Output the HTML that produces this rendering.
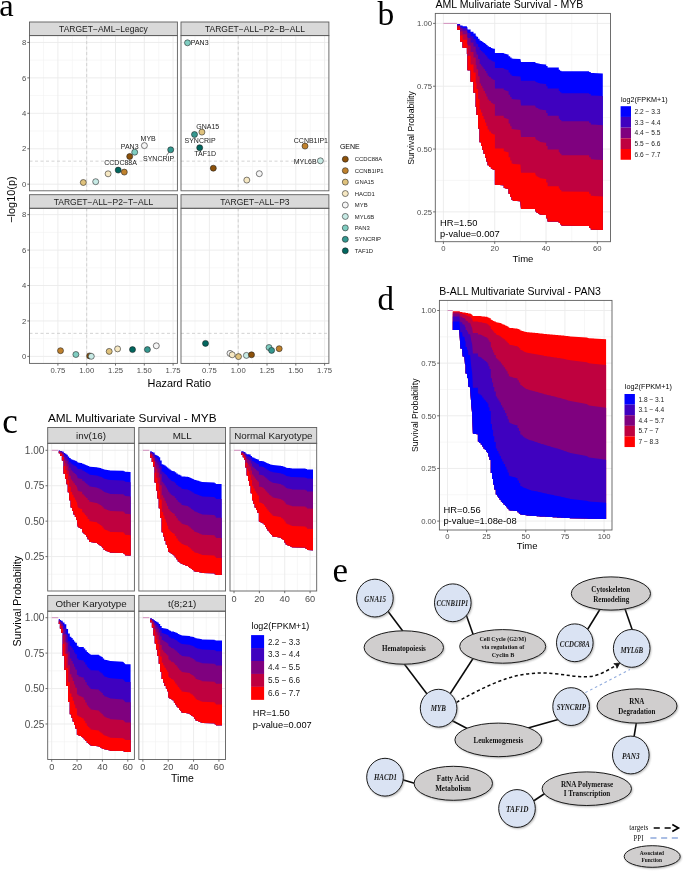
<!DOCTYPE html>
<html><head><meta charset="utf-8"><title>Figure</title>
<style>
html,body{margin:0;padding:0;background:#fff;}
body{width:685px;height:874px;overflow:hidden;}
svg{display:block;}
</style></head>
<body>
<svg width="685" height="874" viewBox="0 0 685 874">
<defs><filter id="blur" x="-20%" y="-20%" width="140%" height="140%"><feGaussianBlur stdDeviation="0.8"/></filter></defs>
<rect x="0" y="0" width="685" height="874" fill="#fff"/>
<g opacity="0.999">
<text x="-0.80" y="15.90" font-family="'Liberation Serif', serif" font-size="32.5" text-anchor="start" fill="#000" font-weight="normal" font-style="normal" >a</text>
<line x1="43.50" y1="35.60" x2="43.50" y2="190.80" stroke="#f2f2f2" stroke-width="0.6" />
<line x1="72.30" y1="35.60" x2="72.30" y2="190.80" stroke="#f2f2f2" stroke-width="0.6" />
<line x1="101.10" y1="35.60" x2="101.10" y2="190.80" stroke="#f2f2f2" stroke-width="0.6" />
<line x1="129.90" y1="35.60" x2="129.90" y2="190.80" stroke="#f2f2f2" stroke-width="0.6" />
<line x1="158.70" y1="35.60" x2="158.70" y2="190.80" stroke="#f2f2f2" stroke-width="0.6" />
<line x1="29.50" y1="166.48" x2="177.40" y2="166.48" stroke="#f2f2f2" stroke-width="0.6" />
<line x1="29.50" y1="131.04" x2="177.40" y2="131.04" stroke="#f2f2f2" stroke-width="0.6" />
<line x1="29.50" y1="95.60" x2="177.40" y2="95.60" stroke="#f2f2f2" stroke-width="0.6" />
<line x1="29.50" y1="60.16" x2="177.40" y2="60.16" stroke="#f2f2f2" stroke-width="0.6" />
<line x1="57.90" y1="35.60" x2="57.90" y2="190.80" stroke="#ebebeb" stroke-width="0.9" />
<line x1="86.70" y1="35.60" x2="86.70" y2="190.80" stroke="#ebebeb" stroke-width="0.9" />
<line x1="115.50" y1="35.60" x2="115.50" y2="190.80" stroke="#ebebeb" stroke-width="0.9" />
<line x1="144.30" y1="35.60" x2="144.30" y2="190.80" stroke="#ebebeb" stroke-width="0.9" />
<line x1="173.10" y1="35.60" x2="173.10" y2="190.80" stroke="#ebebeb" stroke-width="0.9" />
<line x1="29.50" y1="184.20" x2="177.40" y2="184.20" stroke="#ebebeb" stroke-width="0.9" />
<line x1="29.50" y1="148.76" x2="177.40" y2="148.76" stroke="#ebebeb" stroke-width="0.9" />
<line x1="29.50" y1="113.32" x2="177.40" y2="113.32" stroke="#ebebeb" stroke-width="0.9" />
<line x1="29.50" y1="77.88" x2="177.40" y2="77.88" stroke="#ebebeb" stroke-width="0.9" />
<line x1="29.50" y1="42.44" x2="177.40" y2="42.44" stroke="#ebebeb" stroke-width="0.9" />
<line x1="86.70" y1="35.60" x2="86.70" y2="190.80" stroke="#c8c8c8" stroke-width="0.8" stroke-dasharray="3,2.5"/>
<line x1="29.50" y1="161.15" x2="177.40" y2="161.15" stroke="#c8c8c8" stroke-width="0.8" stroke-dasharray="3,2.5"/>
<rect x="29.50" y="22.00" width="147.90" height="13.60" fill="#d9d9d9" stroke="#5e5e5e" stroke-width="0.9" />
<text x="103.45" y="32.00" font-family="'Liberation Sans', sans-serif" font-size="8.5" text-anchor="middle" fill="#1a1a1a" font-weight="normal" font-style="normal" >TARGET−AML−Legacy</text>
<rect x="29.50" y="35.60" width="147.90" height="155.20" fill="none" stroke="#5e5e5e" stroke-width="0.9" />
<line x1="27.30" y1="184.20" x2="29.50" y2="184.20" stroke="#5e5e5e" stroke-width="0.9" />
<text x="26.20" y="186.90" font-family="'Liberation Sans', sans-serif" font-size="7.7" text-anchor="end" fill="#4d4d4d" font-weight="normal" font-style="normal" >0</text>
<line x1="27.30" y1="148.76" x2="29.50" y2="148.76" stroke="#5e5e5e" stroke-width="0.9" />
<text x="26.20" y="151.46" font-family="'Liberation Sans', sans-serif" font-size="7.7" text-anchor="end" fill="#4d4d4d" font-weight="normal" font-style="normal" >2</text>
<line x1="27.30" y1="113.32" x2="29.50" y2="113.32" stroke="#5e5e5e" stroke-width="0.9" />
<text x="26.20" y="116.02" font-family="'Liberation Sans', sans-serif" font-size="7.7" text-anchor="end" fill="#4d4d4d" font-weight="normal" font-style="normal" >4</text>
<line x1="27.30" y1="77.88" x2="29.50" y2="77.88" stroke="#5e5e5e" stroke-width="0.9" />
<text x="26.20" y="80.58" font-family="'Liberation Sans', sans-serif" font-size="7.7" text-anchor="end" fill="#4d4d4d" font-weight="normal" font-style="normal" >6</text>
<line x1="27.30" y1="42.44" x2="29.50" y2="42.44" stroke="#5e5e5e" stroke-width="0.9" />
<text x="26.20" y="45.14" font-family="'Liberation Sans', sans-serif" font-size="7.7" text-anchor="end" fill="#4d4d4d" font-weight="normal" font-style="normal" >8</text>
<line x1="195.00" y1="35.60" x2="195.00" y2="190.80" stroke="#f2f2f2" stroke-width="0.6" />
<line x1="223.80" y1="35.60" x2="223.80" y2="190.80" stroke="#f2f2f2" stroke-width="0.6" />
<line x1="252.60" y1="35.60" x2="252.60" y2="190.80" stroke="#f2f2f2" stroke-width="0.6" />
<line x1="281.40" y1="35.60" x2="281.40" y2="190.80" stroke="#f2f2f2" stroke-width="0.6" />
<line x1="310.20" y1="35.60" x2="310.20" y2="190.80" stroke="#f2f2f2" stroke-width="0.6" />
<line x1="181.00" y1="166.48" x2="328.90" y2="166.48" stroke="#f2f2f2" stroke-width="0.6" />
<line x1="181.00" y1="131.04" x2="328.90" y2="131.04" stroke="#f2f2f2" stroke-width="0.6" />
<line x1="181.00" y1="95.60" x2="328.90" y2="95.60" stroke="#f2f2f2" stroke-width="0.6" />
<line x1="181.00" y1="60.16" x2="328.90" y2="60.16" stroke="#f2f2f2" stroke-width="0.6" />
<line x1="209.40" y1="35.60" x2="209.40" y2="190.80" stroke="#ebebeb" stroke-width="0.9" />
<line x1="238.20" y1="35.60" x2="238.20" y2="190.80" stroke="#ebebeb" stroke-width="0.9" />
<line x1="267.00" y1="35.60" x2="267.00" y2="190.80" stroke="#ebebeb" stroke-width="0.9" />
<line x1="295.80" y1="35.60" x2="295.80" y2="190.80" stroke="#ebebeb" stroke-width="0.9" />
<line x1="324.60" y1="35.60" x2="324.60" y2="190.80" stroke="#ebebeb" stroke-width="0.9" />
<line x1="181.00" y1="184.20" x2="328.90" y2="184.20" stroke="#ebebeb" stroke-width="0.9" />
<line x1="181.00" y1="148.76" x2="328.90" y2="148.76" stroke="#ebebeb" stroke-width="0.9" />
<line x1="181.00" y1="113.32" x2="328.90" y2="113.32" stroke="#ebebeb" stroke-width="0.9" />
<line x1="181.00" y1="77.88" x2="328.90" y2="77.88" stroke="#ebebeb" stroke-width="0.9" />
<line x1="181.00" y1="42.44" x2="328.90" y2="42.44" stroke="#ebebeb" stroke-width="0.9" />
<line x1="238.20" y1="35.60" x2="238.20" y2="190.80" stroke="#c8c8c8" stroke-width="0.8" stroke-dasharray="3,2.5"/>
<line x1="181.00" y1="161.15" x2="328.90" y2="161.15" stroke="#c8c8c8" stroke-width="0.8" stroke-dasharray="3,2.5"/>
<rect x="181.00" y="22.00" width="147.90" height="13.60" fill="#d9d9d9" stroke="#5e5e5e" stroke-width="0.9" />
<text x="254.95" y="32.00" font-family="'Liberation Sans', sans-serif" font-size="8.5" text-anchor="middle" fill="#1a1a1a" font-weight="normal" font-style="normal" >TARGET−ALL−P2−B−ALL</text>
<rect x="181.00" y="35.60" width="147.90" height="155.20" fill="none" stroke="#5e5e5e" stroke-width="0.9" />
<line x1="43.50" y1="208.30" x2="43.50" y2="363.40" stroke="#f2f2f2" stroke-width="0.6" />
<line x1="72.30" y1="208.30" x2="72.30" y2="363.40" stroke="#f2f2f2" stroke-width="0.6" />
<line x1="101.10" y1="208.30" x2="101.10" y2="363.40" stroke="#f2f2f2" stroke-width="0.6" />
<line x1="129.90" y1="208.30" x2="129.90" y2="363.40" stroke="#f2f2f2" stroke-width="0.6" />
<line x1="158.70" y1="208.30" x2="158.70" y2="363.40" stroke="#f2f2f2" stroke-width="0.6" />
<line x1="29.50" y1="338.68" x2="177.40" y2="338.68" stroke="#f2f2f2" stroke-width="0.6" />
<line x1="29.50" y1="303.24" x2="177.40" y2="303.24" stroke="#f2f2f2" stroke-width="0.6" />
<line x1="29.50" y1="267.80" x2="177.40" y2="267.80" stroke="#f2f2f2" stroke-width="0.6" />
<line x1="29.50" y1="232.36" x2="177.40" y2="232.36" stroke="#f2f2f2" stroke-width="0.6" />
<line x1="57.90" y1="208.30" x2="57.90" y2="363.40" stroke="#ebebeb" stroke-width="0.9" />
<line x1="86.70" y1="208.30" x2="86.70" y2="363.40" stroke="#ebebeb" stroke-width="0.9" />
<line x1="115.50" y1="208.30" x2="115.50" y2="363.40" stroke="#ebebeb" stroke-width="0.9" />
<line x1="144.30" y1="208.30" x2="144.30" y2="363.40" stroke="#ebebeb" stroke-width="0.9" />
<line x1="173.10" y1="208.30" x2="173.10" y2="363.40" stroke="#ebebeb" stroke-width="0.9" />
<line x1="29.50" y1="356.40" x2="177.40" y2="356.40" stroke="#ebebeb" stroke-width="0.9" />
<line x1="29.50" y1="320.96" x2="177.40" y2="320.96" stroke="#ebebeb" stroke-width="0.9" />
<line x1="29.50" y1="285.52" x2="177.40" y2="285.52" stroke="#ebebeb" stroke-width="0.9" />
<line x1="29.50" y1="250.08" x2="177.40" y2="250.08" stroke="#ebebeb" stroke-width="0.9" />
<line x1="29.50" y1="214.64" x2="177.40" y2="214.64" stroke="#ebebeb" stroke-width="0.9" />
<line x1="86.70" y1="208.30" x2="86.70" y2="363.40" stroke="#c8c8c8" stroke-width="0.8" stroke-dasharray="3,2.5"/>
<line x1="29.50" y1="333.35" x2="177.40" y2="333.35" stroke="#c8c8c8" stroke-width="0.8" stroke-dasharray="3,2.5"/>
<rect x="29.50" y="194.70" width="147.90" height="13.60" fill="#d9d9d9" stroke="#5e5e5e" stroke-width="0.9" />
<text x="103.45" y="204.70" font-family="'Liberation Sans', sans-serif" font-size="8.5" text-anchor="middle" fill="#1a1a1a" font-weight="normal" font-style="normal" >TARGET−ALL−P2−T−ALL</text>
<rect x="29.50" y="208.30" width="147.90" height="155.10" fill="none" stroke="#5e5e5e" stroke-width="0.9" />
<line x1="27.30" y1="356.40" x2="29.50" y2="356.40" stroke="#5e5e5e" stroke-width="0.9" />
<text x="26.20" y="359.10" font-family="'Liberation Sans', sans-serif" font-size="7.7" text-anchor="end" fill="#4d4d4d" font-weight="normal" font-style="normal" >0</text>
<line x1="27.30" y1="320.96" x2="29.50" y2="320.96" stroke="#5e5e5e" stroke-width="0.9" />
<text x="26.20" y="323.66" font-family="'Liberation Sans', sans-serif" font-size="7.7" text-anchor="end" fill="#4d4d4d" font-weight="normal" font-style="normal" >2</text>
<line x1="27.30" y1="285.52" x2="29.50" y2="285.52" stroke="#5e5e5e" stroke-width="0.9" />
<text x="26.20" y="288.22" font-family="'Liberation Sans', sans-serif" font-size="7.7" text-anchor="end" fill="#4d4d4d" font-weight="normal" font-style="normal" >4</text>
<line x1="27.30" y1="250.08" x2="29.50" y2="250.08" stroke="#5e5e5e" stroke-width="0.9" />
<text x="26.20" y="252.78" font-family="'Liberation Sans', sans-serif" font-size="7.7" text-anchor="end" fill="#4d4d4d" font-weight="normal" font-style="normal" >6</text>
<line x1="27.30" y1="214.64" x2="29.50" y2="214.64" stroke="#5e5e5e" stroke-width="0.9" />
<text x="26.20" y="217.34" font-family="'Liberation Sans', sans-serif" font-size="7.7" text-anchor="end" fill="#4d4d4d" font-weight="normal" font-style="normal" >8</text>
<line x1="57.90" y1="363.40" x2="57.90" y2="365.60" stroke="#5e5e5e" stroke-width="0.9" />
<text x="57.90" y="372.90" font-family="'Liberation Sans', sans-serif" font-size="7.7" text-anchor="middle" fill="#4d4d4d" font-weight="normal" font-style="normal" >0.75</text>
<line x1="86.70" y1="363.40" x2="86.70" y2="365.60" stroke="#5e5e5e" stroke-width="0.9" />
<text x="86.70" y="372.90" font-family="'Liberation Sans', sans-serif" font-size="7.7" text-anchor="middle" fill="#4d4d4d" font-weight="normal" font-style="normal" >1.00</text>
<line x1="115.50" y1="363.40" x2="115.50" y2="365.60" stroke="#5e5e5e" stroke-width="0.9" />
<text x="115.50" y="372.90" font-family="'Liberation Sans', sans-serif" font-size="7.7" text-anchor="middle" fill="#4d4d4d" font-weight="normal" font-style="normal" >1.25</text>
<line x1="144.30" y1="363.40" x2="144.30" y2="365.60" stroke="#5e5e5e" stroke-width="0.9" />
<text x="144.30" y="372.90" font-family="'Liberation Sans', sans-serif" font-size="7.7" text-anchor="middle" fill="#4d4d4d" font-weight="normal" font-style="normal" >1.50</text>
<line x1="173.10" y1="363.40" x2="173.10" y2="365.60" stroke="#5e5e5e" stroke-width="0.9" />
<text x="173.10" y="372.90" font-family="'Liberation Sans', sans-serif" font-size="7.7" text-anchor="middle" fill="#4d4d4d" font-weight="normal" font-style="normal" >1.75</text>
<line x1="195.00" y1="208.30" x2="195.00" y2="363.40" stroke="#f2f2f2" stroke-width="0.6" />
<line x1="223.80" y1="208.30" x2="223.80" y2="363.40" stroke="#f2f2f2" stroke-width="0.6" />
<line x1="252.60" y1="208.30" x2="252.60" y2="363.40" stroke="#f2f2f2" stroke-width="0.6" />
<line x1="281.40" y1="208.30" x2="281.40" y2="363.40" stroke="#f2f2f2" stroke-width="0.6" />
<line x1="310.20" y1="208.30" x2="310.20" y2="363.40" stroke="#f2f2f2" stroke-width="0.6" />
<line x1="181.00" y1="338.68" x2="328.90" y2="338.68" stroke="#f2f2f2" stroke-width="0.6" />
<line x1="181.00" y1="303.24" x2="328.90" y2="303.24" stroke="#f2f2f2" stroke-width="0.6" />
<line x1="181.00" y1="267.80" x2="328.90" y2="267.80" stroke="#f2f2f2" stroke-width="0.6" />
<line x1="181.00" y1="232.36" x2="328.90" y2="232.36" stroke="#f2f2f2" stroke-width="0.6" />
<line x1="209.40" y1="208.30" x2="209.40" y2="363.40" stroke="#ebebeb" stroke-width="0.9" />
<line x1="238.20" y1="208.30" x2="238.20" y2="363.40" stroke="#ebebeb" stroke-width="0.9" />
<line x1="267.00" y1="208.30" x2="267.00" y2="363.40" stroke="#ebebeb" stroke-width="0.9" />
<line x1="295.80" y1="208.30" x2="295.80" y2="363.40" stroke="#ebebeb" stroke-width="0.9" />
<line x1="324.60" y1="208.30" x2="324.60" y2="363.40" stroke="#ebebeb" stroke-width="0.9" />
<line x1="181.00" y1="356.40" x2="328.90" y2="356.40" stroke="#ebebeb" stroke-width="0.9" />
<line x1="181.00" y1="320.96" x2="328.90" y2="320.96" stroke="#ebebeb" stroke-width="0.9" />
<line x1="181.00" y1="285.52" x2="328.90" y2="285.52" stroke="#ebebeb" stroke-width="0.9" />
<line x1="181.00" y1="250.08" x2="328.90" y2="250.08" stroke="#ebebeb" stroke-width="0.9" />
<line x1="181.00" y1="214.64" x2="328.90" y2="214.64" stroke="#ebebeb" stroke-width="0.9" />
<line x1="238.20" y1="208.30" x2="238.20" y2="363.40" stroke="#c8c8c8" stroke-width="0.8" stroke-dasharray="3,2.5"/>
<line x1="181.00" y1="333.35" x2="328.90" y2="333.35" stroke="#c8c8c8" stroke-width="0.8" stroke-dasharray="3,2.5"/>
<rect x="181.00" y="194.70" width="147.90" height="13.60" fill="#d9d9d9" stroke="#5e5e5e" stroke-width="0.9" />
<text x="254.95" y="204.70" font-family="'Liberation Sans', sans-serif" font-size="8.5" text-anchor="middle" fill="#1a1a1a" font-weight="normal" font-style="normal" >TARGET−ALL−P3</text>
<rect x="181.00" y="208.30" width="147.90" height="155.10" fill="none" stroke="#5e5e5e" stroke-width="0.9" />
<line x1="209.40" y1="363.40" x2="209.40" y2="365.60" stroke="#5e5e5e" stroke-width="0.9" />
<text x="209.40" y="372.90" font-family="'Liberation Sans', sans-serif" font-size="7.7" text-anchor="middle" fill="#4d4d4d" font-weight="normal" font-style="normal" >0.75</text>
<line x1="238.20" y1="363.40" x2="238.20" y2="365.60" stroke="#5e5e5e" stroke-width="0.9" />
<text x="238.20" y="372.90" font-family="'Liberation Sans', sans-serif" font-size="7.7" text-anchor="middle" fill="#4d4d4d" font-weight="normal" font-style="normal" >1.00</text>
<line x1="267.00" y1="363.40" x2="267.00" y2="365.60" stroke="#5e5e5e" stroke-width="0.9" />
<text x="267.00" y="372.90" font-family="'Liberation Sans', sans-serif" font-size="7.7" text-anchor="middle" fill="#4d4d4d" font-weight="normal" font-style="normal" >1.25</text>
<line x1="295.80" y1="363.40" x2="295.80" y2="365.60" stroke="#5e5e5e" stroke-width="0.9" />
<text x="295.80" y="372.90" font-family="'Liberation Sans', sans-serif" font-size="7.7" text-anchor="middle" fill="#4d4d4d" font-weight="normal" font-style="normal" >1.50</text>
<line x1="324.60" y1="363.40" x2="324.60" y2="365.60" stroke="#5e5e5e" stroke-width="0.9" />
<text x="324.60" y="372.90" font-family="'Liberation Sans', sans-serif" font-size="7.7" text-anchor="middle" fill="#4d4d4d" font-weight="normal" font-style="normal" >1.75</text>
<line x1="170.70" y1="149.80" x2="166.50" y2="155.50" stroke="#222" stroke-width="0.6" />
<circle cx="83.30" cy="182.50" r="3.00" fill="#dfc27d" stroke="#1a1a1a" stroke-width="0.55" />
<circle cx="95.70" cy="181.70" r="3.00" fill="#c7eae5" stroke="#1a1a1a" stroke-width="0.55" />
<circle cx="108.10" cy="173.80" r="3.00" fill="#f6e8c3" stroke="#1a1a1a" stroke-width="0.55" />
<circle cx="118.20" cy="170.10" r="3.00" fill="#01665e" stroke="#1a1a1a" stroke-width="0.55" />
<circle cx="124.30" cy="172.10" r="3.00" fill="#bf812d" stroke="#1a1a1a" stroke-width="0.55" />
<circle cx="129.70" cy="156.50" r="3.00" fill="#8c510a" stroke="#1a1a1a" stroke-width="0.55" />
<circle cx="134.70" cy="152.20" r="3.00" fill="#80cdc1" stroke="#1a1a1a" stroke-width="0.55" />
<circle cx="144.40" cy="145.60" r="3.00" fill="#f5f5f5" stroke="#1a1a1a" stroke-width="0.55" />
<circle cx="170.70" cy="149.80" r="3.00" fill="#35978f" stroke="#1a1a1a" stroke-width="0.55" />
<circle cx="187.50" cy="42.80" r="3.00" fill="#80cdc1" stroke="#1a1a1a" stroke-width="0.55" />
<circle cx="194.50" cy="134.50" r="3.00" fill="#35978f" stroke="#1a1a1a" stroke-width="0.55" />
<circle cx="201.90" cy="132.10" r="3.00" fill="#dfc27d" stroke="#1a1a1a" stroke-width="0.55" />
<circle cx="199.70" cy="147.70" r="3.00" fill="#01665e" stroke="#1a1a1a" stroke-width="0.55" />
<circle cx="213.30" cy="168.20" r="3.00" fill="#8c510a" stroke="#1a1a1a" stroke-width="0.55" />
<circle cx="246.80" cy="180.10" r="3.00" fill="#f6e8c3" stroke="#1a1a1a" stroke-width="0.55" />
<circle cx="259.30" cy="173.70" r="3.00" fill="#f5f5f5" stroke="#1a1a1a" stroke-width="0.55" />
<circle cx="305.00" cy="146.10" r="3.00" fill="#bf812d" stroke="#1a1a1a" stroke-width="0.55" />
<circle cx="320.40" cy="160.80" r="3.00" fill="#c7eae5" stroke="#1a1a1a" stroke-width="0.55" />
<circle cx="60.50" cy="350.70" r="3.00" fill="#bf812d" stroke="#1a1a1a" stroke-width="0.55" />
<circle cx="75.90" cy="354.50" r="3.00" fill="#80cdc1" stroke="#1a1a1a" stroke-width="0.55" />
<circle cx="89.60" cy="355.90" r="3.00" fill="#8c510a" stroke="#1a1a1a" stroke-width="0.55" />
<circle cx="91.30" cy="356.30" r="3.00" fill="#c7eae5" stroke="#1a1a1a" stroke-width="0.55" />
<circle cx="109.20" cy="351.40" r="3.00" fill="#dfc27d" stroke="#1a1a1a" stroke-width="0.55" />
<circle cx="117.60" cy="348.90" r="3.00" fill="#f6e8c3" stroke="#1a1a1a" stroke-width="0.55" />
<circle cx="132.50" cy="349.60" r="3.00" fill="#01665e" stroke="#1a1a1a" stroke-width="0.55" />
<circle cx="147.40" cy="349.60" r="3.00" fill="#35978f" stroke="#1a1a1a" stroke-width="0.55" />
<circle cx="156.30" cy="345.80" r="3.00" fill="#f5f5f5" stroke="#1a1a1a" stroke-width="0.55" />
<circle cx="205.50" cy="343.40" r="3.00" fill="#01665e" stroke="#1a1a1a" stroke-width="0.55" />
<circle cx="230.00" cy="353.40" r="3.00" fill="#f5f5f5" stroke="#1a1a1a" stroke-width="0.55" />
<circle cx="232.20" cy="354.80" r="3.00" fill="#f6e8c3" stroke="#1a1a1a" stroke-width="0.55" />
<circle cx="238.50" cy="356.60" r="3.00" fill="#dfc27d" stroke="#1a1a1a" stroke-width="0.55" />
<circle cx="246.40" cy="355.40" r="3.00" fill="#c7eae5" stroke="#1a1a1a" stroke-width="0.55" />
<circle cx="251.50" cy="354.80" r="3.00" fill="#8c510a" stroke="#1a1a1a" stroke-width="0.55" />
<circle cx="269.00" cy="347.50" r="3.00" fill="#80cdc1" stroke="#1a1a1a" stroke-width="0.55" />
<circle cx="271.60" cy="350.40" r="3.00" fill="#35978f" stroke="#1a1a1a" stroke-width="0.55" />
<circle cx="279.20" cy="348.70" r="3.00" fill="#bf812d" stroke="#1a1a1a" stroke-width="0.55" />
<text x="148.20" y="140.90" font-family="'Liberation Sans', sans-serif" font-size="7.0" text-anchor="middle" fill="#1a1a1a" font-weight="normal" font-style="normal" >MYB</text>
<text x="129.70" y="148.90" font-family="'Liberation Sans', sans-serif" font-size="7.0" text-anchor="middle" fill="#1a1a1a" font-weight="normal" font-style="normal" >PAN3</text>
<text x="158.60" y="161.10" font-family="'Liberation Sans', sans-serif" font-size="7.0" text-anchor="middle" fill="#1a1a1a" font-weight="normal" font-style="normal" >SYNCRIP</text>
<text x="120.60" y="165.40" font-family="'Liberation Sans', sans-serif" font-size="7.0" text-anchor="middle" fill="#1a1a1a" font-weight="normal" font-style="normal" >CCDC88A</text>
<text x="207.80" y="128.90" font-family="'Liberation Sans', sans-serif" font-size="7.0" text-anchor="middle" fill="#1a1a1a" font-weight="normal" font-style="normal" >GNA15</text>
<text x="200.10" y="143.20" font-family="'Liberation Sans', sans-serif" font-size="7.0" text-anchor="middle" fill="#1a1a1a" font-weight="normal" font-style="normal" >SYNCRIP</text>
<text x="205.20" y="156.30" font-family="'Liberation Sans', sans-serif" font-size="7.0" text-anchor="middle" fill="#1a1a1a" font-weight="normal" font-style="normal" >TAF1D</text>
<text x="310.90" y="142.70" font-family="'Liberation Sans', sans-serif" font-size="7.0" text-anchor="middle" fill="#1a1a1a" font-weight="normal" font-style="normal" >CCNB1IP1</text>
<text x="305.20" y="163.70" font-family="'Liberation Sans', sans-serif" font-size="7.0" text-anchor="middle" fill="#1a1a1a" font-weight="normal" font-style="normal" >MYL6B</text>
<text x="190.80" y="45.30" font-family="'Liberation Sans', sans-serif" font-size="7.0" text-anchor="start" fill="#1a1a1a" font-weight="normal" font-style="normal" >PAN3</text>
<text x="179.30" y="387.00" font-family="'Liberation Sans', sans-serif" font-size="10.9" text-anchor="middle" fill="#000" font-weight="normal" font-style="normal" >Hazard Ratio</text>
<text transform="translate(14.5,199.6) rotate(-90)" font-family="'Liberation Sans', sans-serif" font-size="10.9" text-anchor="middle">−log10(p)</text>
<text x="339.90" y="148.80" font-family="'Liberation Sans', sans-serif" font-size="7.0" text-anchor="start" fill="#000" font-weight="normal" font-style="normal" >GENE</text>
<circle cx="345.30" cy="159.20" r="3.00" fill="#8c510a" stroke="#1a1a1a" stroke-width="0.55" />
<text x="354.80" y="161.30" font-family="'Liberation Sans', sans-serif" font-size="5.9" text-anchor="start" fill="#1a1a1a" font-weight="normal" font-style="normal" >CCDC88A</text>
<circle cx="345.30" cy="170.65" r="3.00" fill="#bf812d" stroke="#1a1a1a" stroke-width="0.55" />
<text x="354.80" y="172.75" font-family="'Liberation Sans', sans-serif" font-size="5.9" text-anchor="start" fill="#1a1a1a" font-weight="normal" font-style="normal" >CCNB1IP1</text>
<circle cx="345.30" cy="182.10" r="3.00" fill="#dfc27d" stroke="#1a1a1a" stroke-width="0.55" />
<text x="354.80" y="184.20" font-family="'Liberation Sans', sans-serif" font-size="5.9" text-anchor="start" fill="#1a1a1a" font-weight="normal" font-style="normal" >GNA15</text>
<circle cx="345.30" cy="193.55" r="3.00" fill="#f6e8c3" stroke="#1a1a1a" stroke-width="0.55" />
<text x="354.80" y="195.65" font-family="'Liberation Sans', sans-serif" font-size="5.9" text-anchor="start" fill="#1a1a1a" font-weight="normal" font-style="normal" >HACD1</text>
<circle cx="345.30" cy="205.00" r="3.00" fill="#f5f5f5" stroke="#1a1a1a" stroke-width="0.55" />
<text x="354.80" y="207.10" font-family="'Liberation Sans', sans-serif" font-size="5.9" text-anchor="start" fill="#1a1a1a" font-weight="normal" font-style="normal" >MYB</text>
<circle cx="345.30" cy="216.45" r="3.00" fill="#c7eae5" stroke="#1a1a1a" stroke-width="0.55" />
<text x="354.80" y="218.55" font-family="'Liberation Sans', sans-serif" font-size="5.9" text-anchor="start" fill="#1a1a1a" font-weight="normal" font-style="normal" >MYL6B</text>
<circle cx="345.30" cy="227.90" r="3.00" fill="#80cdc1" stroke="#1a1a1a" stroke-width="0.55" />
<text x="354.80" y="230.00" font-family="'Liberation Sans', sans-serif" font-size="5.9" text-anchor="start" fill="#1a1a1a" font-weight="normal" font-style="normal" >PAN3</text>
<circle cx="345.30" cy="239.35" r="3.00" fill="#35978f" stroke="#1a1a1a" stroke-width="0.55" />
<text x="354.80" y="241.45" font-family="'Liberation Sans', sans-serif" font-size="5.9" text-anchor="start" fill="#1a1a1a" font-weight="normal" font-style="normal" >SYNCRIP</text>
<circle cx="345.30" cy="250.80" r="3.00" fill="#01665e" stroke="#1a1a1a" stroke-width="0.55" />
<text x="354.80" y="252.90" font-family="'Liberation Sans', sans-serif" font-size="5.9" text-anchor="start" fill="#1a1a1a" font-weight="normal" font-style="normal" >TAF1D</text>
<text x="377.60" y="25.30" font-family="'Liberation Serif', serif" font-size="33.5" text-anchor="start" fill="#000" font-weight="normal" font-style="normal" >b</text>
<text x="435.50" y="7.60" font-family="'Liberation Sans', sans-serif" font-size="10.55" text-anchor="start" fill="#000" font-weight="normal" font-style="normal" >AML Mulivariate Survival - MYB</text>
<line x1="469.06" y1="13.40" x2="469.06" y2="241.70" stroke="#f2f2f2" stroke-width="0.6" />
<line x1="520.38" y1="13.40" x2="520.38" y2="241.70" stroke="#f2f2f2" stroke-width="0.6" />
<line x1="571.70" y1="13.40" x2="571.70" y2="241.70" stroke="#f2f2f2" stroke-width="0.6" />
<line x1="435.30" y1="180.46" x2="610.50" y2="180.46" stroke="#f2f2f2" stroke-width="0.6" />
<line x1="435.30" y1="117.64" x2="610.50" y2="117.64" stroke="#f2f2f2" stroke-width="0.6" />
<line x1="435.30" y1="54.81" x2="610.50" y2="54.81" stroke="#f2f2f2" stroke-width="0.6" />
<line x1="443.40" y1="13.40" x2="443.40" y2="241.70" stroke="#ebebeb" stroke-width="0.9" />
<line x1="494.72" y1="13.40" x2="494.72" y2="241.70" stroke="#ebebeb" stroke-width="0.9" />
<line x1="546.04" y1="13.40" x2="546.04" y2="241.70" stroke="#ebebeb" stroke-width="0.9" />
<line x1="597.36" y1="13.40" x2="597.36" y2="241.70" stroke="#ebebeb" stroke-width="0.9" />
<line x1="435.30" y1="211.88" x2="610.50" y2="211.88" stroke="#ebebeb" stroke-width="0.9" />
<line x1="435.30" y1="149.05" x2="610.50" y2="149.05" stroke="#ebebeb" stroke-width="0.9" />
<line x1="435.30" y1="86.22" x2="610.50" y2="86.22" stroke="#ebebeb" stroke-width="0.9" />
<line x1="435.30" y1="23.40" x2="610.50" y2="23.40" stroke="#ebebeb" stroke-width="0.9" />
<path d="M457.1,23.4 L457.1,24.1 L460.1,24.1 L460.1,25.5 L462.6,25.5 L462.6,26.3 L466.9,26.3 L466.9,27.3 L467.5,27.3 L467.5,29.6 L468.1,29.6 L470.6,29.6 L470.6,31.8 L473.5,31.8 L473.5,33.5 L475.7,33.5 L475.7,35.7 L476.5,35.7 L476.5,36.8 L477.4,36.8 L478.1,36.8 L478.1,38.7 L478.9,38.7 L479.6,38.7 L479.6,40.5 L480.3,40.5 L481.0,40.5 L481.0,41.1 L481.6,41.1 L482.3,41.1 L482.3,42.0 L483.0,42.0 L483.6,42.0 L483.6,42.9 L484.3,42.9 L485.0,42.9 L485.0,43.8 L485.6,43.8 L486.3,43.8 L486.3,45.0 L487.0,45.0 L487.6,45.0 L487.6,46.2 L488.3,46.2 L489.1,46.2 L489.1,47.1 L490.0,47.1 L490.9,47.1 L490.9,47.9 L491.7,47.9 L492.3,47.9 L492.3,48.4 L492.9,48.4 L493.4,48.4 L493.4,48.8 L494.0,48.8 L494.9,48.8 L494.9,53.1 L495.7,53.1 L503.2,53.1 L503.8,53.1 L503.8,53.6 L504.3,53.6 L507.8,54.5 L508.6,54.5 L508.6,56.3 L509.5,56.3 L510.2,56.3 L510.2,57.6 L510.9,57.6 L511.6,57.6 L511.6,58.6 L512.3,58.6 L513.5,58.7 L520.4,59.0 L521.0,62.0 L535.1,62.0 L535.8,62.9 L536.6,62.9 L536.6,63.3 L537.3,63.3 L538.1,63.3 L538.1,63.6 L538.9,63.6 L539.6,63.6 L539.6,64.0 L540.4,64.0 L545.6,64.5 L546.2,64.5 L546.2,66.0 L546.9,66.0 L547.6,66.0 L547.6,67.6 L548.2,67.6 L558.1,67.6 L558.8,67.6 L558.8,69.8 L559.4,69.8 L560.0,69.8 L560.0,70.7 L560.7,70.7 L561.4,70.7 L561.4,71.3 L562.0,71.3 L588.3,71.3 L589.1,71.3 L589.1,71.9 L590.0,71.9 L590.8,71.9 L590.8,72.9 L591.6,72.9 L602.8,73.4 L602.8,230.1 L591.6,229.5 L590.8,229.5 L590.8,227.7 L590.0,227.7 L589.1,227.7 L589.1,225.9 L588.3,225.9 L562.0,225.5 L561.4,225.5 L561.4,224.2 L560.7,224.2 L560.0,224.2 L560.0,222.9 L559.4,222.9 L558.8,222.9 L558.8,221.6 L558.1,221.6 L548.2,221.6 L547.6,221.6 L547.6,218.3 L546.9,218.3 L546.2,218.3 L546.2,215.0 L545.6,215.0 L540.4,214.4 L539.6,214.4 L539.6,213.5 L538.9,213.5 L538.1,213.5 L538.1,212.7 L537.3,212.7 L536.6,212.7 L536.6,211.8 L535.8,211.8 L535.1,209.1 L521.0,209.1 L520.4,201.2 L513.5,200.7 L512.3,200.0 L511.6,200.0 L511.6,196.9 L510.9,196.9 L510.2,196.9 L510.2,193.8 L509.5,193.8 L508.6,193.8 L508.6,188.7 L507.8,188.7 L504.3,188.1 L503.8,188.1 L503.8,185.2 L503.2,185.2 L495.7,184.7 L494.9,184.7 L494.9,169.8 L494.0,169.8 L493.4,169.8 L493.4,169.2 L492.9,169.2 L492.3,169.2 L492.3,168.6 L491.7,168.6 L490.9,168.6 L490.9,166.9 L490.0,166.9 L489.1,166.9 L489.1,165.2 L488.3,165.2 L487.6,165.2 L487.6,161.4 L487.0,161.4 L486.3,161.4 L486.3,157.6 L485.6,157.6 L485.0,157.6 L485.0,153.8 L484.3,153.8 L483.6,153.8 L483.6,150.0 L483.0,150.0 L482.3,150.0 L482.3,146.1 L481.6,146.1 L481.0,146.1 L481.0,142.3 L480.3,142.3 L479.6,142.3 L479.6,128.6 L478.9,128.6 L478.1,128.6 L478.1,114.9 L477.4,114.9 L476.5,114.9 L476.5,107.0 L475.7,107.0 L475.7,92.7 L473.5,92.7 L473.5,81.8 L470.6,81.8 L470.6,70.3 L468.1,70.3 L467.5,70.3 L467.5,53.9 L466.9,53.9 L466.9,47.8 L462.6,47.8 L462.6,41.7 L460.1,41.7 L460.1,29.7 L457.1,29.7 L457.1,23.4 Z" fill="#0000FF"/>
<path d="M457.1,23.4 L457.1,24.5 L460.1,24.5 L460.1,26.8 L462.6,26.8 L462.6,28.0 L466.9,28.0 L466.9,29.4 L467.5,29.4 L467.5,33.0 L468.1,33.0 L470.6,33.0 L470.6,36.2 L473.5,36.2 L473.5,38.9 L475.7,38.9 L475.7,42.3 L476.5,42.3 L476.5,44.0 L477.4,44.0 L478.1,44.0 L478.1,47.0 L478.9,47.0 L479.6,47.0 L479.6,50.0 L480.3,50.0 L481.0,50.0 L481.0,51.0 L481.6,51.0 L482.3,51.0 L482.3,52.3 L483.0,52.3 L483.6,52.3 L483.6,53.6 L484.3,53.6 L485.0,53.6 L485.0,55.0 L485.6,55.0 L486.3,55.0 L486.3,56.6 L487.0,56.6 L487.6,56.6 L487.6,58.4 L488.3,58.4 L489.1,58.4 L489.1,59.5 L490.0,59.5 L490.9,59.5 L490.9,60.6 L491.7,60.6 L492.3,60.6 L492.3,61.3 L492.9,61.3 L493.4,61.3 L493.4,61.8 L494.0,61.8 L494.9,61.8 L494.9,68.1 L495.7,68.1 L503.2,68.1 L503.8,68.1 L503.8,68.9 L504.3,68.9 L507.8,69.9 L508.6,69.9 L508.6,72.5 L509.5,72.5 L510.2,72.5 L510.2,74.4 L510.9,74.4 L511.6,74.4 L511.6,75.8 L512.3,75.8 L513.5,76.0 L520.4,76.4 L521.0,80.7 L535.1,80.7 L535.8,82.0 L536.6,82.0 L536.6,82.5 L537.3,82.5 L538.1,82.5 L538.1,82.9 L538.9,82.9 L539.6,82.9 L539.6,83.5 L540.4,83.5 L545.6,84.1 L546.2,84.1 L546.2,86.2 L546.9,86.2 L547.6,86.2 L547.6,88.5 L548.2,88.5 L558.1,88.5 L558.8,88.5 L558.8,91.0 L559.4,91.0 L560.0,91.0 L560.0,92.2 L560.7,92.2 L561.4,92.2 L561.4,93.2 L562.0,93.2 L588.3,93.2 L589.1,93.2 L589.1,94.1 L590.0,94.1 L590.8,94.1 L590.8,95.5 L591.6,95.5 L602.8,96.1 L602.8,230.1 L591.6,229.5 L590.8,229.5 L590.8,227.7 L590.0,227.7 L589.1,227.7 L589.1,225.9 L588.3,225.9 L562.0,225.5 L561.4,225.5 L561.4,224.2 L560.7,224.2 L560.0,224.2 L560.0,222.9 L559.4,222.9 L558.8,222.9 L558.8,221.6 L558.1,221.6 L548.2,221.6 L547.6,221.6 L547.6,218.3 L546.9,218.3 L546.2,218.3 L546.2,215.0 L545.6,215.0 L540.4,214.4 L539.6,214.4 L539.6,213.5 L538.9,213.5 L538.1,213.5 L538.1,212.7 L537.3,212.7 L536.6,212.7 L536.6,211.8 L535.8,211.8 L535.1,209.1 L521.0,209.1 L520.4,201.2 L513.5,200.7 L512.3,200.0 L511.6,200.0 L511.6,196.9 L510.9,196.9 L510.2,196.9 L510.2,193.8 L509.5,193.8 L508.6,193.8 L508.6,188.7 L507.8,188.7 L504.3,188.1 L503.8,188.1 L503.8,185.2 L503.2,185.2 L495.7,184.7 L494.9,184.7 L494.9,169.8 L494.0,169.8 L493.4,169.8 L493.4,169.2 L492.9,169.2 L492.3,169.2 L492.3,168.6 L491.7,168.6 L490.9,168.6 L490.9,166.9 L490.0,166.9 L489.1,166.9 L489.1,165.2 L488.3,165.2 L487.6,165.2 L487.6,161.4 L487.0,161.4 L486.3,161.4 L486.3,157.6 L485.6,157.6 L485.0,157.6 L485.0,153.8 L484.3,153.8 L483.6,153.8 L483.6,150.0 L483.0,150.0 L482.3,150.0 L482.3,146.1 L481.6,146.1 L481.0,146.1 L481.0,142.3 L480.3,142.3 L479.6,142.3 L479.6,128.6 L478.9,128.6 L478.1,128.6 L478.1,114.9 L477.4,114.9 L476.5,114.9 L476.5,107.0 L475.7,107.0 L475.7,92.7 L473.5,92.7 L473.5,81.8 L470.6,81.8 L470.6,70.3 L468.1,70.3 L467.5,70.3 L467.5,53.9 L466.9,53.9 L466.9,47.8 L462.6,47.8 L462.6,41.7 L460.1,41.7 L460.1,29.7 L457.1,29.7 L457.1,23.4 Z" fill="#3F00BF"/>
<path d="M457.1,23.4 L457.1,25.2 L460.1,25.2 L460.1,28.7 L462.6,28.7 L462.6,30.5 L466.9,30.5 L466.9,32.6 L467.5,32.6 L467.5,38.0 L468.1,38.0 L470.6,38.0 L470.6,42.6 L473.5,42.6 L473.5,46.6 L475.7,46.6 L475.7,51.7 L476.5,51.7 L476.5,54.4 L477.4,54.4 L478.1,54.4 L478.1,59.1 L478.9,59.1 L479.6,59.1 L479.6,63.9 L480.3,63.9 L481.0,63.9 L481.0,65.4 L481.6,65.4 L482.3,65.4 L482.3,67.2 L483.0,67.2 L483.6,67.2 L483.6,69.1 L484.3,69.1 L485.0,69.1 L485.0,71.1 L485.6,71.1 L486.3,71.1 L486.3,73.3 L487.0,73.3 L487.6,73.3 L487.6,75.7 L488.3,75.7 L489.1,75.7 L489.1,77.1 L490.0,77.1 L490.9,77.1 L490.9,78.6 L491.7,78.6 L492.3,78.6 L492.3,79.3 L492.9,79.3 L493.4,79.3 L493.4,79.9 L494.0,79.9 L494.9,79.9 L494.9,88.6 L495.7,88.6 L503.2,88.6 L503.8,88.6 L503.8,90.0 L504.3,90.0 L507.8,91.2 L508.6,91.2 L508.6,94.7 L509.5,94.7 L510.2,94.7 L510.2,97.1 L510.9,97.1 L511.6,97.1 L511.6,99.0 L512.3,99.0 L513.5,99.3 L520.4,99.8 L521.0,105.6 L535.1,105.6 L535.8,107.4 L536.6,107.4 L536.6,108.1 L537.3,108.1 L538.1,108.1 L538.1,108.7 L538.9,108.7 L539.6,108.7 L539.6,109.4 L540.4,109.4 L545.6,110.2 L546.2,110.2 L546.2,112.9 L546.9,112.9 L547.6,112.9 L547.6,115.8 L548.2,115.8 L558.1,115.8 L558.8,115.8 L558.8,118.7 L559.4,118.7 L560.0,118.7 L560.0,120.1 L560.7,120.1 L561.4,120.1 L561.4,121.3 L562.0,121.3 L588.3,121.3 L589.1,121.3 L589.1,122.8 L590.0,122.8 L590.8,122.8 L590.8,124.5 L591.6,124.5 L602.8,125.2 L602.8,230.1 L591.6,229.5 L590.8,229.5 L590.8,227.7 L590.0,227.7 L589.1,227.7 L589.1,225.9 L588.3,225.9 L562.0,225.5 L561.4,225.5 L561.4,224.2 L560.7,224.2 L560.0,224.2 L560.0,222.9 L559.4,222.9 L558.8,222.9 L558.8,221.6 L558.1,221.6 L548.2,221.6 L547.6,221.6 L547.6,218.3 L546.9,218.3 L546.2,218.3 L546.2,215.0 L545.6,215.0 L540.4,214.4 L539.6,214.4 L539.6,213.5 L538.9,213.5 L538.1,213.5 L538.1,212.7 L537.3,212.7 L536.6,212.7 L536.6,211.8 L535.8,211.8 L535.1,209.1 L521.0,209.1 L520.4,201.2 L513.5,200.7 L512.3,200.0 L511.6,200.0 L511.6,196.9 L510.9,196.9 L510.2,196.9 L510.2,193.8 L509.5,193.8 L508.6,193.8 L508.6,188.7 L507.8,188.7 L504.3,188.1 L503.8,188.1 L503.8,185.2 L503.2,185.2 L495.7,184.7 L494.9,184.7 L494.9,169.8 L494.0,169.8 L493.4,169.8 L493.4,169.2 L492.9,169.2 L492.3,169.2 L492.3,168.6 L491.7,168.6 L490.9,168.6 L490.9,166.9 L490.0,166.9 L489.1,166.9 L489.1,165.2 L488.3,165.2 L487.6,165.2 L487.6,161.4 L487.0,161.4 L486.3,161.4 L486.3,157.6 L485.6,157.6 L485.0,157.6 L485.0,153.8 L484.3,153.8 L483.6,153.8 L483.6,150.0 L483.0,150.0 L482.3,150.0 L482.3,146.1 L481.6,146.1 L481.0,146.1 L481.0,142.3 L480.3,142.3 L479.6,142.3 L479.6,128.6 L478.9,128.6 L478.1,128.6 L478.1,114.9 L477.4,114.9 L476.5,114.9 L476.5,107.0 L475.7,107.0 L475.7,92.7 L473.5,92.7 L473.5,81.8 L470.6,81.8 L470.6,70.3 L468.1,70.3 L467.5,70.3 L467.5,53.9 L466.9,53.9 L466.9,47.8 L462.6,47.8 L462.6,41.7 L460.1,41.7 L460.1,29.7 L457.1,29.7 L457.1,23.4 Z" fill="#7F007F"/>
<path d="M457.1,23.4 L457.1,26.1 L460.1,26.1 L460.1,31.5 L462.6,31.5 L462.6,34.3 L466.9,34.3 L466.9,37.3 L467.5,37.3 L467.5,45.4 L468.1,45.4 L470.6,45.4 L470.6,51.9 L473.5,51.9 L473.5,57.6 L475.7,57.6 L475.7,65.1 L476.5,65.1 L476.5,69.2 L477.4,69.2 L478.1,69.2 L478.1,76.3 L478.9,76.3 L479.6,76.3 L479.6,83.6 L480.3,83.6 L481.0,83.6 L481.0,85.7 L481.6,85.7 L482.3,85.7 L482.3,88.3 L483.0,88.3 L483.6,88.3 L483.6,90.9 L484.3,90.9 L485.0,90.9 L485.0,93.5 L485.6,93.5 L486.3,93.5 L486.3,96.4 L487.0,96.4 L487.6,96.4 L487.6,99.5 L488.3,99.5 L489.1,99.5 L489.1,101.1 L490.0,101.1 L490.9,101.1 L490.9,102.8 L491.7,102.8 L492.3,102.8 L492.3,103.6 L492.9,103.6 L493.4,103.6 L493.4,104.3 L494.0,104.3 L494.9,104.3 L494.9,115.7 L495.7,115.7 L503.2,115.7 L503.8,115.7 L503.8,117.8 L504.3,117.8 L507.8,119.0 L508.6,119.0 L508.6,123.4 L509.5,123.4 L510.2,123.4 L510.2,126.3 L510.9,126.3 L511.6,126.3 L511.6,128.9 L512.3,128.9 L513.5,129.3 L520.4,129.9 L521.0,137.1 L535.1,137.1 L535.8,139.4 L536.6,139.4 L536.6,140.2 L537.3,140.2 L538.1,140.2 L538.1,141.0 L538.9,141.0 L539.6,141.0 L539.6,141.9 L540.4,141.9 L545.6,142.7 L546.2,142.7 L546.2,146.1 L546.9,146.1 L547.6,146.1 L547.6,149.5 L548.2,149.5 L558.1,149.5 L558.8,149.5 L558.8,152.2 L559.4,152.2 L560.0,152.2 L560.0,153.8 L560.7,153.8 L561.4,153.8 L561.4,155.3 L562.0,155.3 L588.3,155.3 L589.1,155.3 L589.1,157.2 L590.0,157.2 L590.8,157.2 L590.8,159.3 L591.6,159.3 L602.8,160.1 L602.8,230.1 L591.6,229.5 L590.8,229.5 L590.8,227.7 L590.0,227.7 L589.1,227.7 L589.1,225.9 L588.3,225.9 L562.0,225.5 L561.4,225.5 L561.4,224.2 L560.7,224.2 L560.0,224.2 L560.0,222.9 L559.4,222.9 L558.8,222.9 L558.8,221.6 L558.1,221.6 L548.2,221.6 L547.6,221.6 L547.6,218.3 L546.9,218.3 L546.2,218.3 L546.2,215.0 L545.6,215.0 L540.4,214.4 L539.6,214.4 L539.6,213.5 L538.9,213.5 L538.1,213.5 L538.1,212.7 L537.3,212.7 L536.6,212.7 L536.6,211.8 L535.8,211.8 L535.1,209.1 L521.0,209.1 L520.4,201.2 L513.5,200.7 L512.3,200.0 L511.6,200.0 L511.6,196.9 L510.9,196.9 L510.2,196.9 L510.2,193.8 L509.5,193.8 L508.6,193.8 L508.6,188.7 L507.8,188.7 L504.3,188.1 L503.8,188.1 L503.8,185.2 L503.2,185.2 L495.7,184.7 L494.9,184.7 L494.9,169.8 L494.0,169.8 L493.4,169.8 L493.4,169.2 L492.9,169.2 L492.3,169.2 L492.3,168.6 L491.7,168.6 L490.9,168.6 L490.9,166.9 L490.0,166.9 L489.1,166.9 L489.1,165.2 L488.3,165.2 L487.6,165.2 L487.6,161.4 L487.0,161.4 L486.3,161.4 L486.3,157.6 L485.6,157.6 L485.0,157.6 L485.0,153.8 L484.3,153.8 L483.6,153.8 L483.6,150.0 L483.0,150.0 L482.3,150.0 L482.3,146.1 L481.6,146.1 L481.0,146.1 L481.0,142.3 L480.3,142.3 L479.6,142.3 L479.6,128.6 L478.9,128.6 L478.1,128.6 L478.1,114.9 L477.4,114.9 L476.5,114.9 L476.5,107.0 L475.7,107.0 L475.7,92.7 L473.5,92.7 L473.5,81.8 L470.6,81.8 L470.6,70.3 L468.1,70.3 L467.5,70.3 L467.5,53.9 L466.9,53.9 L466.9,47.8 L462.6,47.8 L462.6,41.7 L460.1,41.7 L460.1,29.7 L457.1,29.7 L457.1,23.4 Z" fill="#BF003F"/>
<path d="M457.1,23.4 L457.1,27.6 L460.1,27.6 L460.1,35.6 L462.6,35.6 L462.6,39.8 L466.9,39.8 L466.9,44.2 L467.5,44.2 L467.5,55.8 L468.1,55.8 L470.6,55.8 L470.6,64.6 L473.5,64.6 L473.5,72.6 L475.7,72.6 L475.7,83.2 L476.5,83.2 L476.5,89.0 L477.4,89.0 L478.1,89.0 L478.1,99.2 L478.9,99.2 L479.6,99.2 L479.6,109.6 L480.3,109.6 L481.0,109.6 L481.0,112.6 L481.6,112.6 L482.3,112.6 L482.3,115.9 L483.0,115.9 L483.6,115.9 L483.6,119.2 L484.3,119.2 L485.0,119.2 L485.0,122.5 L485.6,122.5 L486.3,122.5 L486.3,126.0 L487.0,126.0 L487.6,126.0 L487.6,129.6 L488.3,129.6 L489.1,129.6 L489.1,131.4 L490.0,131.4 L490.9,131.4 L490.9,133.2 L491.7,133.2 L492.3,133.2 L492.3,133.9 L492.9,133.9 L493.4,133.9 L493.4,134.6 L494.0,134.6 L494.9,134.6 L494.9,148.4 L495.7,148.4 L503.2,148.5 L503.8,148.5 L503.8,151.2 L504.3,151.2 L507.8,152.2 L508.6,152.2 L508.6,157.2 L509.5,157.2 L510.2,157.2 L510.2,160.5 L510.9,160.5 L511.6,160.5 L511.6,163.5 L512.3,163.5 L513.5,164.1 L520.4,164.6 L521.0,172.7 L535.1,172.7 L535.8,175.5 L536.6,175.5 L536.6,176.4 L537.3,176.4 L538.1,176.4 L538.1,177.3 L538.9,177.3 L539.6,177.3 L539.6,178.2 L540.4,178.2 L545.6,179.0 L546.2,179.0 L546.2,182.6 L546.9,182.6 L547.6,182.6 L547.6,186.2 L548.2,186.2 L558.1,186.2 L558.8,186.2 L558.8,188.4 L559.4,188.4 L560.0,188.4 L560.0,190.0 L560.7,190.0 L561.4,190.0 L561.4,191.5 L562.0,191.5 L588.3,191.7 L589.1,191.7 L589.1,193.7 L590.0,193.7 L590.8,193.7 L590.8,195.8 L591.6,195.8 L602.8,196.6 L602.8,230.1 L591.6,229.5 L590.8,229.5 L590.8,227.7 L590.0,227.7 L589.1,227.7 L589.1,225.9 L588.3,225.9 L562.0,225.5 L561.4,225.5 L561.4,224.2 L560.7,224.2 L560.0,224.2 L560.0,222.9 L559.4,222.9 L558.8,222.9 L558.8,221.6 L558.1,221.6 L548.2,221.6 L547.6,221.6 L547.6,218.3 L546.9,218.3 L546.2,218.3 L546.2,215.0 L545.6,215.0 L540.4,214.4 L539.6,214.4 L539.6,213.5 L538.9,213.5 L538.1,213.5 L538.1,212.7 L537.3,212.7 L536.6,212.7 L536.6,211.8 L535.8,211.8 L535.1,209.1 L521.0,209.1 L520.4,201.2 L513.5,200.7 L512.3,200.0 L511.6,200.0 L511.6,196.9 L510.9,196.9 L510.2,196.9 L510.2,193.8 L509.5,193.8 L508.6,193.8 L508.6,188.7 L507.8,188.7 L504.3,188.1 L503.8,188.1 L503.8,185.2 L503.2,185.2 L495.7,184.7 L494.9,184.7 L494.9,169.8 L494.0,169.8 L493.4,169.8 L493.4,169.2 L492.9,169.2 L492.3,169.2 L492.3,168.6 L491.7,168.6 L490.9,168.6 L490.9,166.9 L490.0,166.9 L489.1,166.9 L489.1,165.2 L488.3,165.2 L487.6,165.2 L487.6,161.4 L487.0,161.4 L486.3,161.4 L486.3,157.6 L485.6,157.6 L485.0,157.6 L485.0,153.8 L484.3,153.8 L483.6,153.8 L483.6,150.0 L483.0,150.0 L482.3,150.0 L482.3,146.1 L481.6,146.1 L481.0,146.1 L481.0,142.3 L480.3,142.3 L479.6,142.3 L479.6,128.6 L478.9,128.6 L478.1,128.6 L478.1,114.9 L477.4,114.9 L476.5,114.9 L476.5,107.0 L475.7,107.0 L475.7,92.7 L473.5,92.7 L473.5,81.8 L470.6,81.8 L470.6,70.3 L468.1,70.3 L467.5,70.3 L467.5,53.9 L466.9,53.9 L466.9,47.8 L462.6,47.8 L462.6,41.7 L460.1,41.7 L460.1,29.7 L457.1,29.7 L457.1,23.4 Z" fill="#FF0000"/>
<line x1="443.40" y1="23.40" x2="457.10" y2="23.40" stroke="#cf86b8" stroke-width="0.9" />
<rect x="435.30" y="13.40" width="175.20" height="228.30" fill="none" stroke="#5e5e5e" stroke-width="0.9" />
<line x1="433.10" y1="211.88" x2="435.30" y2="211.88" stroke="#5e5e5e" stroke-width="0.9" />
<text x="432.00" y="214.58" font-family="'Liberation Sans', sans-serif" font-size="7.7" text-anchor="end" fill="#4d4d4d" font-weight="normal" font-style="normal" >0.25</text>
<line x1="433.10" y1="149.05" x2="435.30" y2="149.05" stroke="#5e5e5e" stroke-width="0.9" />
<text x="432.00" y="151.75" font-family="'Liberation Sans', sans-serif" font-size="7.7" text-anchor="end" fill="#4d4d4d" font-weight="normal" font-style="normal" >0.50</text>
<line x1="433.10" y1="86.22" x2="435.30" y2="86.22" stroke="#5e5e5e" stroke-width="0.9" />
<text x="432.00" y="88.92" font-family="'Liberation Sans', sans-serif" font-size="7.7" text-anchor="end" fill="#4d4d4d" font-weight="normal" font-style="normal" >0.75</text>
<line x1="433.10" y1="23.40" x2="435.30" y2="23.40" stroke="#5e5e5e" stroke-width="0.9" />
<text x="432.00" y="26.10" font-family="'Liberation Sans', sans-serif" font-size="7.7" text-anchor="end" fill="#4d4d4d" font-weight="normal" font-style="normal" >1.00</text>
<line x1="443.40" y1="241.70" x2="443.40" y2="243.90" stroke="#5e5e5e" stroke-width="0.9" />
<text x="443.40" y="251.30" font-family="'Liberation Sans', sans-serif" font-size="7.7" text-anchor="middle" fill="#4d4d4d" font-weight="normal" font-style="normal" >0</text>
<line x1="494.72" y1="241.70" x2="494.72" y2="243.90" stroke="#5e5e5e" stroke-width="0.9" />
<text x="494.72" y="251.30" font-family="'Liberation Sans', sans-serif" font-size="7.7" text-anchor="middle" fill="#4d4d4d" font-weight="normal" font-style="normal" >20</text>
<line x1="546.04" y1="241.70" x2="546.04" y2="243.90" stroke="#5e5e5e" stroke-width="0.9" />
<text x="546.04" y="251.30" font-family="'Liberation Sans', sans-serif" font-size="7.7" text-anchor="middle" fill="#4d4d4d" font-weight="normal" font-style="normal" >40</text>
<line x1="597.36" y1="241.70" x2="597.36" y2="243.90" stroke="#5e5e5e" stroke-width="0.9" />
<text x="597.36" y="251.30" font-family="'Liberation Sans', sans-serif" font-size="7.7" text-anchor="middle" fill="#4d4d4d" font-weight="normal" font-style="normal" >60</text>
<text x="523.00" y="262.20" font-family="'Liberation Sans', sans-serif" font-size="9.5" text-anchor="middle" fill="#000" font-weight="normal" font-style="normal" >Time</text>
<text transform="translate(414.1,128) rotate(-90)" font-family="'Liberation Sans', sans-serif" font-size="8.67" text-anchor="middle">Survival Probability</text>
<text x="440.10" y="225.70" font-family="'Liberation Sans', sans-serif" font-size="9.4" text-anchor="start" fill="#000" font-weight="normal" font-style="normal" >HR=1.50</text>
<text x="440.10" y="237.00" font-family="'Liberation Sans', sans-serif" font-size="9.4" text-anchor="start" fill="#000" font-weight="normal" font-style="normal" >p-value=0.007</text>
<text x="621.00" y="102.30" font-family="'Liberation Sans', sans-serif" font-size="7.2" text-anchor="start" fill="#000" font-weight="normal" font-style="normal" >log2(FPKM+1)</text>
<rect x="620.60" y="106.20" width="10.40" height="10.75" fill="#0000FF" stroke="none" stroke-width="0" />
<text x="634.60" y="113.93" font-family="'Liberation Sans', sans-serif" font-size="6.6" text-anchor="start" fill="#1a1a1a" font-weight="normal" font-style="normal" >2.2 − 3.3</text>
<rect x="620.60" y="116.90" width="10.40" height="10.75" fill="#3F00BF" stroke="none" stroke-width="0" />
<text x="634.60" y="124.63" font-family="'Liberation Sans', sans-serif" font-size="6.6" text-anchor="start" fill="#1a1a1a" font-weight="normal" font-style="normal" >3.3 − 4.4</text>
<rect x="620.60" y="127.60" width="10.40" height="10.75" fill="#7F007F" stroke="none" stroke-width="0" />
<text x="634.60" y="135.33" font-family="'Liberation Sans', sans-serif" font-size="6.6" text-anchor="start" fill="#1a1a1a" font-weight="normal" font-style="normal" >4.4 − 5.5</text>
<rect x="620.60" y="138.30" width="10.40" height="10.75" fill="#BF003F" stroke="none" stroke-width="0" />
<text x="634.60" y="146.03" font-family="'Liberation Sans', sans-serif" font-size="6.6" text-anchor="start" fill="#1a1a1a" font-weight="normal" font-style="normal" >5.5 − 6.6</text>
<rect x="620.60" y="149.00" width="10.40" height="10.75" fill="#FF0000" stroke="none" stroke-width="0" />
<text x="634.60" y="156.73" font-family="'Liberation Sans', sans-serif" font-size="6.6" text-anchor="start" fill="#1a1a1a" font-weight="normal" font-style="normal" >6.6 − 7.7</text>
<text x="377.60" y="310.30" font-family="'Liberation Serif', serif" font-size="33" text-anchor="start" fill="#000" font-weight="normal" font-style="normal" >d</text>
<text x="439.30" y="295.40" font-family="'Liberation Sans', sans-serif" font-size="10.5" text-anchor="start" fill="#000" font-weight="normal" font-style="normal" >B-ALL Multivariate Survival - PAN3</text>
<line x1="467.07" y1="300.40" x2="467.07" y2="530.00" stroke="#f2f2f2" stroke-width="0.6" />
<line x1="506.21" y1="300.40" x2="506.21" y2="530.00" stroke="#f2f2f2" stroke-width="0.6" />
<line x1="545.35" y1="300.40" x2="545.35" y2="530.00" stroke="#f2f2f2" stroke-width="0.6" />
<line x1="584.49" y1="300.40" x2="584.49" y2="530.00" stroke="#f2f2f2" stroke-width="0.6" />
<line x1="439.40" y1="494.78" x2="612.00" y2="494.78" stroke="#f2f2f2" stroke-width="0.6" />
<line x1="439.40" y1="442.12" x2="612.00" y2="442.12" stroke="#f2f2f2" stroke-width="0.6" />
<line x1="439.40" y1="389.48" x2="612.00" y2="389.48" stroke="#f2f2f2" stroke-width="0.6" />
<line x1="439.40" y1="336.83" x2="612.00" y2="336.83" stroke="#f2f2f2" stroke-width="0.6" />
<line x1="447.50" y1="300.40" x2="447.50" y2="530.00" stroke="#ebebeb" stroke-width="0.9" />
<line x1="486.64" y1="300.40" x2="486.64" y2="530.00" stroke="#ebebeb" stroke-width="0.9" />
<line x1="525.78" y1="300.40" x2="525.78" y2="530.00" stroke="#ebebeb" stroke-width="0.9" />
<line x1="564.92" y1="300.40" x2="564.92" y2="530.00" stroke="#ebebeb" stroke-width="0.9" />
<line x1="604.06" y1="300.40" x2="604.06" y2="530.00" stroke="#ebebeb" stroke-width="0.9" />
<line x1="439.40" y1="521.10" x2="612.00" y2="521.10" stroke="#ebebeb" stroke-width="0.9" />
<line x1="439.40" y1="468.45" x2="612.00" y2="468.45" stroke="#ebebeb" stroke-width="0.9" />
<line x1="439.40" y1="415.80" x2="612.00" y2="415.80" stroke="#ebebeb" stroke-width="0.9" />
<line x1="439.40" y1="363.15" x2="612.00" y2="363.15" stroke="#ebebeb" stroke-width="0.9" />
<line x1="439.40" y1="310.50" x2="612.00" y2="310.50" stroke="#ebebeb" stroke-width="0.9" />
<path d="M452.8,310.5 L452.8,311.3 L459.3,311.3 L459.8,311.6 L460.4,312.1 L462.1,312.1 L462.7,312.4 L464.4,312.4 L465.0,312.6 L465.6,312.6 L465.6,313.0 L466.1,313.0 L467.0,313.0 L467.0,313.1 L467.9,313.1 L468.4,313.5 L470.1,313.5 L470.7,313.8 L471.3,314.2 L472.2,314.7 L472.9,315.9 L477.2,315.9 L477.9,315.9 L477.9,316.1 L478.6,316.1 L479.3,316.1 L480.1,316.1 L480.8,316.1 L480.8,316.2 L481.5,316.2 L482.2,316.2 L482.2,316.4 L482.9,316.4 L483.6,316.4 L483.6,316.6 L484.3,316.6 L484.9,316.6 L484.9,316.7 L485.5,316.7 L486.1,316.7 L486.1,316.8 L486.7,316.8 L487.3,316.8 L487.3,317.2 L487.9,317.2 L488.4,317.2 L488.4,317.7 L488.9,317.7 L489.5,317.7 L489.5,318.3 L490.0,318.3 L490.8,318.3 L490.8,319.8 L491.5,319.8 L492.0,319.8 L492.0,320.3 L492.6,320.3 L493.1,320.3 L493.1,320.9 L493.6,320.9 L494.3,320.9 L494.3,321.5 L495.1,321.5 L495.8,321.5 L495.8,322.3 L496.5,322.3 L497.1,322.3 L497.1,322.6 L497.8,322.6 L498.4,322.6 L498.4,322.8 L499.0,322.8 L499.6,322.8 L499.6,323.1 L500.2,323.1 L500.9,323.1 L500.9,323.6 L501.5,323.6 L502.2,323.6 L502.2,324.2 L502.9,324.2 L503.6,324.2 L503.6,324.8 L504.4,324.8 L505.1,324.8 L505.1,325.4 L505.8,325.4 L506.4,325.4 L506.4,326.1 L507.0,326.1 L507.6,326.1 L507.6,326.8 L508.2,326.8 L508.8,326.8 L508.8,327.7 L509.4,327.7 L510.1,327.7 L510.1,327.9 L510.9,327.9 L511.6,327.9 L511.6,328.1 L512.4,328.1 L513.1,328.1 L513.1,328.2 L513.8,328.2 L514.6,328.2 L514.6,328.4 L515.3,328.4 L516.1,328.4 L516.8,328.4 L517.5,328.4 L517.5,329.0 L518.2,329.0 L518.9,329.0 L518.9,329.6 L519.6,329.6 L520.3,329.6 L520.3,330.4 L521.0,330.4 L521.7,330.4 L521.7,330.9 L522.3,330.9 L523.0,330.9 L523.0,331.3 L523.6,331.3 L524.3,331.3 L524.3,331.7 L524.9,331.7 L525.6,331.7 L525.6,332.0 L526.3,332.0 L526.9,332.0 L526.9,332.2 L527.6,332.2 L528.2,332.2 L528.2,332.3 L528.9,332.3 L529.5,332.3 L529.5,332.4 L530.2,332.4 L530.9,332.4 L530.9,332.5 L531.6,332.5 L532.4,332.5 L532.4,332.7 L533.1,332.7 L533.8,332.7 L533.8,332.8 L534.5,332.8 L535.2,332.8 L535.2,333.0 L536.0,333.0 L536.7,333.0 L536.7,333.1 L537.4,333.1 L538.1,333.1 L538.1,333.3 L538.9,333.3 L539.6,333.3 L539.6,333.5 L540.3,333.5 L541.0,333.5 L541.0,333.6 L541.7,333.6 L542.5,333.6 L542.5,333.8 L543.2,333.8 L543.9,333.8 L543.9,334.0 L544.6,334.0 L545.4,334.0 L545.4,334.1 L546.1,334.1 L546.8,334.1 L546.8,334.2 L547.5,334.2 L548.2,334.2 L548.2,334.3 L549.0,334.3 L549.7,334.3 L549.7,334.5 L550.4,334.5 L551.1,334.5 L551.1,334.6 L551.8,334.6 L552.6,334.6 L552.6,334.7 L553.3,334.7 L554.0,334.7 L554.0,334.8 L554.7,334.8 L555.4,334.8 L555.4,334.9 L556.1,334.9 L556.9,334.9 L556.9,335.0 L557.6,335.0 L558.3,335.0 L558.3,335.2 L559.0,335.2 L559.7,335.2 L559.7,335.3 L560.5,335.3 L561.2,335.3 L561.2,335.4 L561.9,335.4 L562.6,335.4 L562.6,335.6 L563.3,335.6 L564.0,335.6 L564.0,335.7 L564.8,335.7 L565.5,335.7 L565.5,335.9 L566.2,335.9 L566.9,335.9 L566.9,336.1 L567.6,336.1 L568.3,336.1 L568.3,336.2 L569.1,336.2 L569.8,336.2 L569.8,336.4 L570.5,336.4 L586.7,337.6 L589.0,338.2 L606.1,339.3 L606.1,519.0 L589.0,518.8 L586.7,518.6 L570.5,518.2 L569.8,518.2 L569.8,518.1 L569.1,518.1 L568.3,518.1 L568.3,518.0 L567.6,518.0 L566.9,518.0 L566.9,517.9 L566.2,517.9 L565.5,517.9 L564.8,517.9 L564.0,517.9 L564.0,517.8 L563.3,517.8 L562.6,517.8 L562.6,517.7 L561.9,517.7 L561.2,517.7 L561.2,517.6 L560.5,517.6 L559.7,517.6 L559.7,517.5 L559.0,517.5 L558.3,517.5 L558.3,517.4 L557.6,517.4 L556.9,517.4 L556.9,517.3 L556.1,517.3 L555.4,517.3 L554.7,517.3 L554.0,517.3 L554.0,517.2 L553.3,517.2 L552.6,517.2 L552.6,517.1 L551.8,517.1 L551.1,517.1 L551.1,517.0 L550.4,517.0 L549.7,517.0 L549.7,516.9 L549.0,516.9 L548.2,516.9 L548.2,516.8 L547.5,516.8 L546.8,516.8 L546.8,516.7 L546.1,516.7 L545.4,516.7 L545.4,516.6 L544.6,516.6 L543.9,516.6 L543.9,516.5 L543.2,516.5 L542.5,516.5 L542.5,516.4 L541.7,516.4 L541.0,516.4 L540.3,516.4 L539.6,516.4 L539.6,516.3 L538.9,516.3 L538.1,516.3 L538.1,516.2 L537.4,516.2 L536.7,516.2 L536.7,516.1 L536.0,516.1 L535.2,516.1 L535.2,516.0 L534.5,516.0 L533.8,516.0 L533.8,515.9 L533.1,515.9 L532.4,515.9 L532.4,515.8 L531.6,515.8 L530.9,515.8 L530.9,515.7 L530.2,515.7 L529.5,515.7 L529.5,515.5 L528.9,515.5 L528.2,515.5 L528.2,515.4 L527.6,515.4 L526.9,515.4 L526.9,515.2 L526.3,515.2 L525.6,515.2 L525.6,515.0 L524.9,515.0 L524.3,515.0 L524.3,514.8 L523.6,514.8 L523.0,514.8 L523.0,514.7 L522.3,514.7 L521.7,514.7 L521.7,514.5 L521.0,514.5 L520.3,514.5 L520.3,513.4 L519.6,513.4 L518.9,513.4 L518.9,512.2 L518.2,512.2 L517.5,512.2 L517.5,511.1 L516.8,511.1 L516.1,511.1 L516.1,510.9 L515.3,510.9 L514.6,510.9 L514.6,510.7 L513.8,510.7 L513.1,510.7 L513.1,510.6 L512.4,510.6 L511.6,510.6 L511.6,510.4 L510.9,510.4 L510.1,510.4 L510.1,510.2 L509.4,510.2 L508.8,510.2 L508.8,508.8 L508.2,508.8 L507.6,508.8 L507.6,507.3 L507.0,507.3 L506.4,507.3 L506.4,505.9 L505.8,505.9 L505.1,505.9 L505.1,504.5 L504.4,504.5 L503.6,504.5 L503.6,503.0 L502.9,503.0 L502.2,503.0 L502.2,501.6 L501.5,501.6 L500.9,501.6 L500.9,499.8 L500.2,499.8 L499.6,499.8 L499.6,498.1 L499.0,498.1 L498.4,498.1 L498.4,496.3 L497.8,496.3 L497.1,496.3 L497.1,494.5 L496.5,494.5 L495.8,494.5 L495.8,489.4 L495.1,489.4 L494.3,489.4 L494.3,484.4 L493.6,484.4 L493.1,484.4 L493.1,478.7 L492.6,478.7 L492.0,478.7 L492.0,473.0 L491.5,473.0 L490.8,473.0 L490.8,460.1 L490.0,460.1 L489.5,460.1 L489.5,456.5 L488.9,456.5 L488.4,456.5 L488.4,452.9 L487.9,452.9 L487.3,452.9 L487.3,451.5 L486.7,451.5 L486.1,451.5 L486.1,450.1 L485.5,450.1 L484.9,450.1 L484.9,448.7 L484.3,448.7 L483.6,448.7 L483.6,446.5 L482.9,446.5 L482.2,446.5 L482.2,444.4 L481.5,444.4 L480.8,444.4 L480.8,442.9 L480.1,442.9 L479.3,442.9 L479.3,441.5 L478.6,441.5 L477.9,441.5 L477.9,434.3 L477.2,434.3 L472.9,433.6 L472.2,414.3 L471.3,404.9 L470.7,396.4 L470.1,387.3 L468.4,386.7 L467.9,378.1 L467.0,378.1 L467.0,373.6 L466.1,373.6 L465.6,373.6 L465.6,364.4 L465.0,364.4 L464.4,356.4 L462.7,356.4 L462.1,348.4 L460.4,348.4 L459.8,338.0 L459.3,330.1 L452.8,330.1 L452.8,310.5 Z" fill="#FF0000"/>
<path d="M452.8,310.5 L452.8,312.1 L459.3,312.1 L459.8,312.7 L460.4,313.6 L462.1,313.6 L462.7,314.2 L464.4,314.2 L465.0,314.7 L465.6,314.7 L465.6,315.5 L466.1,315.5 L467.0,315.5 L467.0,315.8 L467.9,315.8 L468.4,316.5 L470.1,316.5 L470.7,317.3 L471.3,318.1 L472.2,319.1 L472.9,321.5 L477.2,321.5 L477.9,321.5 L477.9,322.1 L478.6,322.1 L479.3,322.1 L479.3,322.2 L480.1,322.2 L480.8,322.2 L480.8,322.3 L481.5,322.3 L482.2,322.3 L482.2,322.7 L482.9,322.7 L483.6,322.7 L483.6,323.0 L484.3,323.0 L484.9,323.0 L484.9,323.3 L485.5,323.3 L486.1,323.3 L486.1,323.6 L486.7,323.6 L487.3,323.6 L487.3,324.2 L487.9,324.2 L488.4,324.2 L488.4,325.2 L488.9,325.2 L489.5,325.2 L489.5,326.2 L490.0,326.2 L490.8,326.2 L490.8,329.1 L491.5,329.1 L492.0,329.1 L492.0,330.2 L492.6,330.2 L493.1,330.2 L493.1,331.6 L493.6,331.6 L494.3,331.6 L494.3,332.9 L495.1,332.9 L495.8,332.9 L495.8,334.5 L496.5,334.5 L497.1,334.5 L497.1,335.0 L497.8,335.0 L498.4,335.0 L498.4,335.6 L499.0,335.6 L499.6,335.6 L499.6,336.3 L500.2,336.3 L500.9,336.3 L500.9,337.2 L501.5,337.2 L502.2,337.2 L502.2,338.2 L502.9,338.2 L503.6,338.2 L503.6,339.3 L504.4,339.3 L505.1,339.3 L505.1,340.5 L505.8,340.5 L506.4,340.5 L506.4,341.8 L507.0,341.8 L507.6,341.8 L507.6,343.1 L508.2,343.1 L508.8,343.1 L508.8,344.6 L509.4,344.6 L510.1,344.6 L510.1,345.0 L510.9,345.0 L511.6,345.0 L511.6,345.3 L512.4,345.3 L513.1,345.3 L513.1,345.6 L513.8,345.6 L514.6,345.6 L514.6,345.9 L515.3,345.9 L516.1,345.9 L516.1,346.0 L516.8,346.0 L517.5,346.0 L517.5,347.1 L518.2,347.1 L518.9,347.1 L518.9,348.3 L519.6,348.3 L520.3,348.3 L520.3,349.9 L521.0,349.9 L521.7,349.9 L521.7,350.6 L522.3,350.6 L523.0,350.6 L523.0,351.3 L523.6,351.3 L524.3,351.3 L524.3,352.0 L524.9,352.0 L525.6,352.0 L525.6,352.5 L526.3,352.5 L526.9,352.5 L526.9,352.7 L527.6,352.7 L528.2,352.7 L528.2,353.0 L528.9,353.0 L529.5,353.0 L529.5,353.2 L530.2,353.2 L530.9,353.2 L530.9,353.4 L531.6,353.4 L532.4,353.4 L532.4,353.7 L533.1,353.7 L533.8,353.7 L533.8,353.9 L534.5,353.9 L535.2,353.9 L535.2,354.2 L536.0,354.2 L536.7,354.2 L536.7,354.5 L537.4,354.5 L538.1,354.5 L538.1,354.7 L538.9,354.7 L539.6,354.7 L539.6,355.0 L540.3,355.0 L541.0,355.0 L541.0,355.3 L541.7,355.3 L542.5,355.3 L542.5,355.6 L543.2,355.6 L543.9,355.6 L543.9,355.9 L544.6,355.9 L545.4,355.9 L545.4,356.1 L546.1,356.1 L546.8,356.1 L546.8,356.4 L547.5,356.4 L548.2,356.4 L548.2,356.6 L549.0,356.6 L549.7,356.6 L549.7,356.8 L550.4,356.8 L551.1,356.8 L551.1,357.0 L551.8,357.0 L552.6,357.0 L552.6,357.2 L553.3,357.2 L554.0,357.2 L554.0,357.4 L554.7,357.4 L555.4,357.4 L555.4,357.6 L556.1,357.6 L556.9,357.6 L556.9,357.9 L557.6,357.9 L558.3,357.9 L558.3,358.1 L559.0,358.1 L559.7,358.1 L559.7,358.3 L560.5,358.3 L561.2,358.3 L561.2,358.6 L561.9,358.6 L562.6,358.6 L562.6,358.8 L563.3,358.8 L564.0,358.8 L564.0,359.1 L564.8,359.1 L565.5,359.1 L565.5,359.4 L566.2,359.4 L566.9,359.4 L566.9,359.7 L567.6,359.7 L568.3,359.7 L568.3,360.0 L569.1,360.0 L569.8,360.0 L569.8,360.3 L570.5,360.3 L586.7,362.3 L589.0,363.3 L606.1,365.0 L606.1,519.0 L589.0,518.8 L586.7,518.6 L570.5,518.2 L569.8,518.2 L569.8,518.1 L569.1,518.1 L568.3,518.1 L568.3,518.0 L567.6,518.0 L566.9,518.0 L566.9,517.9 L566.2,517.9 L565.5,517.9 L564.8,517.9 L564.0,517.9 L564.0,517.8 L563.3,517.8 L562.6,517.8 L562.6,517.7 L561.9,517.7 L561.2,517.7 L561.2,517.6 L560.5,517.6 L559.7,517.6 L559.7,517.5 L559.0,517.5 L558.3,517.5 L558.3,517.4 L557.6,517.4 L556.9,517.4 L556.9,517.3 L556.1,517.3 L555.4,517.3 L554.7,517.3 L554.0,517.3 L554.0,517.2 L553.3,517.2 L552.6,517.2 L552.6,517.1 L551.8,517.1 L551.1,517.1 L551.1,517.0 L550.4,517.0 L549.7,517.0 L549.7,516.9 L549.0,516.9 L548.2,516.9 L548.2,516.8 L547.5,516.8 L546.8,516.8 L546.8,516.7 L546.1,516.7 L545.4,516.7 L545.4,516.6 L544.6,516.6 L543.9,516.6 L543.9,516.5 L543.2,516.5 L542.5,516.5 L542.5,516.4 L541.7,516.4 L541.0,516.4 L540.3,516.4 L539.6,516.4 L539.6,516.3 L538.9,516.3 L538.1,516.3 L538.1,516.2 L537.4,516.2 L536.7,516.2 L536.7,516.1 L536.0,516.1 L535.2,516.1 L535.2,516.0 L534.5,516.0 L533.8,516.0 L533.8,515.9 L533.1,515.9 L532.4,515.9 L532.4,515.8 L531.6,515.8 L530.9,515.8 L530.9,515.7 L530.2,515.7 L529.5,515.7 L529.5,515.5 L528.9,515.5 L528.2,515.5 L528.2,515.4 L527.6,515.4 L526.9,515.4 L526.9,515.2 L526.3,515.2 L525.6,515.2 L525.6,515.0 L524.9,515.0 L524.3,515.0 L524.3,514.8 L523.6,514.8 L523.0,514.8 L523.0,514.7 L522.3,514.7 L521.7,514.7 L521.7,514.5 L521.0,514.5 L520.3,514.5 L520.3,513.4 L519.6,513.4 L518.9,513.4 L518.9,512.2 L518.2,512.2 L517.5,512.2 L517.5,511.1 L516.8,511.1 L516.1,511.1 L516.1,510.9 L515.3,510.9 L514.6,510.9 L514.6,510.7 L513.8,510.7 L513.1,510.7 L513.1,510.6 L512.4,510.6 L511.6,510.6 L511.6,510.4 L510.9,510.4 L510.1,510.4 L510.1,510.2 L509.4,510.2 L508.8,510.2 L508.8,508.8 L508.2,508.8 L507.6,508.8 L507.6,507.3 L507.0,507.3 L506.4,507.3 L506.4,505.9 L505.8,505.9 L505.1,505.9 L505.1,504.5 L504.4,504.5 L503.6,504.5 L503.6,503.0 L502.9,503.0 L502.2,503.0 L502.2,501.6 L501.5,501.6 L500.9,501.6 L500.9,499.8 L500.2,499.8 L499.6,499.8 L499.6,498.1 L499.0,498.1 L498.4,498.1 L498.4,496.3 L497.8,496.3 L497.1,496.3 L497.1,494.5 L496.5,494.5 L495.8,494.5 L495.8,489.4 L495.1,489.4 L494.3,489.4 L494.3,484.4 L493.6,484.4 L493.1,484.4 L493.1,478.7 L492.6,478.7 L492.0,478.7 L492.0,473.0 L491.5,473.0 L490.8,473.0 L490.8,460.1 L490.0,460.1 L489.5,460.1 L489.5,456.5 L488.9,456.5 L488.4,456.5 L488.4,452.9 L487.9,452.9 L487.3,452.9 L487.3,451.5 L486.7,451.5 L486.1,451.5 L486.1,450.1 L485.5,450.1 L484.9,450.1 L484.9,448.7 L484.3,448.7 L483.6,448.7 L483.6,446.5 L482.9,446.5 L482.2,446.5 L482.2,444.4 L481.5,444.4 L480.8,444.4 L480.8,442.9 L480.1,442.9 L479.3,442.9 L479.3,441.5 L478.6,441.5 L477.9,441.5 L477.9,434.3 L477.2,434.3 L472.9,433.6 L472.2,414.3 L471.3,404.9 L470.7,396.4 L470.1,387.3 L468.4,386.7 L467.9,378.1 L467.0,378.1 L467.0,373.6 L466.1,373.6 L465.6,373.6 L465.6,364.4 L465.0,364.4 L464.4,356.4 L462.7,356.4 L462.1,348.4 L460.4,348.4 L459.8,338.0 L459.3,330.1 L452.8,330.1 L452.8,310.5 Z" fill="#BF003F"/>
<path d="M452.8,310.5 L452.8,313.6 L459.3,313.6 L459.8,314.9 L460.4,316.7 L462.1,316.7 L462.7,317.9 L464.4,317.9 L465.0,319.0 L465.6,319.0 L465.6,320.7 L466.1,320.7 L467.0,320.7 L467.0,321.3 L467.9,321.3 L468.4,322.8 L470.1,322.8 L470.7,324.4 L471.3,326.2 L472.2,328.2 L472.9,333.0 L477.2,333.0 L477.9,333.0 L477.9,334.4 L478.6,334.4 L479.3,334.4 L479.3,334.6 L480.1,334.6 L480.8,334.6 L480.8,335.0 L481.5,335.0 L482.2,335.0 L482.2,335.7 L482.9,335.7 L483.6,335.7 L483.6,336.4 L484.3,336.4 L484.9,336.4 L484.9,336.9 L485.5,336.9 L486.1,336.9 L486.1,337.4 L486.7,337.4 L487.3,337.4 L487.3,338.4 L487.9,338.4 L488.4,338.4 L488.4,340.2 L488.9,340.2 L489.5,340.2 L489.5,342.0 L490.0,342.0 L490.8,342.0 L490.8,347.5 L491.5,347.5 L492.0,347.5 L492.0,349.8 L492.6,349.8 L493.1,349.8 L493.1,352.5 L493.6,352.5 L494.3,352.5 L494.3,355.1 L495.1,355.1 L495.8,355.1 L495.8,358.2 L496.5,358.2 L497.1,358.2 L497.1,359.3 L497.8,359.3 L498.4,359.3 L498.4,360.5 L499.0,360.5 L499.6,360.5 L499.6,361.8 L500.2,361.8 L500.9,361.8 L500.9,363.6 L501.5,363.6 L502.2,363.6 L502.2,365.3 L502.9,365.3 L503.6,365.3 L503.6,367.2 L504.4,367.2 L505.1,367.2 L505.1,369.2 L505.8,369.2 L506.4,369.2 L506.4,371.3 L507.0,371.3 L507.6,371.3 L507.6,373.7 L508.2,373.7 L508.8,373.7 L508.8,376.2 L509.4,376.2 L510.1,376.2 L510.1,376.8 L510.9,376.8 L511.6,376.8 L511.6,377.3 L512.4,377.3 L513.1,377.3 L513.1,377.7 L513.8,377.7 L514.6,377.7 L514.6,378.1 L515.3,378.1 L516.1,378.1 L516.1,378.3 L516.8,378.3 L517.5,378.3 L517.5,380.3 L518.2,380.3 L518.9,380.3 L518.9,382.5 L519.6,382.5 L520.3,382.5 L520.3,385.1 L521.0,385.1 L521.7,385.1 L521.7,386.1 L522.3,386.1 L523.0,386.1 L523.0,387.1 L523.6,387.1 L524.3,387.1 L524.3,388.1 L524.9,388.1 L525.6,388.1 L525.6,388.9 L526.3,388.9 L526.9,388.9 L526.9,389.3 L527.6,389.3 L528.2,389.3 L528.2,389.7 L528.9,389.7 L529.5,389.7 L529.5,390.2 L530.2,390.2 L530.9,390.2 L530.9,390.5 L531.6,390.5 L532.4,390.5 L532.4,390.9 L533.1,390.9 L533.8,390.9 L533.8,391.3 L534.5,391.3 L535.2,391.3 L535.2,391.7 L536.0,391.7 L536.7,391.7 L536.7,392.1 L537.4,392.1 L538.1,392.1 L538.1,392.5 L538.9,392.5 L539.6,392.5 L539.6,392.9 L540.3,392.9 L541.0,392.9 L541.0,393.3 L541.7,393.3 L542.5,393.3 L542.5,393.7 L543.2,393.7 L543.9,393.7 L543.9,394.2 L544.6,394.2 L545.4,394.2 L545.4,394.6 L546.1,394.6 L546.8,394.6 L546.8,394.9 L547.5,394.9 L548.2,394.9 L548.2,395.3 L549.0,395.3 L549.7,395.3 L549.7,395.6 L550.4,395.6 L551.1,395.6 L551.1,396.0 L551.8,396.0 L552.6,396.0 L552.6,396.3 L553.3,396.3 L554.0,396.3 L554.0,396.6 L554.7,396.6 L555.4,396.6 L555.4,397.0 L556.1,397.0 L556.9,397.0 L556.9,397.4 L557.6,397.4 L558.3,397.4 L558.3,397.7 L559.0,397.7 L559.7,397.7 L559.7,398.1 L560.5,398.1 L561.2,398.1 L561.2,398.5 L561.9,398.5 L562.6,398.5 L562.6,398.9 L563.3,398.9 L564.0,398.9 L564.0,399.3 L564.8,399.3 L565.5,399.3 L565.5,399.8 L566.2,399.8 L566.9,399.8 L566.9,400.2 L567.6,400.2 L568.3,400.2 L568.3,400.7 L569.1,400.7 L569.8,400.7 L569.8,401.1 L570.5,401.1 L586.7,404.1 L589.0,405.5 L606.1,407.8 L606.1,519.0 L589.0,518.8 L586.7,518.6 L570.5,518.2 L569.8,518.2 L569.8,518.1 L569.1,518.1 L568.3,518.1 L568.3,518.0 L567.6,518.0 L566.9,518.0 L566.9,517.9 L566.2,517.9 L565.5,517.9 L564.8,517.9 L564.0,517.9 L564.0,517.8 L563.3,517.8 L562.6,517.8 L562.6,517.7 L561.9,517.7 L561.2,517.7 L561.2,517.6 L560.5,517.6 L559.7,517.6 L559.7,517.5 L559.0,517.5 L558.3,517.5 L558.3,517.4 L557.6,517.4 L556.9,517.4 L556.9,517.3 L556.1,517.3 L555.4,517.3 L554.7,517.3 L554.0,517.3 L554.0,517.2 L553.3,517.2 L552.6,517.2 L552.6,517.1 L551.8,517.1 L551.1,517.1 L551.1,517.0 L550.4,517.0 L549.7,517.0 L549.7,516.9 L549.0,516.9 L548.2,516.9 L548.2,516.8 L547.5,516.8 L546.8,516.8 L546.8,516.7 L546.1,516.7 L545.4,516.7 L545.4,516.6 L544.6,516.6 L543.9,516.6 L543.9,516.5 L543.2,516.5 L542.5,516.5 L542.5,516.4 L541.7,516.4 L541.0,516.4 L540.3,516.4 L539.6,516.4 L539.6,516.3 L538.9,516.3 L538.1,516.3 L538.1,516.2 L537.4,516.2 L536.7,516.2 L536.7,516.1 L536.0,516.1 L535.2,516.1 L535.2,516.0 L534.5,516.0 L533.8,516.0 L533.8,515.9 L533.1,515.9 L532.4,515.9 L532.4,515.8 L531.6,515.8 L530.9,515.8 L530.9,515.7 L530.2,515.7 L529.5,515.7 L529.5,515.5 L528.9,515.5 L528.2,515.5 L528.2,515.4 L527.6,515.4 L526.9,515.4 L526.9,515.2 L526.3,515.2 L525.6,515.2 L525.6,515.0 L524.9,515.0 L524.3,515.0 L524.3,514.8 L523.6,514.8 L523.0,514.8 L523.0,514.7 L522.3,514.7 L521.7,514.7 L521.7,514.5 L521.0,514.5 L520.3,514.5 L520.3,513.4 L519.6,513.4 L518.9,513.4 L518.9,512.2 L518.2,512.2 L517.5,512.2 L517.5,511.1 L516.8,511.1 L516.1,511.1 L516.1,510.9 L515.3,510.9 L514.6,510.9 L514.6,510.7 L513.8,510.7 L513.1,510.7 L513.1,510.6 L512.4,510.6 L511.6,510.6 L511.6,510.4 L510.9,510.4 L510.1,510.4 L510.1,510.2 L509.4,510.2 L508.8,510.2 L508.8,508.8 L508.2,508.8 L507.6,508.8 L507.6,507.3 L507.0,507.3 L506.4,507.3 L506.4,505.9 L505.8,505.9 L505.1,505.9 L505.1,504.5 L504.4,504.5 L503.6,504.5 L503.6,503.0 L502.9,503.0 L502.2,503.0 L502.2,501.6 L501.5,501.6 L500.9,501.6 L500.9,499.8 L500.2,499.8 L499.6,499.8 L499.6,498.1 L499.0,498.1 L498.4,498.1 L498.4,496.3 L497.8,496.3 L497.1,496.3 L497.1,494.5 L496.5,494.5 L495.8,494.5 L495.8,489.4 L495.1,489.4 L494.3,489.4 L494.3,484.4 L493.6,484.4 L493.1,484.4 L493.1,478.7 L492.6,478.7 L492.0,478.7 L492.0,473.0 L491.5,473.0 L490.8,473.0 L490.8,460.1 L490.0,460.1 L489.5,460.1 L489.5,456.5 L488.9,456.5 L488.4,456.5 L488.4,452.9 L487.9,452.9 L487.3,452.9 L487.3,451.5 L486.7,451.5 L486.1,451.5 L486.1,450.1 L485.5,450.1 L484.9,450.1 L484.9,448.7 L484.3,448.7 L483.6,448.7 L483.6,446.5 L482.9,446.5 L482.2,446.5 L482.2,444.4 L481.5,444.4 L480.8,444.4 L480.8,442.9 L480.1,442.9 L479.3,442.9 L479.3,441.5 L478.6,441.5 L477.9,441.5 L477.9,434.3 L477.2,434.3 L472.9,433.6 L472.2,414.3 L471.3,404.9 L470.7,396.4 L470.1,387.3 L468.4,386.7 L467.9,378.1 L467.0,378.1 L467.0,373.6 L466.1,373.6 L465.6,373.6 L465.6,364.4 L465.0,364.4 L464.4,356.4 L462.7,356.4 L462.1,348.4 L460.4,348.4 L459.8,338.0 L459.3,330.1 L452.8,330.1 L452.8,310.5 Z" fill="#7F007F"/>
<path d="M452.8,310.5 L452.8,316.4 L459.3,316.4 L459.8,318.9 L460.4,322.2 L462.1,322.2 L462.7,324.6 L464.4,324.6 L465.0,326.9 L465.6,326.9 L465.6,330.0 L466.1,330.0 L467.0,330.0 L467.0,331.4 L467.9,331.4 L468.4,334.3 L470.1,334.3 L470.7,337.6 L471.3,340.8 L472.2,344.6 L472.9,353.4 L477.2,353.4 L477.9,353.4 L477.9,356.5 L478.6,356.5 L479.3,356.5 L479.3,357.0 L480.1,357.0 L480.8,357.0 L480.8,357.7 L481.5,357.7 L482.2,357.7 L482.2,358.9 L482.9,358.9 L483.6,358.9 L483.6,360.2 L484.3,360.2 L484.9,360.2 L484.9,361.0 L485.5,361.0 L486.1,361.0 L486.1,361.9 L486.7,361.9 L487.3,361.9 L487.3,363.4 L487.9,363.4 L488.4,363.4 L488.4,366.2 L488.9,366.2 L489.5,366.2 L489.5,369.0 L490.0,369.0 L490.8,369.0 L490.8,378.3 L491.5,378.3 L492.0,378.3 L492.0,382.4 L492.6,382.4 L493.1,382.4 L493.1,387.0 L493.6,387.0 L494.3,387.0 L494.3,391.4 L495.1,391.4 L495.8,391.4 L495.8,396.5 L496.5,396.5 L497.1,396.5 L497.1,398.4 L497.8,398.4 L498.4,398.4 L498.4,400.4 L499.0,400.4 L499.6,400.4 L499.6,402.5 L500.2,402.5 L500.9,402.5 L500.9,405.2 L501.5,405.2 L502.2,405.2 L502.2,407.6 L502.9,407.6 L503.6,407.6 L503.6,410.3 L504.4,410.3 L505.1,410.3 L505.1,413.1 L505.8,413.1 L506.4,413.1 L506.4,416.0 L507.0,416.0 L507.6,416.0 L507.6,419.2 L508.2,419.2 L508.8,419.2 L508.8,422.6 L509.4,422.6 L510.1,422.6 L510.1,423.3 L510.9,423.3 L511.6,423.3 L511.6,423.9 L512.4,423.9 L513.1,423.9 L513.1,424.4 L513.8,424.4 L514.6,424.4 L514.6,425.0 L515.3,425.0 L516.1,425.0 L516.1,425.3 L516.8,425.3 L517.5,425.3 L517.5,428.0 L518.2,428.0 L518.9,428.0 L518.9,431.0 L519.6,431.0 L520.3,431.0 L520.3,434.6 L521.0,434.6 L521.7,434.6 L521.7,435.6 L522.3,435.6 L523.0,435.6 L523.0,436.7 L523.6,436.7 L524.3,436.7 L524.3,437.7 L524.9,437.7 L525.6,437.7 L525.6,438.5 L526.3,438.5 L526.9,438.5 L526.9,439.1 L527.6,439.1 L528.2,439.1 L528.2,439.7 L528.9,439.7 L529.5,439.7 L529.5,440.3 L530.2,440.3 L530.9,440.3 L530.9,440.6 L531.6,440.6 L532.4,440.6 L532.4,441.1 L533.1,441.1 L533.8,441.1 L533.8,441.5 L534.5,441.5 L535.2,441.5 L535.2,442.0 L536.0,442.0 L536.7,442.0 L536.7,442.5 L537.4,442.5 L538.1,442.5 L538.1,442.9 L538.9,442.9 L539.6,442.9 L539.6,443.4 L540.3,443.4 L541.0,443.4 L541.0,443.9 L541.7,443.9 L542.5,443.9 L542.5,444.3 L543.2,444.3 L543.9,444.3 L543.9,444.8 L544.6,444.8 L545.4,444.8 L545.4,445.3 L546.1,445.3 L546.8,445.3 L546.8,445.7 L547.5,445.7 L548.2,445.7 L548.2,446.1 L549.0,446.1 L549.7,446.1 L549.7,446.6 L550.4,446.6 L551.1,446.6 L551.1,447.0 L551.8,447.0 L552.6,447.0 L552.6,447.4 L553.3,447.4 L554.0,447.4 L554.0,447.8 L554.7,447.8 L555.4,447.8 L555.4,448.2 L556.1,448.2 L556.9,448.2 L556.9,448.6 L557.6,448.6 L558.3,448.6 L558.3,449.1 L559.0,449.1 L559.7,449.1 L559.7,449.5 L560.5,449.5 L561.2,449.5 L561.2,450.0 L561.9,450.0 L562.6,450.0 L562.6,450.5 L563.3,450.5 L564.0,450.5 L564.0,451.0 L564.8,451.0 L565.5,451.0 L565.5,451.5 L566.2,451.5 L566.9,451.5 L566.9,452.0 L567.6,452.0 L568.3,452.0 L568.3,452.5 L569.1,452.5 L569.8,452.5 L569.8,453.0 L570.5,453.0 L586.7,456.1 L589.0,457.6 L606.1,459.8 L606.1,519.0 L589.0,518.8 L586.7,518.6 L570.5,518.2 L569.8,518.2 L569.8,518.1 L569.1,518.1 L568.3,518.1 L568.3,518.0 L567.6,518.0 L566.9,518.0 L566.9,517.9 L566.2,517.9 L565.5,517.9 L564.8,517.9 L564.0,517.9 L564.0,517.8 L563.3,517.8 L562.6,517.8 L562.6,517.7 L561.9,517.7 L561.2,517.7 L561.2,517.6 L560.5,517.6 L559.7,517.6 L559.7,517.5 L559.0,517.5 L558.3,517.5 L558.3,517.4 L557.6,517.4 L556.9,517.4 L556.9,517.3 L556.1,517.3 L555.4,517.3 L554.7,517.3 L554.0,517.3 L554.0,517.2 L553.3,517.2 L552.6,517.2 L552.6,517.1 L551.8,517.1 L551.1,517.1 L551.1,517.0 L550.4,517.0 L549.7,517.0 L549.7,516.9 L549.0,516.9 L548.2,516.9 L548.2,516.8 L547.5,516.8 L546.8,516.8 L546.8,516.7 L546.1,516.7 L545.4,516.7 L545.4,516.6 L544.6,516.6 L543.9,516.6 L543.9,516.5 L543.2,516.5 L542.5,516.5 L542.5,516.4 L541.7,516.4 L541.0,516.4 L540.3,516.4 L539.6,516.4 L539.6,516.3 L538.9,516.3 L538.1,516.3 L538.1,516.2 L537.4,516.2 L536.7,516.2 L536.7,516.1 L536.0,516.1 L535.2,516.1 L535.2,516.0 L534.5,516.0 L533.8,516.0 L533.8,515.9 L533.1,515.9 L532.4,515.9 L532.4,515.8 L531.6,515.8 L530.9,515.8 L530.9,515.7 L530.2,515.7 L529.5,515.7 L529.5,515.5 L528.9,515.5 L528.2,515.5 L528.2,515.4 L527.6,515.4 L526.9,515.4 L526.9,515.2 L526.3,515.2 L525.6,515.2 L525.6,515.0 L524.9,515.0 L524.3,515.0 L524.3,514.8 L523.6,514.8 L523.0,514.8 L523.0,514.7 L522.3,514.7 L521.7,514.7 L521.7,514.5 L521.0,514.5 L520.3,514.5 L520.3,513.4 L519.6,513.4 L518.9,513.4 L518.9,512.2 L518.2,512.2 L517.5,512.2 L517.5,511.1 L516.8,511.1 L516.1,511.1 L516.1,510.9 L515.3,510.9 L514.6,510.9 L514.6,510.7 L513.8,510.7 L513.1,510.7 L513.1,510.6 L512.4,510.6 L511.6,510.6 L511.6,510.4 L510.9,510.4 L510.1,510.4 L510.1,510.2 L509.4,510.2 L508.8,510.2 L508.8,508.8 L508.2,508.8 L507.6,508.8 L507.6,507.3 L507.0,507.3 L506.4,507.3 L506.4,505.9 L505.8,505.9 L505.1,505.9 L505.1,504.5 L504.4,504.5 L503.6,504.5 L503.6,503.0 L502.9,503.0 L502.2,503.0 L502.2,501.6 L501.5,501.6 L500.9,501.6 L500.9,499.8 L500.2,499.8 L499.6,499.8 L499.6,498.1 L499.0,498.1 L498.4,498.1 L498.4,496.3 L497.8,496.3 L497.1,496.3 L497.1,494.5 L496.5,494.5 L495.8,494.5 L495.8,489.4 L495.1,489.4 L494.3,489.4 L494.3,484.4 L493.6,484.4 L493.1,484.4 L493.1,478.7 L492.6,478.7 L492.0,478.7 L492.0,473.0 L491.5,473.0 L490.8,473.0 L490.8,460.1 L490.0,460.1 L489.5,460.1 L489.5,456.5 L488.9,456.5 L488.4,456.5 L488.4,452.9 L487.9,452.9 L487.3,452.9 L487.3,451.5 L486.7,451.5 L486.1,451.5 L486.1,450.1 L485.5,450.1 L484.9,450.1 L484.9,448.7 L484.3,448.7 L483.6,448.7 L483.6,446.5 L482.9,446.5 L482.2,446.5 L482.2,444.4 L481.5,444.4 L480.8,444.4 L480.8,442.9 L480.1,442.9 L479.3,442.9 L479.3,441.5 L478.6,441.5 L477.9,441.5 L477.9,434.3 L477.2,434.3 L472.9,433.6 L472.2,414.3 L471.3,404.9 L470.7,396.4 L470.1,387.3 L468.4,386.7 L467.9,378.1 L467.0,378.1 L467.0,373.6 L466.1,373.6 L465.6,373.6 L465.6,364.4 L465.0,364.4 L464.4,356.4 L462.7,356.4 L462.1,348.4 L460.4,348.4 L459.8,338.0 L459.3,330.1 L452.8,330.1 L452.8,310.5 Z" fill="#3F00BF"/>
<path d="M452.8,310.5 L452.8,321.5 L459.3,321.5 L459.8,326.1 L460.4,332.3 L462.1,332.3 L462.7,336.8 L464.4,336.8 L465.0,341.3 L465.6,341.3 L465.6,347.0 L466.1,347.0 L467.0,347.0 L467.0,349.7 L467.9,349.7 L468.4,355.0 L470.1,355.1 L470.7,361.1 L471.3,366.8 L472.2,373.3 L472.9,387.8 L477.2,387.8 L477.9,387.8 L477.9,393.5 L478.6,393.5 L479.3,393.5 L479.3,394.5 L480.1,394.5 L480.8,394.5 L480.8,395.6 L481.5,395.6 L482.2,395.6 L482.2,397.5 L482.9,397.5 L483.6,397.5 L483.6,399.4 L484.3,399.4 L484.9,399.4 L484.9,400.6 L485.5,400.6 L486.1,400.6 L486.1,401.9 L486.7,401.9 L487.3,401.9 L487.3,403.6 L487.9,403.6 L488.4,403.6 L488.4,407.3 L488.9,407.3 L489.5,407.3 L489.5,411.1 L490.0,411.1 L490.8,411.1 L490.8,424.0 L491.5,424.0 L492.0,424.0 L492.0,429.8 L492.6,429.8 L493.1,429.8 L493.1,436.2 L493.6,436.2 L494.3,436.2 L494.3,442.1 L495.1,442.1 L495.8,442.1 L495.8,448.6 L496.5,448.6 L497.1,448.6 L497.1,450.9 L497.8,450.9 L498.4,450.9 L498.4,453.4 L499.0,453.4 L499.6,453.4 L499.6,456.0 L500.2,456.0 L500.9,456.0 L500.9,458.8 L501.5,458.8 L502.2,458.8 L502.2,461.4 L502.9,461.4 L503.6,461.4 L503.6,464.0 L504.4,464.0 L505.1,464.0 L505.1,466.8 L505.8,466.8 L506.4,466.8 L506.4,469.6 L507.0,469.6 L507.6,469.6 L507.6,472.6 L508.2,472.6 L508.8,472.6 L508.8,475.7 L509.4,475.7 L510.1,475.7 L510.1,476.2 L510.9,476.2 L511.6,476.2 L511.6,476.7 L512.4,476.7 L513.1,476.7 L513.1,477.1 L513.8,477.1 L514.6,477.1 L514.6,477.6 L515.3,477.6 L516.1,477.6 L516.1,477.9 L516.8,477.9 L517.5,477.9 L517.5,480.4 L518.2,480.4 L518.9,480.4 L518.9,483.1 L519.6,483.1 L520.3,483.1 L520.3,486.1 L521.0,486.1 L521.7,486.1 L521.7,486.8 L522.3,486.8 L523.0,486.8 L523.0,487.4 L523.6,487.4 L524.3,487.4 L524.3,488.1 L524.9,488.1 L525.6,488.1 L525.6,488.6 L526.3,488.6 L526.9,488.6 L526.9,489.1 L527.6,489.1 L528.2,489.1 L528.2,489.6 L528.9,489.6 L529.5,489.6 L529.5,490.1 L530.2,490.1 L530.9,490.1 L530.9,490.4 L531.6,490.4 L532.4,490.4 L532.4,490.7 L533.1,490.7 L533.8,490.7 L533.8,491.0 L534.5,491.0 L535.2,491.0 L535.2,491.3 L536.0,491.3 L536.7,491.3 L536.7,491.6 L537.4,491.6 L538.1,491.6 L538.1,491.9 L538.9,491.9 L539.6,491.9 L539.6,492.3 L540.3,492.3 L541.0,492.3 L541.0,492.6 L541.7,492.6 L542.5,492.6 L542.5,492.9 L543.2,492.9 L543.9,492.9 L543.9,493.2 L544.6,493.2 L545.4,493.2 L545.4,493.6 L546.1,493.6 L546.8,493.6 L546.8,493.9 L547.5,493.9 L548.2,493.9 L548.2,494.2 L549.0,494.2 L549.7,494.2 L549.7,494.5 L550.4,494.5 L551.1,494.5 L551.1,494.8 L551.8,494.8 L552.6,494.8 L552.6,495.1 L553.3,495.1 L554.0,495.1 L554.0,495.4 L554.7,495.4 L555.4,495.4 L555.4,495.7 L556.1,495.7 L556.9,495.7 L556.9,496.0 L557.6,496.0 L558.3,496.0 L558.3,496.3 L559.0,496.3 L559.7,496.3 L559.7,496.6 L560.5,496.6 L561.2,496.6 L561.2,496.9 L561.9,496.9 L562.6,496.9 L562.6,497.2 L563.3,497.2 L564.0,497.2 L564.0,497.5 L564.8,497.5 L565.5,497.5 L565.5,497.9 L566.2,497.9 L566.9,497.9 L566.9,498.2 L567.6,498.2 L568.3,498.2 L568.3,498.5 L569.1,498.5 L569.8,498.5 L569.8,498.9 L570.5,498.9 L586.7,500.7 L589.0,501.6 L606.1,502.7 L606.1,519.0 L589.0,518.8 L586.7,518.6 L570.5,518.2 L569.8,518.2 L569.8,518.1 L569.1,518.1 L568.3,518.1 L568.3,518.0 L567.6,518.0 L566.9,518.0 L566.9,517.9 L566.2,517.9 L565.5,517.9 L564.8,517.9 L564.0,517.9 L564.0,517.8 L563.3,517.8 L562.6,517.8 L562.6,517.7 L561.9,517.7 L561.2,517.7 L561.2,517.6 L560.5,517.6 L559.7,517.6 L559.7,517.5 L559.0,517.5 L558.3,517.5 L558.3,517.4 L557.6,517.4 L556.9,517.4 L556.9,517.3 L556.1,517.3 L555.4,517.3 L554.7,517.3 L554.0,517.3 L554.0,517.2 L553.3,517.2 L552.6,517.2 L552.6,517.1 L551.8,517.1 L551.1,517.1 L551.1,517.0 L550.4,517.0 L549.7,517.0 L549.7,516.9 L549.0,516.9 L548.2,516.9 L548.2,516.8 L547.5,516.8 L546.8,516.8 L546.8,516.7 L546.1,516.7 L545.4,516.7 L545.4,516.6 L544.6,516.6 L543.9,516.6 L543.9,516.5 L543.2,516.5 L542.5,516.5 L542.5,516.4 L541.7,516.4 L541.0,516.4 L540.3,516.4 L539.6,516.4 L539.6,516.3 L538.9,516.3 L538.1,516.3 L538.1,516.2 L537.4,516.2 L536.7,516.2 L536.7,516.1 L536.0,516.1 L535.2,516.1 L535.2,516.0 L534.5,516.0 L533.8,516.0 L533.8,515.9 L533.1,515.9 L532.4,515.9 L532.4,515.8 L531.6,515.8 L530.9,515.8 L530.9,515.7 L530.2,515.7 L529.5,515.7 L529.5,515.5 L528.9,515.5 L528.2,515.5 L528.2,515.4 L527.6,515.4 L526.9,515.4 L526.9,515.2 L526.3,515.2 L525.6,515.2 L525.6,515.0 L524.9,515.0 L524.3,515.0 L524.3,514.8 L523.6,514.8 L523.0,514.8 L523.0,514.7 L522.3,514.7 L521.7,514.7 L521.7,514.5 L521.0,514.5 L520.3,514.5 L520.3,513.4 L519.6,513.4 L518.9,513.4 L518.9,512.2 L518.2,512.2 L517.5,512.2 L517.5,511.1 L516.8,511.1 L516.1,511.1 L516.1,510.9 L515.3,510.9 L514.6,510.9 L514.6,510.7 L513.8,510.7 L513.1,510.7 L513.1,510.6 L512.4,510.6 L511.6,510.6 L511.6,510.4 L510.9,510.4 L510.1,510.4 L510.1,510.2 L509.4,510.2 L508.8,510.2 L508.8,508.8 L508.2,508.8 L507.6,508.8 L507.6,507.3 L507.0,507.3 L506.4,507.3 L506.4,505.9 L505.8,505.9 L505.1,505.9 L505.1,504.5 L504.4,504.5 L503.6,504.5 L503.6,503.0 L502.9,503.0 L502.2,503.0 L502.2,501.6 L501.5,501.6 L500.9,501.6 L500.9,499.8 L500.2,499.8 L499.6,499.8 L499.6,498.1 L499.0,498.1 L498.4,498.1 L498.4,496.3 L497.8,496.3 L497.1,496.3 L497.1,494.5 L496.5,494.5 L495.8,494.5 L495.8,489.4 L495.1,489.4 L494.3,489.4 L494.3,484.4 L493.6,484.4 L493.1,484.4 L493.1,478.7 L492.6,478.7 L492.0,478.7 L492.0,473.0 L491.5,473.0 L490.8,473.0 L490.8,460.1 L490.0,460.1 L489.5,460.1 L489.5,456.5 L488.9,456.5 L488.4,456.5 L488.4,452.9 L487.9,452.9 L487.3,452.9 L487.3,451.5 L486.7,451.5 L486.1,451.5 L486.1,450.1 L485.5,450.1 L484.9,450.1 L484.9,448.7 L484.3,448.7 L483.6,448.7 L483.6,446.5 L482.9,446.5 L482.2,446.5 L482.2,444.4 L481.5,444.4 L480.8,444.4 L480.8,442.9 L480.1,442.9 L479.3,442.9 L479.3,441.5 L478.6,441.5 L477.9,441.5 L477.9,434.3 L477.2,434.3 L472.9,433.6 L472.2,414.3 L471.3,404.9 L470.7,396.4 L470.1,387.3 L468.4,386.7 L467.9,378.1 L467.0,378.1 L467.0,373.6 L466.1,373.6 L465.6,373.6 L465.6,364.4 L465.0,364.4 L464.4,356.4 L462.7,356.4 L462.1,348.4 L460.4,348.4 L459.8,338.0 L459.3,330.1 L452.8,330.1 L452.8,310.5 Z" fill="#0000FF"/>
<line x1="447.50" y1="310.50" x2="452.80" y2="310.50" stroke="#cf86b8" stroke-width="0.9" />
<rect x="439.40" y="300.40" width="172.60" height="229.60" fill="none" stroke="#5e5e5e" stroke-width="0.9" />
<line x1="437.20" y1="521.10" x2="439.40" y2="521.10" stroke="#5e5e5e" stroke-width="0.9" />
<text x="436.10" y="523.80" font-family="'Liberation Sans', sans-serif" font-size="7.7" text-anchor="end" fill="#4d4d4d" font-weight="normal" font-style="normal" >0.00</text>
<line x1="437.20" y1="468.45" x2="439.40" y2="468.45" stroke="#5e5e5e" stroke-width="0.9" />
<text x="436.10" y="471.15" font-family="'Liberation Sans', sans-serif" font-size="7.7" text-anchor="end" fill="#4d4d4d" font-weight="normal" font-style="normal" >0.25</text>
<line x1="437.20" y1="415.80" x2="439.40" y2="415.80" stroke="#5e5e5e" stroke-width="0.9" />
<text x="436.10" y="418.50" font-family="'Liberation Sans', sans-serif" font-size="7.7" text-anchor="end" fill="#4d4d4d" font-weight="normal" font-style="normal" >0.50</text>
<line x1="437.20" y1="363.15" x2="439.40" y2="363.15" stroke="#5e5e5e" stroke-width="0.9" />
<text x="436.10" y="365.85" font-family="'Liberation Sans', sans-serif" font-size="7.7" text-anchor="end" fill="#4d4d4d" font-weight="normal" font-style="normal" >0.75</text>
<line x1="437.20" y1="310.50" x2="439.40" y2="310.50" stroke="#5e5e5e" stroke-width="0.9" />
<text x="436.10" y="313.20" font-family="'Liberation Sans', sans-serif" font-size="7.7" text-anchor="end" fill="#4d4d4d" font-weight="normal" font-style="normal" >1.00</text>
<line x1="447.50" y1="530.00" x2="447.50" y2="532.20" stroke="#5e5e5e" stroke-width="0.9" />
<text x="447.50" y="539.40" font-family="'Liberation Sans', sans-serif" font-size="7.7" text-anchor="middle" fill="#4d4d4d" font-weight="normal" font-style="normal" >0</text>
<line x1="486.64" y1="530.00" x2="486.64" y2="532.20" stroke="#5e5e5e" stroke-width="0.9" />
<text x="486.64" y="539.40" font-family="'Liberation Sans', sans-serif" font-size="7.7" text-anchor="middle" fill="#4d4d4d" font-weight="normal" font-style="normal" >25</text>
<line x1="525.78" y1="530.00" x2="525.78" y2="532.20" stroke="#5e5e5e" stroke-width="0.9" />
<text x="525.78" y="539.40" font-family="'Liberation Sans', sans-serif" font-size="7.7" text-anchor="middle" fill="#4d4d4d" font-weight="normal" font-style="normal" >50</text>
<line x1="564.92" y1="530.00" x2="564.92" y2="532.20" stroke="#5e5e5e" stroke-width="0.9" />
<text x="564.92" y="539.40" font-family="'Liberation Sans', sans-serif" font-size="7.7" text-anchor="middle" fill="#4d4d4d" font-weight="normal" font-style="normal" >75</text>
<line x1="604.06" y1="530.00" x2="604.06" y2="532.20" stroke="#5e5e5e" stroke-width="0.9" />
<text x="604.06" y="539.40" font-family="'Liberation Sans', sans-serif" font-size="7.7" text-anchor="middle" fill="#4d4d4d" font-weight="normal" font-style="normal" >100</text>
<text x="527.10" y="549.20" font-family="'Liberation Sans', sans-serif" font-size="9.5" text-anchor="middle" fill="#000" font-weight="normal" font-style="normal" >Time</text>
<text transform="translate(418.3,415.3) rotate(-90)" font-family="'Liberation Sans', sans-serif" font-size="8.67" text-anchor="middle">Survival Probability</text>
<text x="443.40" y="512.80" font-family="'Liberation Sans', sans-serif" font-size="9.4" text-anchor="start" fill="#000" font-weight="normal" font-style="normal" >HR=0.56</text>
<text x="443.40" y="524.30" font-family="'Liberation Sans', sans-serif" font-size="9.4" text-anchor="start" fill="#000" font-weight="normal" font-style="normal" >p-value=1.08e-08</text>
<text x="624.80" y="389.00" font-family="'Liberation Sans', sans-serif" font-size="7.28" text-anchor="start" fill="#000" font-weight="normal" font-style="normal" >log2(FPKM+1)</text>
<rect x="624.50" y="394.00" width="10.40" height="10.65" fill="#0000FF" stroke="none" stroke-width="0" />
<text x="638.40" y="401.68" font-family="'Liberation Sans', sans-serif" font-size="6.6" text-anchor="start" fill="#1a1a1a" font-weight="normal" font-style="normal" >1.8 − 3.1</text>
<rect x="624.50" y="404.60" width="10.40" height="10.65" fill="#3F00BF" stroke="none" stroke-width="0" />
<text x="638.40" y="412.28" font-family="'Liberation Sans', sans-serif" font-size="6.6" text-anchor="start" fill="#1a1a1a" font-weight="normal" font-style="normal" >3.1 − 4.4</text>
<rect x="624.50" y="415.20" width="10.40" height="10.65" fill="#7F007F" stroke="none" stroke-width="0" />
<text x="638.40" y="422.88" font-family="'Liberation Sans', sans-serif" font-size="6.6" text-anchor="start" fill="#1a1a1a" font-weight="normal" font-style="normal" >4.4 − 5.7</text>
<rect x="624.50" y="425.80" width="10.40" height="10.65" fill="#BF003F" stroke="none" stroke-width="0" />
<text x="638.40" y="433.48" font-family="'Liberation Sans', sans-serif" font-size="6.6" text-anchor="start" fill="#1a1a1a" font-weight="normal" font-style="normal" >5.7 − 7</text>
<rect x="624.50" y="436.40" width="10.40" height="10.65" fill="#FF0000" stroke="none" stroke-width="0" />
<text x="638.40" y="444.08" font-family="'Liberation Sans', sans-serif" font-size="6.6" text-anchor="start" fill="#1a1a1a" font-weight="normal" font-style="normal" >7 − 8.3</text>
<text x="2.30" y="433.20" font-family="'Liberation Serif', serif" font-size="35" text-anchor="start" fill="#000" font-weight="normal" font-style="normal" >c</text>
<text x="47.90" y="421.60" font-family="'Liberation Sans', sans-serif" font-size="11.8" text-anchor="start" fill="#000" font-weight="normal" font-style="normal" >AML Multivariate Survival - MYB</text>
<line x1="64.38" y1="443.30" x2="64.38" y2="591.00" stroke="#f2f2f2" stroke-width="0.6" />
<line x1="89.74" y1="443.30" x2="89.74" y2="591.00" stroke="#f2f2f2" stroke-width="0.6" />
<line x1="115.10" y1="443.30" x2="115.10" y2="591.00" stroke="#f2f2f2" stroke-width="0.6" />
<line x1="47.70" y1="574.29" x2="134.40" y2="574.29" stroke="#f2f2f2" stroke-width="0.6" />
<line x1="47.70" y1="538.86" x2="134.40" y2="538.86" stroke="#f2f2f2" stroke-width="0.6" />
<line x1="47.70" y1="503.44" x2="134.40" y2="503.44" stroke="#f2f2f2" stroke-width="0.6" />
<line x1="47.70" y1="468.01" x2="134.40" y2="468.01" stroke="#f2f2f2" stroke-width="0.6" />
<line x1="51.70" y1="443.30" x2="51.70" y2="591.00" stroke="#ebebeb" stroke-width="0.9" />
<line x1="77.06" y1="443.30" x2="77.06" y2="591.00" stroke="#ebebeb" stroke-width="0.9" />
<line x1="102.42" y1="443.30" x2="102.42" y2="591.00" stroke="#ebebeb" stroke-width="0.9" />
<line x1="127.78" y1="443.30" x2="127.78" y2="591.00" stroke="#ebebeb" stroke-width="0.9" />
<line x1="47.70" y1="556.58" x2="134.40" y2="556.58" stroke="#ebebeb" stroke-width="0.9" />
<line x1="47.70" y1="521.15" x2="134.40" y2="521.15" stroke="#ebebeb" stroke-width="0.9" />
<line x1="47.70" y1="485.73" x2="134.40" y2="485.73" stroke="#ebebeb" stroke-width="0.9" />
<line x1="47.70" y1="450.30" x2="134.40" y2="450.30" stroke="#ebebeb" stroke-width="0.9" />
<path d="M58.3,450.3 L58.8,450.3 L58.8,450.6 L59.2,450.6 L60.1,450.6 L60.1,450.9 L61.0,450.9 L61.9,450.9 L61.9,451.4 L62.7,451.4 L63.6,451.4 L63.6,453.0 L64.5,453.0 L65.2,453.0 L65.2,453.8 L65.8,453.8 L66.5,453.8 L66.5,454.8 L67.2,454.8 L67.8,454.8 L67.8,456.4 L68.5,456.4 L69.2,456.4 L69.2,458.1 L69.8,458.1 L70.7,458.1 L70.7,459.2 L71.6,459.2 L72.2,459.2 L72.2,459.7 L72.9,459.7 L73.5,459.7 L73.5,460.3 L74.2,460.3 L74.9,460.3 L74.9,460.8 L75.6,460.8 L76.2,460.8 L76.2,461.3 L76.9,461.3 L77.8,462.6 L78.7,462.6 L78.7,462.7 L79.5,462.7 L80.4,462.7 L80.4,462.9 L81.3,462.9 L82.2,462.9 L82.2,463.7 L83.1,463.7 L83.7,463.7 L83.7,464.2 L84.3,464.2 L84.9,464.2 L84.9,464.7 L85.5,464.7 L86.1,464.7 L86.1,465.3 L86.7,465.3 L87.6,465.3 L87.6,466.0 L88.5,466.0 L89.3,466.0 L89.3,466.7 L90.2,466.7 L96.4,467.2 L97.1,467.2 L97.1,467.5 L97.7,467.5 L98.4,467.5 L98.4,467.8 L99.1,467.8 L99.7,467.8 L99.7,468.1 L100.4,468.1 L101.0,468.1 L101.0,468.4 L101.7,468.4 L102.4,468.4 L102.4,469.0 L103.1,469.0 L103.7,469.0 L103.7,469.5 L104.4,469.5 L105.2,469.5 L105.2,469.7 L106.0,469.7 L106.7,469.7 L106.7,470.0 L107.5,470.0 L108.3,470.0 L108.3,470.2 L109.0,470.2 L109.8,470.2 L109.8,470.5 L110.6,470.5 L123.0,470.7 L123.7,470.7 L123.7,471.2 L124.3,471.2 L124.9,471.2 L124.9,471.8 L125.6,471.8 L130.6,472.1 L130.6,555.6 L125.6,555.2 L124.9,555.2 L124.9,554.0 L124.3,554.0 L123.7,554.0 L123.7,552.9 L123.0,552.9 L110.6,552.5 L109.8,552.5 L109.8,551.9 L109.0,551.9 L108.3,551.9 L108.3,551.2 L107.5,551.2 L106.7,551.2 L106.7,550.5 L106.0,550.5 L105.2,550.5 L105.2,549.9 L104.4,549.9 L103.7,549.9 L103.7,548.1 L103.1,548.1 L102.4,548.1 L102.4,546.3 L101.7,546.3 L101.0,546.3 L101.0,545.4 L100.4,545.4 L99.7,545.4 L99.7,544.5 L99.1,544.5 L98.4,544.5 L98.4,543.7 L97.7,543.7 L97.1,543.7 L97.1,542.8 L96.4,542.8 L90.2,541.9 L89.3,541.9 L89.3,539.2 L88.5,539.2 L87.6,539.2 L87.6,536.6 L86.7,536.6 L86.1,536.6 L86.1,535.1 L85.5,535.1 L84.9,535.1 L84.9,533.7 L84.3,533.7 L83.7,533.7 L83.7,532.2 L83.1,532.2 L82.2,532.2 L82.2,528.6 L81.3,528.6 L80.4,528.6 L80.4,527.7 L79.5,527.7 L78.7,527.7 L78.7,526.8 L77.8,526.8 L76.9,519.8 L76.2,519.8 L76.2,517.1 L75.6,517.1 L74.9,517.1 L74.9,514.4 L74.2,514.4 L73.5,514.4 L73.5,510.9 L72.9,510.9 L72.2,510.9 L72.2,507.4 L71.6,507.4 L70.7,507.4 L70.7,500.3 L69.8,500.3 L69.2,500.3 L69.2,492.3 L68.5,492.3 L67.8,492.3 L67.8,484.3 L67.2,484.3 L66.5,484.3 L66.5,479.0 L65.8,479.0 L65.2,479.0 L65.2,473.7 L64.5,473.7 L63.6,473.7 L63.6,460.4 L62.7,460.4 L61.9,460.4 L61.9,456.0 L61.0,456.0 L60.1,456.0 L60.1,453.3 L59.2,453.3 L58.8,453.3 L58.8,450.3 L58.3,450.3 Z" fill="#0000FF"/>
<path d="M58.3,450.3 L58.8,450.3 L58.8,450.8 L59.2,450.8 L60.1,450.8 L60.1,451.3 L61.0,451.3 L61.9,451.3 L61.9,452.0 L62.7,452.0 L63.6,452.0 L63.6,454.6 L64.5,454.6 L65.2,454.6 L65.2,455.7 L65.8,455.7 L66.5,455.7 L66.5,457.1 L67.2,457.1 L67.8,457.1 L67.8,459.5 L68.5,459.5 L69.2,459.5 L69.2,462.0 L69.8,462.0 L70.7,462.0 L70.7,463.6 L71.6,463.6 L72.2,463.6 L72.2,464.4 L72.9,464.4 L73.5,464.4 L73.5,465.4 L74.2,465.4 L74.9,465.4 L74.9,466.1 L75.6,466.1 L76.2,466.1 L76.2,466.9 L76.9,466.9 L77.8,468.9 L78.7,468.9 L78.7,469.0 L79.5,469.0 L80.4,469.0 L80.4,469.3 L81.3,469.3 L82.2,469.3 L82.2,470.5 L83.1,470.5 L83.7,470.5 L83.7,471.2 L84.3,471.2 L84.9,471.2 L84.9,471.9 L85.5,471.9 L86.1,471.9 L86.1,472.7 L86.7,472.7 L87.6,472.7 L87.6,473.8 L88.5,473.8 L89.3,473.8 L89.3,474.7 L90.2,474.7 L96.4,475.4 L97.1,475.4 L97.1,475.8 L97.7,475.8 L98.4,475.8 L98.4,476.3 L99.1,476.3 L99.7,476.3 L99.7,476.7 L100.4,476.7 L101.0,476.7 L101.0,477.1 L101.7,477.1 L102.4,477.1 L102.4,477.9 L103.1,477.9 L103.7,477.9 L103.7,478.7 L104.4,478.7 L105.2,478.7 L105.2,479.0 L106.0,479.0 L106.7,479.0 L106.7,479.4 L107.5,479.4 L108.3,479.4 L108.3,479.7 L109.0,479.7 L109.8,479.7 L109.8,480.1 L110.6,480.1 L123.0,480.4 L123.7,480.4 L123.7,481.1 L124.3,481.1 L124.9,481.1 L124.9,481.8 L125.6,481.8 L130.6,482.2 L130.6,555.6 L125.6,555.2 L124.9,555.2 L124.9,554.0 L124.3,554.0 L123.7,554.0 L123.7,552.9 L123.0,552.9 L110.6,552.5 L109.8,552.5 L109.8,551.9 L109.0,551.9 L108.3,551.9 L108.3,551.2 L107.5,551.2 L106.7,551.2 L106.7,550.5 L106.0,550.5 L105.2,550.5 L105.2,549.9 L104.4,549.9 L103.7,549.9 L103.7,548.1 L103.1,548.1 L102.4,548.1 L102.4,546.3 L101.7,546.3 L101.0,546.3 L101.0,545.4 L100.4,545.4 L99.7,545.4 L99.7,544.5 L99.1,544.5 L98.4,544.5 L98.4,543.7 L97.7,543.7 L97.1,543.7 L97.1,542.8 L96.4,542.8 L90.2,541.9 L89.3,541.9 L89.3,539.2 L88.5,539.2 L87.6,539.2 L87.6,536.6 L86.7,536.6 L86.1,536.6 L86.1,535.1 L85.5,535.1 L84.9,535.1 L84.9,533.7 L84.3,533.7 L83.7,533.7 L83.7,532.2 L83.1,532.2 L82.2,532.2 L82.2,528.6 L81.3,528.6 L80.4,528.6 L80.4,527.7 L79.5,527.7 L78.7,527.7 L78.7,526.8 L77.8,526.8 L76.9,519.8 L76.2,519.8 L76.2,517.1 L75.6,517.1 L74.9,517.1 L74.9,514.4 L74.2,514.4 L73.5,514.4 L73.5,510.9 L72.9,510.9 L72.2,510.9 L72.2,507.4 L71.6,507.4 L70.7,507.4 L70.7,500.3 L69.8,500.3 L69.2,500.3 L69.2,492.3 L68.5,492.3 L67.8,492.3 L67.8,484.3 L67.2,484.3 L66.5,484.3 L66.5,479.0 L65.8,479.0 L65.2,479.0 L65.2,473.7 L64.5,473.7 L63.6,473.7 L63.6,460.4 L62.7,460.4 L61.9,460.4 L61.9,456.0 L61.0,456.0 L60.1,456.0 L60.1,453.3 L59.2,453.3 L58.8,453.3 L58.8,450.3 L58.3,450.3 Z" fill="#3F00BF"/>
<path d="M58.3,450.3 L58.8,450.3 L58.8,451.1 L59.2,451.1 L60.1,451.1 L60.1,451.8 L61.0,451.8 L61.9,451.8 L61.9,453.1 L62.7,453.1 L63.6,453.1 L63.6,457.0 L64.5,457.0 L65.2,457.0 L65.2,458.8 L65.8,458.8 L66.5,458.8 L66.5,460.9 L67.2,460.9 L67.8,460.9 L67.8,464.2 L68.5,464.2 L69.2,464.2 L69.2,467.8 L69.8,467.8 L70.7,467.8 L70.7,470.3 L71.6,470.3 L72.2,470.3 L72.2,471.5 L72.9,471.5 L73.5,471.5 L73.5,473.0 L74.2,473.0 L74.9,473.0 L74.9,474.1 L75.6,474.1 L76.2,474.1 L76.2,475.3 L76.9,475.3 L77.8,478.3 L78.7,478.3 L78.7,478.5 L79.5,478.5 L80.4,478.5 L80.4,479.0 L81.3,479.0 L82.2,479.0 L82.2,480.7 L83.1,480.7 L83.7,480.7 L83.7,481.6 L84.3,481.6 L84.9,481.6 L84.9,482.7 L85.5,482.7 L86.1,482.7 L86.1,483.7 L86.7,483.7 L87.6,483.7 L87.6,485.2 L88.5,485.2 L89.3,485.2 L89.3,486.6 L90.2,486.6 L96.4,487.5 L97.1,487.5 L97.1,488.0 L97.7,488.0 L98.4,488.0 L98.4,488.6 L99.1,488.6 L99.7,488.6 L99.7,489.2 L100.4,489.2 L101.0,489.2 L101.0,489.7 L101.7,489.7 L102.4,489.7 L102.4,490.9 L103.1,490.9 L103.7,490.9 L103.7,492.0 L104.4,492.0 L105.2,492.0 L105.2,492.5 L106.0,492.5 L106.7,492.5 L106.7,492.9 L107.5,492.9 L108.3,492.9 L108.3,493.4 L109.0,493.4 L109.8,493.4 L109.8,493.9 L110.6,493.9 L123.0,494.3 L123.7,494.3 L123.7,495.2 L124.3,495.2 L124.9,495.2 L124.9,496.1 L125.6,496.1 L130.6,496.6 L130.6,555.6 L125.6,555.2 L124.9,555.2 L124.9,554.0 L124.3,554.0 L123.7,554.0 L123.7,552.9 L123.0,552.9 L110.6,552.5 L109.8,552.5 L109.8,551.9 L109.0,551.9 L108.3,551.9 L108.3,551.2 L107.5,551.2 L106.7,551.2 L106.7,550.5 L106.0,550.5 L105.2,550.5 L105.2,549.9 L104.4,549.9 L103.7,549.9 L103.7,548.1 L103.1,548.1 L102.4,548.1 L102.4,546.3 L101.7,546.3 L101.0,546.3 L101.0,545.4 L100.4,545.4 L99.7,545.4 L99.7,544.5 L99.1,544.5 L98.4,544.5 L98.4,543.7 L97.7,543.7 L97.1,543.7 L97.1,542.8 L96.4,542.8 L90.2,541.9 L89.3,541.9 L89.3,539.2 L88.5,539.2 L87.6,539.2 L87.6,536.6 L86.7,536.6 L86.1,536.6 L86.1,535.1 L85.5,535.1 L84.9,535.1 L84.9,533.7 L84.3,533.7 L83.7,533.7 L83.7,532.2 L83.1,532.2 L82.2,532.2 L82.2,528.6 L81.3,528.6 L80.4,528.6 L80.4,527.7 L79.5,527.7 L78.7,527.7 L78.7,526.8 L77.8,526.8 L76.9,519.8 L76.2,519.8 L76.2,517.1 L75.6,517.1 L74.9,517.1 L74.9,514.4 L74.2,514.4 L73.5,514.4 L73.5,510.9 L72.9,510.9 L72.2,510.9 L72.2,507.4 L71.6,507.4 L70.7,507.4 L70.7,500.3 L69.8,500.3 L69.2,500.3 L69.2,492.3 L68.5,492.3 L67.8,492.3 L67.8,484.3 L67.2,484.3 L66.5,484.3 L66.5,479.0 L65.8,479.0 L65.2,479.0 L65.2,473.7 L64.5,473.7 L63.6,473.7 L63.6,460.4 L62.7,460.4 L61.9,460.4 L61.9,456.0 L61.0,456.0 L60.1,456.0 L60.1,453.3 L59.2,453.3 L58.8,453.3 L58.8,450.3 L58.3,450.3 Z" fill="#7F007F"/>
<path d="M58.3,450.3 L58.8,450.3 L58.8,451.6 L59.2,451.6 L60.1,451.6 L60.1,452.7 L61.0,452.7 L61.9,452.7 L61.9,454.6 L62.7,454.6 L63.6,454.6 L63.6,460.6 L64.5,460.6 L65.2,460.6 L65.2,463.2 L65.8,463.2 L66.5,463.2 L66.5,466.2 L67.2,466.2 L67.8,466.2 L67.8,470.8 L68.5,470.8 L69.2,470.8 L69.2,475.7 L69.8,475.7 L70.7,475.7 L70.7,479.4 L71.6,479.4 L72.2,479.4 L72.2,481.2 L72.9,481.2 L73.5,481.2 L73.5,483.3 L74.2,483.3 L74.9,483.3 L74.9,484.9 L75.6,484.9 L76.2,484.9 L76.2,486.6 L76.9,486.6 L77.8,490.8 L78.7,490.8 L78.7,491.3 L79.5,491.3 L80.4,491.3 L80.4,491.8 L81.3,491.8 L82.2,491.8 L82.2,494.3 L83.1,494.3 L83.7,494.3 L83.7,495.4 L84.3,495.4 L84.9,495.4 L84.9,496.7 L85.5,496.7 L86.1,496.7 L86.1,498.0 L86.7,498.0 L87.6,498.0 L87.6,500.0 L88.5,500.0 L89.3,500.0 L89.3,501.8 L90.2,501.8 L96.4,502.9 L97.1,502.9 L97.1,503.6 L97.7,503.6 L98.4,503.6 L98.4,504.3 L99.1,504.3 L99.7,504.3 L99.7,505.0 L100.4,505.0 L101.0,505.0 L101.0,505.8 L101.7,505.8 L102.4,505.8 L102.4,507.2 L103.1,507.2 L103.7,507.2 L103.7,508.7 L104.4,508.7 L105.2,508.7 L105.2,509.3 L106.0,509.3 L106.7,509.3 L106.7,509.9 L107.5,509.9 L108.3,509.9 L108.3,510.4 L109.0,510.4 L109.8,510.4 L109.8,511.0 L110.6,511.0 L123.0,511.5 L123.7,511.5 L123.7,512.6 L124.3,512.6 L124.9,512.6 L124.9,513.8 L125.6,513.8 L130.6,514.3 L130.6,555.6 L125.6,555.2 L124.9,555.2 L124.9,554.0 L124.3,554.0 L123.7,554.0 L123.7,552.9 L123.0,552.9 L110.6,552.5 L109.8,552.5 L109.8,551.9 L109.0,551.9 L108.3,551.9 L108.3,551.2 L107.5,551.2 L106.7,551.2 L106.7,550.5 L106.0,550.5 L105.2,550.5 L105.2,549.9 L104.4,549.9 L103.7,549.9 L103.7,548.1 L103.1,548.1 L102.4,548.1 L102.4,546.3 L101.7,546.3 L101.0,546.3 L101.0,545.4 L100.4,545.4 L99.7,545.4 L99.7,544.5 L99.1,544.5 L98.4,544.5 L98.4,543.7 L97.7,543.7 L97.1,543.7 L97.1,542.8 L96.4,542.8 L90.2,541.9 L89.3,541.9 L89.3,539.2 L88.5,539.2 L87.6,539.2 L87.6,536.6 L86.7,536.6 L86.1,536.6 L86.1,535.1 L85.5,535.1 L84.9,535.1 L84.9,533.7 L84.3,533.7 L83.7,533.7 L83.7,532.2 L83.1,532.2 L82.2,532.2 L82.2,528.6 L81.3,528.6 L80.4,528.6 L80.4,527.7 L79.5,527.7 L78.7,527.7 L78.7,526.8 L77.8,526.8 L76.9,519.8 L76.2,519.8 L76.2,517.1 L75.6,517.1 L74.9,517.1 L74.9,514.4 L74.2,514.4 L73.5,514.4 L73.5,510.9 L72.9,510.9 L72.2,510.9 L72.2,507.4 L71.6,507.4 L70.7,507.4 L70.7,500.3 L69.8,500.3 L69.2,500.3 L69.2,492.3 L68.5,492.3 L67.8,492.3 L67.8,484.3 L67.2,484.3 L66.5,484.3 L66.5,479.0 L65.8,479.0 L65.2,479.0 L65.2,473.7 L64.5,473.7 L63.6,473.7 L63.6,460.4 L62.7,460.4 L61.9,460.4 L61.9,456.0 L61.0,456.0 L60.1,456.0 L60.1,453.3 L59.2,453.3 L58.8,453.3 L58.8,450.3 L58.3,450.3 Z" fill="#BF003F"/>
<path d="M58.3,450.3 L58.8,450.3 L58.8,452.3 L59.2,452.3 L60.1,452.3 L60.1,454.1 L61.0,454.1 L61.9,454.1 L61.9,457.0 L62.7,457.0 L63.6,457.0 L63.6,466.1 L64.5,466.1 L65.2,466.1 L65.2,469.9 L65.8,469.9 L66.5,469.9 L66.5,474.0 L67.2,474.0 L67.8,474.0 L67.8,480.3 L68.5,480.3 L69.2,480.3 L69.2,486.7 L69.8,486.7 L70.7,486.7 L70.7,492.1 L71.6,492.1 L72.2,492.1 L72.2,494.7 L72.9,494.7 L73.5,494.7 L73.5,497.5 L74.2,497.5 L74.9,497.5 L74.9,499.7 L75.6,499.7 L76.2,499.7 L76.2,501.9 L76.9,501.9 L77.8,507.6 L78.7,507.6 L78.7,508.3 L79.5,508.3 L80.4,508.3 L80.4,509.1 L81.3,509.1 L82.2,509.1 L82.2,512.2 L83.1,512.2 L83.7,512.2 L83.7,513.6 L84.3,513.6 L84.9,513.6 L84.9,515.0 L85.5,515.0 L86.1,515.0 L86.1,516.5 L86.7,516.5 L87.6,516.5 L87.6,518.9 L88.5,518.9 L89.3,518.9 L89.3,521.3 L90.2,521.3 L96.4,522.3 L97.1,522.3 L97.1,523.2 L97.7,523.2 L98.4,523.2 L98.4,524.0 L99.1,524.0 L99.7,524.0 L99.7,524.9 L100.4,524.9 L101.0,524.9 L101.0,525.7 L101.7,525.7 L102.4,525.7 L102.4,527.5 L103.1,527.5 L103.7,527.5 L103.7,529.2 L104.4,529.2 L105.2,529.2 L105.2,529.9 L106.0,529.9 L106.7,529.9 L106.7,530.5 L107.5,530.5 L108.3,530.5 L108.3,531.2 L109.0,531.2 L109.8,531.2 L109.8,531.9 L110.6,531.9 L123.0,532.3 L123.7,532.3 L123.7,533.6 L124.3,533.6 L124.9,533.6 L124.9,534.8 L125.6,534.8 L130.6,535.3 L130.6,555.6 L125.6,555.2 L124.9,555.2 L124.9,554.0 L124.3,554.0 L123.7,554.0 L123.7,552.9 L123.0,552.9 L110.6,552.5 L109.8,552.5 L109.8,551.9 L109.0,551.9 L108.3,551.9 L108.3,551.2 L107.5,551.2 L106.7,551.2 L106.7,550.5 L106.0,550.5 L105.2,550.5 L105.2,549.9 L104.4,549.9 L103.7,549.9 L103.7,548.1 L103.1,548.1 L102.4,548.1 L102.4,546.3 L101.7,546.3 L101.0,546.3 L101.0,545.4 L100.4,545.4 L99.7,545.4 L99.7,544.5 L99.1,544.5 L98.4,544.5 L98.4,543.7 L97.7,543.7 L97.1,543.7 L97.1,542.8 L96.4,542.8 L90.2,541.9 L89.3,541.9 L89.3,539.2 L88.5,539.2 L87.6,539.2 L87.6,536.6 L86.7,536.6 L86.1,536.6 L86.1,535.1 L85.5,535.1 L84.9,535.1 L84.9,533.7 L84.3,533.7 L83.7,533.7 L83.7,532.2 L83.1,532.2 L82.2,532.2 L82.2,528.6 L81.3,528.6 L80.4,528.6 L80.4,527.7 L79.5,527.7 L78.7,527.7 L78.7,526.8 L77.8,526.8 L76.9,519.8 L76.2,519.8 L76.2,517.1 L75.6,517.1 L74.9,517.1 L74.9,514.4 L74.2,514.4 L73.5,514.4 L73.5,510.9 L72.9,510.9 L72.2,510.9 L72.2,507.4 L71.6,507.4 L70.7,507.4 L70.7,500.3 L69.8,500.3 L69.2,500.3 L69.2,492.3 L68.5,492.3 L67.8,492.3 L67.8,484.3 L67.2,484.3 L66.5,484.3 L66.5,479.0 L65.8,479.0 L65.2,479.0 L65.2,473.7 L64.5,473.7 L63.6,473.7 L63.6,460.4 L62.7,460.4 L61.9,460.4 L61.9,456.0 L61.0,456.0 L60.1,456.0 L60.1,453.3 L59.2,453.3 L58.8,453.3 L58.8,450.3 L58.3,450.3 Z" fill="#FF0000"/>
<line x1="51.70" y1="450.30" x2="58.30" y2="450.30" stroke="#cf86b8" stroke-width="0.9" />
<rect x="47.70" y="427.50" width="86.70" height="15.80" fill="#d9d9d9" stroke="#5e5e5e" stroke-width="0.9" />
<text x="91.05" y="439.00" font-family="'Liberation Sans', sans-serif" font-size="9.8" text-anchor="middle" fill="#1a1a1a" font-weight="normal" font-style="normal" >inv(16)</text>
<rect x="47.70" y="443.30" width="86.70" height="147.70" fill="none" stroke="#5e5e5e" stroke-width="0.9" />
<line x1="45.50" y1="556.58" x2="47.70" y2="556.58" stroke="#5e5e5e" stroke-width="0.9" />
<text x="44.30" y="560.12" font-family="'Liberation Sans', sans-serif" font-size="10.0" text-anchor="end" fill="#4d4d4d" font-weight="normal" font-style="normal" >0.25</text>
<line x1="45.50" y1="521.15" x2="47.70" y2="521.15" stroke="#5e5e5e" stroke-width="0.9" />
<text x="44.30" y="524.70" font-family="'Liberation Sans', sans-serif" font-size="10.0" text-anchor="end" fill="#4d4d4d" font-weight="normal" font-style="normal" >0.50</text>
<line x1="45.50" y1="485.73" x2="47.70" y2="485.73" stroke="#5e5e5e" stroke-width="0.9" />
<text x="44.30" y="489.28" font-family="'Liberation Sans', sans-serif" font-size="10.0" text-anchor="end" fill="#4d4d4d" font-weight="normal" font-style="normal" >0.75</text>
<line x1="45.50" y1="450.30" x2="47.70" y2="450.30" stroke="#5e5e5e" stroke-width="0.9" />
<text x="44.30" y="453.85" font-family="'Liberation Sans', sans-serif" font-size="10.0" text-anchor="end" fill="#4d4d4d" font-weight="normal" font-style="normal" >1.00</text>
<line x1="155.53" y1="443.30" x2="155.53" y2="591.00" stroke="#f2f2f2" stroke-width="0.6" />
<line x1="180.89" y1="443.30" x2="180.89" y2="591.00" stroke="#f2f2f2" stroke-width="0.6" />
<line x1="206.25" y1="443.30" x2="206.25" y2="591.00" stroke="#f2f2f2" stroke-width="0.6" />
<line x1="138.85" y1="574.29" x2="225.55" y2="574.29" stroke="#f2f2f2" stroke-width="0.6" />
<line x1="138.85" y1="538.86" x2="225.55" y2="538.86" stroke="#f2f2f2" stroke-width="0.6" />
<line x1="138.85" y1="503.44" x2="225.55" y2="503.44" stroke="#f2f2f2" stroke-width="0.6" />
<line x1="138.85" y1="468.01" x2="225.55" y2="468.01" stroke="#f2f2f2" stroke-width="0.6" />
<line x1="142.85" y1="443.30" x2="142.85" y2="591.00" stroke="#ebebeb" stroke-width="0.9" />
<line x1="168.21" y1="443.30" x2="168.21" y2="591.00" stroke="#ebebeb" stroke-width="0.9" />
<line x1="193.57" y1="443.30" x2="193.57" y2="591.00" stroke="#ebebeb" stroke-width="0.9" />
<line x1="218.93" y1="443.30" x2="218.93" y2="591.00" stroke="#ebebeb" stroke-width="0.9" />
<line x1="138.85" y1="556.58" x2="225.55" y2="556.58" stroke="#ebebeb" stroke-width="0.9" />
<line x1="138.85" y1="521.15" x2="225.55" y2="521.15" stroke="#ebebeb" stroke-width="0.9" />
<line x1="138.85" y1="485.73" x2="225.55" y2="485.73" stroke="#ebebeb" stroke-width="0.9" />
<line x1="138.85" y1="450.30" x2="225.55" y2="450.30" stroke="#ebebeb" stroke-width="0.9" />
<path d="M149.3,450.3 L150.2,450.3 L150.2,451.3 L151.1,451.3 L151.8,451.3 L151.8,451.9 L152.4,451.9 L153.0,451.9 L153.0,452.6 L153.7,452.6 L154.6,452.6 L154.6,454.8 L155.5,454.8 L156.2,454.8 L156.2,455.2 L156.8,455.2 L157.5,455.2 L157.5,456.0 L158.2,456.0 L158.8,456.0 L158.8,457.3 L159.5,457.3 L160.2,457.3 L160.2,460.5 L160.8,460.5 L161.7,460.5 L161.7,464.2 L162.6,464.2 L163.2,464.2 L163.2,464.7 L163.9,464.7 L164.5,464.7 L164.5,465.6 L165.2,465.6 L165.8,465.6 L165.8,466.4 L166.4,466.4 L167.0,466.4 L167.0,467.4 L167.6,467.4 L168.2,467.4 L168.2,468.4 L168.8,468.4 L169.5,468.4 L169.5,469.6 L170.1,469.6 L170.8,469.6 L170.8,470.5 L171.4,470.5 L172.1,470.5 L172.1,470.9 L172.8,470.9 L173.4,470.9 L173.4,471.3 L174.1,471.3 L174.8,471.3 L174.8,472.3 L175.6,472.3 L176.3,472.3 L176.3,473.5 L177.0,473.5 L177.8,473.5 L177.8,474.5 L178.5,474.5 L179.1,474.5 L179.1,474.8 L179.7,474.8 L180.3,474.8 L180.3,475.4 L180.9,475.4 L181.5,475.4 L181.5,476.4 L182.1,476.4 L182.8,476.4 L182.8,476.6 L183.4,476.6 L184.1,476.6 L184.8,476.6 L185.4,476.6 L185.4,476.7 L186.1,476.7 L186.7,476.7 L187.4,476.7 L188.1,476.7 L188.1,477.1 L188.8,477.1 L189.5,477.1 L189.5,477.7 L190.2,477.7 L190.9,477.7 L190.9,478.3 L191.7,478.3 L192.4,478.3 L192.4,478.9 L193.1,478.9 L193.8,478.9 L193.8,479.7 L194.5,479.7 L195.2,479.7 L195.2,480.0 L195.8,480.0 L196.5,480.0 L196.5,480.4 L197.2,480.4 L197.8,480.4 L197.8,480.8 L198.5,480.8 L199.2,480.8 L199.2,481.3 L199.8,481.3 L200.5,481.3 L200.5,481.7 L201.2,481.7 L201.8,481.7 L201.8,482.0 L202.5,482.0 L214.0,482.4 L214.7,482.4 L214.7,483.2 L215.3,483.2 L215.9,483.2 L215.9,484.1 L216.6,484.1 L221.6,484.1 L221.6,575.1 L216.6,575.1 L215.9,575.1 L215.9,574.2 L215.3,574.2 L214.7,574.2 L214.7,573.3 L214.0,573.3 L202.5,572.9 L201.8,572.9 L201.8,572.6 L201.2,572.6 L200.5,572.6 L200.5,572.3 L199.8,572.3 L199.2,572.3 L199.2,572.0 L198.5,572.0 L197.8,572.0 L197.8,571.8 L197.2,571.8 L196.5,571.8 L196.5,571.5 L195.8,571.5 L195.2,571.5 L195.2,571.2 L194.5,571.2 L193.8,571.2 L193.8,570.1 L193.1,570.1 L192.4,570.1 L192.4,569.0 L191.7,569.0 L190.9,569.0 L190.9,568.0 L190.2,568.0 L189.5,568.0 L189.5,566.9 L188.8,566.9 L188.1,566.9 L188.1,565.8 L187.4,565.8 L186.7,565.8 L186.7,565.4 L186.1,565.4 L185.4,565.4 L185.4,565.0 L184.8,565.0 L184.1,565.0 L184.1,564.5 L183.4,564.5 L182.8,564.5 L182.8,564.1 L182.1,564.1 L181.5,564.1 L181.5,563.2 L180.9,563.2 L180.3,563.2 L180.3,562.3 L179.7,562.3 L179.1,562.3 L179.1,561.4 L178.5,561.4 L177.8,561.4 L177.8,559.3 L177.0,559.3 L176.3,559.3 L176.3,557.3 L175.6,557.3 L174.8,557.3 L174.8,555.2 L174.1,555.2 L173.4,555.2 L173.4,554.3 L172.8,554.3 L172.1,554.3 L172.1,553.5 L171.4,553.5 L170.8,553.5 L170.8,552.6 L170.1,552.6 L169.5,552.6 L169.5,551.7 L168.8,551.7 L168.2,551.7 L168.2,548.1 L167.6,548.1 L167.0,548.1 L167.0,544.6 L166.4,544.6 L165.8,544.6 L165.8,541.0 L165.2,541.0 L164.5,541.0 L164.5,536.6 L163.9,536.6 L163.2,536.6 L163.2,532.2 L162.6,532.2 L161.7,532.2 L161.7,518.0 L160.8,518.0 L160.2,518.0 L160.2,508.2 L159.5,508.2 L158.8,508.2 L158.8,498.5 L158.2,498.5 L157.5,498.5 L157.5,490.5 L156.8,490.5 L156.2,490.5 L156.2,482.5 L155.5,482.5 L154.6,482.5 L154.6,466.6 L153.7,466.6 L153.0,466.6 L153.0,462.1 L152.4,462.1 L151.8,462.1 L151.8,457.7 L151.1,457.7 L150.2,457.7 L150.2,450.3 L149.3,450.3 Z" fill="#0000FF"/>
<path d="M149.3,450.3 L150.2,450.3 L150.2,451.9 L151.1,451.9 L151.8,451.9 L151.8,452.8 L152.4,452.8 L153.0,452.8 L153.0,453.8 L153.7,453.8 L154.6,453.8 L154.6,457.2 L155.5,457.2 L156.2,457.2 L156.2,458.1 L156.8,458.1 L157.5,458.1 L157.5,459.4 L158.2,459.4 L158.8,459.4 L158.8,461.6 L159.5,461.6 L160.2,461.6 L160.2,466.1 L160.8,466.1 L161.7,466.1 L161.7,471.6 L162.6,471.6 L163.2,471.6 L163.2,472.4 L163.9,472.4 L164.5,472.4 L164.5,473.9 L165.2,473.9 L165.8,473.9 L165.8,475.1 L166.4,475.1 L167.0,475.1 L167.0,476.6 L167.6,476.6 L168.2,476.6 L168.2,478.2 L168.8,478.2 L169.5,478.2 L169.5,479.6 L170.1,479.6 L170.8,479.6 L170.8,480.7 L171.4,480.7 L172.1,480.7 L172.1,481.3 L172.8,481.3 L173.4,481.3 L173.4,481.8 L174.1,481.8 L174.8,481.8 L174.8,483.3 L175.6,483.3 L176.3,483.3 L176.3,484.9 L177.0,484.9 L177.8,484.9 L177.8,486.3 L178.5,486.3 L179.1,486.3 L179.1,486.8 L179.7,486.8 L180.3,486.8 L180.3,487.5 L180.9,487.5 L181.5,487.5 L181.5,488.7 L182.1,488.7 L182.8,488.7 L182.8,489.1 L183.4,489.1 L184.1,489.1 L184.1,489.2 L184.8,489.2 L185.4,489.2 L185.4,489.3 L186.1,489.3 L186.7,489.3 L186.7,489.4 L187.4,489.4 L188.1,489.4 L188.1,490.0 L188.8,490.0 L189.5,490.0 L189.5,490.8 L190.2,490.8 L190.9,490.8 L190.9,491.6 L191.7,491.6 L192.4,491.6 L192.4,492.5 L193.1,492.5 L193.8,492.5 L193.8,493.5 L194.5,493.5 L195.2,493.5 L195.2,493.9 L195.8,493.9 L196.5,493.9 L196.5,494.4 L197.2,494.4 L197.8,494.4 L197.8,495.0 L198.5,495.0 L199.2,495.0 L199.2,495.5 L199.8,495.5 L200.5,495.5 L200.5,496.0 L201.2,496.0 L201.8,496.0 L201.8,496.4 L202.5,496.4 L214.0,496.9 L214.7,496.9 L214.7,497.9 L215.3,497.9 L215.9,497.9 L215.9,499.1 L216.6,499.1 L221.6,499.1 L221.6,575.1 L216.6,575.1 L215.9,575.1 L215.9,574.2 L215.3,574.2 L214.7,574.2 L214.7,573.3 L214.0,573.3 L202.5,572.9 L201.8,572.9 L201.8,572.6 L201.2,572.6 L200.5,572.6 L200.5,572.3 L199.8,572.3 L199.2,572.3 L199.2,572.0 L198.5,572.0 L197.8,572.0 L197.8,571.8 L197.2,571.8 L196.5,571.8 L196.5,571.5 L195.8,571.5 L195.2,571.5 L195.2,571.2 L194.5,571.2 L193.8,571.2 L193.8,570.1 L193.1,570.1 L192.4,570.1 L192.4,569.0 L191.7,569.0 L190.9,569.0 L190.9,568.0 L190.2,568.0 L189.5,568.0 L189.5,566.9 L188.8,566.9 L188.1,566.9 L188.1,565.8 L187.4,565.8 L186.7,565.8 L186.7,565.4 L186.1,565.4 L185.4,565.4 L185.4,565.0 L184.8,565.0 L184.1,565.0 L184.1,564.5 L183.4,564.5 L182.8,564.5 L182.8,564.1 L182.1,564.1 L181.5,564.1 L181.5,563.2 L180.9,563.2 L180.3,563.2 L180.3,562.3 L179.7,562.3 L179.1,562.3 L179.1,561.4 L178.5,561.4 L177.8,561.4 L177.8,559.3 L177.0,559.3 L176.3,559.3 L176.3,557.3 L175.6,557.3 L174.8,557.3 L174.8,555.2 L174.1,555.2 L173.4,555.2 L173.4,554.3 L172.8,554.3 L172.1,554.3 L172.1,553.5 L171.4,553.5 L170.8,553.5 L170.8,552.6 L170.1,552.6 L169.5,552.6 L169.5,551.7 L168.8,551.7 L168.2,551.7 L168.2,548.1 L167.6,548.1 L167.0,548.1 L167.0,544.6 L166.4,544.6 L165.8,544.6 L165.8,541.0 L165.2,541.0 L164.5,541.0 L164.5,536.6 L163.9,536.6 L163.2,536.6 L163.2,532.2 L162.6,532.2 L161.7,532.2 L161.7,518.0 L160.8,518.0 L160.2,518.0 L160.2,508.2 L159.5,508.2 L158.8,508.2 L158.8,498.5 L158.2,498.5 L157.5,498.5 L157.5,490.5 L156.8,490.5 L156.2,490.5 L156.2,482.5 L155.5,482.5 L154.6,482.5 L154.6,466.6 L153.7,466.6 L153.0,466.6 L153.0,462.1 L152.4,462.1 L151.8,462.1 L151.8,457.7 L151.1,457.7 L150.2,457.7 L150.2,450.3 L149.3,450.3 Z" fill="#3F00BF"/>
<path d="M149.3,450.3 L150.2,450.3 L150.2,452.6 L151.1,452.6 L151.8,452.6 L151.8,454.1 L152.4,454.1 L153.0,454.1 L153.0,455.6 L153.7,455.6 L154.6,455.6 L154.6,460.8 L155.5,460.8 L156.2,460.8 L156.2,462.5 L156.8,462.5 L157.5,462.5 L157.5,464.7 L158.2,464.7 L158.8,464.7 L158.8,468.2 L159.5,468.2 L160.2,468.2 L160.2,474.2 L160.8,474.2 L161.7,474.2 L161.7,481.8 L162.6,481.8 L163.2,481.8 L163.2,483.4 L163.9,483.4 L164.5,483.4 L164.5,485.5 L165.2,485.5 L165.8,485.5 L165.8,487.4 L166.4,487.4 L167.0,487.4 L167.0,489.5 L167.6,489.5 L168.2,489.5 L168.2,491.7 L168.8,491.7 L169.5,491.7 L169.5,493.4 L170.1,493.4 L170.8,493.4 L170.8,494.7 L171.4,494.7 L172.1,494.7 L172.1,495.4 L172.8,495.4 L173.4,495.4 L173.4,496.2 L174.1,496.2 L174.8,496.2 L174.8,498.0 L175.6,498.0 L176.3,498.0 L176.3,500.1 L177.0,500.1 L177.8,500.1 L177.8,501.8 L178.5,501.8 L179.1,501.8 L179.1,502.5 L179.7,502.5 L180.3,502.5 L180.3,503.4 L180.9,503.4 L181.5,503.4 L181.5,504.9 L182.1,504.9 L182.8,504.9 L182.8,505.3 L183.4,505.3 L184.1,505.3 L184.1,505.5 L184.8,505.5 L185.4,505.5 L185.4,505.7 L186.1,505.7 L186.7,505.7 L186.7,505.9 L187.4,505.9 L188.1,505.9 L188.1,506.7 L188.8,506.7 L189.5,506.7 L189.5,507.8 L190.2,507.8 L190.9,507.8 L190.9,508.9 L191.7,508.9 L192.4,508.9 L192.4,510.0 L193.1,510.0 L193.8,510.0 L193.8,511.3 L194.5,511.3 L195.2,511.3 L195.2,511.8 L195.8,511.8 L196.5,511.8 L196.5,512.3 L197.2,512.3 L197.8,512.3 L197.8,512.9 L198.5,512.9 L199.2,512.9 L199.2,513.5 L199.8,513.5 L200.5,513.5 L200.5,514.0 L201.2,514.0 L201.8,514.0 L201.8,514.5 L202.5,514.5 L214.0,515.1 L214.7,515.1 L214.7,516.3 L215.3,516.3 L215.9,516.3 L215.9,517.7 L216.6,517.7 L221.6,517.7 L221.6,575.1 L216.6,575.1 L215.9,575.1 L215.9,574.2 L215.3,574.2 L214.7,574.2 L214.7,573.3 L214.0,573.3 L202.5,572.9 L201.8,572.9 L201.8,572.6 L201.2,572.6 L200.5,572.6 L200.5,572.3 L199.8,572.3 L199.2,572.3 L199.2,572.0 L198.5,572.0 L197.8,572.0 L197.8,571.8 L197.2,571.8 L196.5,571.8 L196.5,571.5 L195.8,571.5 L195.2,571.5 L195.2,571.2 L194.5,571.2 L193.8,571.2 L193.8,570.1 L193.1,570.1 L192.4,570.1 L192.4,569.0 L191.7,569.0 L190.9,569.0 L190.9,568.0 L190.2,568.0 L189.5,568.0 L189.5,566.9 L188.8,566.9 L188.1,566.9 L188.1,565.8 L187.4,565.8 L186.7,565.8 L186.7,565.4 L186.1,565.4 L185.4,565.4 L185.4,565.0 L184.8,565.0 L184.1,565.0 L184.1,564.5 L183.4,564.5 L182.8,564.5 L182.8,564.1 L182.1,564.1 L181.5,564.1 L181.5,563.2 L180.9,563.2 L180.3,563.2 L180.3,562.3 L179.7,562.3 L179.1,562.3 L179.1,561.4 L178.5,561.4 L177.8,561.4 L177.8,559.3 L177.0,559.3 L176.3,559.3 L176.3,557.3 L175.6,557.3 L174.8,557.3 L174.8,555.2 L174.1,555.2 L173.4,555.2 L173.4,554.3 L172.8,554.3 L172.1,554.3 L172.1,553.5 L171.4,553.5 L170.8,553.5 L170.8,552.6 L170.1,552.6 L169.5,552.6 L169.5,551.7 L168.8,551.7 L168.2,551.7 L168.2,548.1 L167.6,548.1 L167.0,548.1 L167.0,544.6 L166.4,544.6 L165.8,544.6 L165.8,541.0 L165.2,541.0 L164.5,541.0 L164.5,536.6 L163.9,536.6 L163.2,536.6 L163.2,532.2 L162.6,532.2 L161.7,532.2 L161.7,518.0 L160.8,518.0 L160.2,518.0 L160.2,508.2 L159.5,508.2 L158.8,508.2 L158.8,498.5 L158.2,498.5 L157.5,498.5 L157.5,490.5 L156.8,490.5 L156.2,490.5 L156.2,482.5 L155.5,482.5 L154.6,482.5 L154.6,466.6 L153.7,466.6 L153.0,466.6 L153.0,462.1 L152.4,462.1 L151.8,462.1 L151.8,457.7 L151.1,457.7 L150.2,457.7 L150.2,450.3 L149.3,450.3 Z" fill="#7F007F"/>
<path d="M149.3,450.3 L150.2,450.3 L150.2,453.8 L151.1,453.8 L151.8,453.8 L151.8,455.9 L152.4,455.9 L153.0,455.9 L153.0,458.1 L153.7,458.1 L154.6,458.1 L154.6,465.8 L155.5,465.8 L156.2,465.8 L156.2,468.8 L156.8,468.8 L157.5,468.8 L157.5,472.4 L158.2,472.4 L158.8,472.4 L158.8,477.5 L159.5,477.5 L160.2,477.5 L160.2,485.2 L160.8,485.2 L161.7,485.2 L161.7,495.3 L162.6,495.3 L163.2,495.3 L163.2,497.7 L163.9,497.7 L164.5,497.7 L164.5,500.7 L165.2,500.7 L165.8,500.7 L165.8,503.3 L166.4,503.3 L167.0,503.3 L167.0,506.1 L167.6,506.1 L168.2,506.1 L168.2,509.0 L168.8,509.0 L169.5,509.0 L169.5,510.7 L170.1,510.7 L170.8,510.7 L170.8,512.0 L171.4,512.0 L172.1,512.0 L172.1,512.9 L172.8,512.9 L173.4,512.9 L173.4,513.8 L174.1,513.8 L174.8,513.8 L174.8,515.9 L175.6,515.9 L176.3,515.9 L176.3,518.3 L177.0,518.3 L177.8,518.3 L177.8,520.4 L178.5,520.4 L179.1,520.4 L179.1,521.3 L179.7,521.3 L180.3,521.3 L180.3,522.4 L180.9,522.4 L181.5,522.4 L181.5,523.8 L182.1,523.8 L182.8,523.8 L182.8,524.3 L183.4,524.3 L184.1,524.3 L184.1,524.6 L184.8,524.6 L185.4,524.6 L185.4,524.9 L186.1,524.9 L186.7,524.9 L186.7,525.2 L187.4,525.2 L188.1,525.2 L188.1,526.3 L188.8,526.3 L189.5,526.3 L189.5,527.6 L190.2,527.6 L190.9,527.6 L190.9,528.8 L191.7,528.8 L192.4,528.8 L192.4,530.1 L193.1,530.1 L193.8,530.1 L193.8,531.6 L194.5,531.6 L195.2,531.6 L195.2,532.0 L195.8,532.0 L196.5,532.0 L196.5,532.6 L197.2,532.6 L197.8,532.6 L197.8,533.1 L198.5,533.1 L199.2,533.1 L199.2,533.7 L199.8,533.7 L200.5,533.7 L200.5,534.2 L201.2,534.2 L201.8,534.2 L201.8,534.7 L202.5,534.7 L214.0,535.3 L214.7,535.3 L214.7,536.7 L215.3,536.7 L215.9,536.7 L215.9,538.1 L216.6,538.1 L221.6,538.1 L221.6,575.1 L216.6,575.1 L215.9,575.1 L215.9,574.2 L215.3,574.2 L214.7,574.2 L214.7,573.3 L214.0,573.3 L202.5,572.9 L201.8,572.9 L201.8,572.6 L201.2,572.6 L200.5,572.6 L200.5,572.3 L199.8,572.3 L199.2,572.3 L199.2,572.0 L198.5,572.0 L197.8,572.0 L197.8,571.8 L197.2,571.8 L196.5,571.8 L196.5,571.5 L195.8,571.5 L195.2,571.5 L195.2,571.2 L194.5,571.2 L193.8,571.2 L193.8,570.1 L193.1,570.1 L192.4,570.1 L192.4,569.0 L191.7,569.0 L190.9,569.0 L190.9,568.0 L190.2,568.0 L189.5,568.0 L189.5,566.9 L188.8,566.9 L188.1,566.9 L188.1,565.8 L187.4,565.8 L186.7,565.8 L186.7,565.4 L186.1,565.4 L185.4,565.4 L185.4,565.0 L184.8,565.0 L184.1,565.0 L184.1,564.5 L183.4,564.5 L182.8,564.5 L182.8,564.1 L182.1,564.1 L181.5,564.1 L181.5,563.2 L180.9,563.2 L180.3,563.2 L180.3,562.3 L179.7,562.3 L179.1,562.3 L179.1,561.4 L178.5,561.4 L177.8,561.4 L177.8,559.3 L177.0,559.3 L176.3,559.3 L176.3,557.3 L175.6,557.3 L174.8,557.3 L174.8,555.2 L174.1,555.2 L173.4,555.2 L173.4,554.3 L172.8,554.3 L172.1,554.3 L172.1,553.5 L171.4,553.5 L170.8,553.5 L170.8,552.6 L170.1,552.6 L169.5,552.6 L169.5,551.7 L168.8,551.7 L168.2,551.7 L168.2,548.1 L167.6,548.1 L167.0,548.1 L167.0,544.6 L166.4,544.6 L165.8,544.6 L165.8,541.0 L165.2,541.0 L164.5,541.0 L164.5,536.6 L163.9,536.6 L163.2,536.6 L163.2,532.2 L162.6,532.2 L161.7,532.2 L161.7,518.0 L160.8,518.0 L160.2,518.0 L160.2,508.2 L159.5,508.2 L158.8,508.2 L158.8,498.5 L158.2,498.5 L157.5,498.5 L157.5,490.5 L156.8,490.5 L156.2,490.5 L156.2,482.5 L155.5,482.5 L154.6,482.5 L154.6,466.6 L153.7,466.6 L153.0,466.6 L153.0,462.1 L152.4,462.1 L151.8,462.1 L151.8,457.7 L151.1,457.7 L150.2,457.7 L150.2,450.3 L149.3,450.3 Z" fill="#BF003F"/>
<path d="M149.3,450.3 L150.2,450.3 L150.2,455.3 L151.1,455.3 L151.8,455.3 L151.8,458.4 L152.4,458.4 L153.0,458.4 L153.0,461.5 L153.7,461.5 L154.6,461.5 L154.6,472.7 L155.5,472.7 L156.2,472.7 L156.2,477.7 L156.8,477.7 L157.5,477.7 L157.5,483.2 L158.2,483.2 L158.8,483.2 L158.8,490.4 L159.5,490.4 L160.2,490.4 L160.2,499.5 L160.8,499.5 L161.7,499.5 L161.7,511.9 L162.6,511.9 L163.2,511.9 L163.2,515.4 L163.9,515.4 L164.5,515.4 L164.5,519.2 L165.2,519.2 L165.8,519.2 L165.8,522.5 L166.4,522.5 L167.0,522.5 L167.0,525.8 L167.6,525.8 L168.2,525.8 L168.2,529.3 L168.8,529.3 L169.5,529.3 L169.5,530.7 L170.1,530.7 L170.8,530.7 L170.8,531.9 L171.4,531.9 L172.1,531.9 L172.1,532.9 L172.8,532.9 L173.4,532.9 L173.4,533.8 L174.1,533.8 L174.8,533.8 L174.8,536.1 L175.6,536.1 L176.3,536.1 L176.3,538.5 L177.0,538.5 L177.8,538.5 L177.8,540.8 L178.5,540.8 L179.1,540.8 L179.1,541.8 L179.7,541.8 L180.3,541.8 L180.3,542.8 L180.9,542.8 L181.5,542.8 L181.5,544.1 L182.1,544.1 L182.8,544.1 L182.8,544.6 L183.4,544.6 L184.1,544.6 L184.1,545.0 L184.8,545.0 L185.4,545.0 L185.4,545.4 L186.1,545.4 L186.7,545.4 L186.7,545.8 L187.4,545.8 L188.1,545.8 L188.1,547.0 L188.8,547.0 L189.5,547.0 L189.5,548.3 L190.2,548.3 L190.9,548.3 L190.9,549.6 L191.7,549.6 L192.4,549.6 L192.4,550.9 L193.1,550.9 L193.8,550.9 L193.8,552.3 L194.5,552.3 L195.2,552.3 L195.2,552.7 L195.8,552.7 L196.5,552.7 L196.5,553.1 L197.2,553.1 L197.8,553.1 L197.8,553.6 L198.5,553.6 L199.2,553.6 L199.2,554.0 L199.8,554.0 L200.5,554.0 L200.5,554.5 L201.2,554.5 L201.8,554.5 L201.8,554.9 L202.5,554.9 L214.0,555.5 L214.7,555.5 L214.7,556.7 L215.3,556.7 L215.9,556.7 L215.9,557.9 L216.6,557.9 L221.6,557.9 L221.6,575.1 L216.6,575.1 L215.9,575.1 L215.9,574.2 L215.3,574.2 L214.7,574.2 L214.7,573.3 L214.0,573.3 L202.5,572.9 L201.8,572.9 L201.8,572.6 L201.2,572.6 L200.5,572.6 L200.5,572.3 L199.8,572.3 L199.2,572.3 L199.2,572.0 L198.5,572.0 L197.8,572.0 L197.8,571.8 L197.2,571.8 L196.5,571.8 L196.5,571.5 L195.8,571.5 L195.2,571.5 L195.2,571.2 L194.5,571.2 L193.8,571.2 L193.8,570.1 L193.1,570.1 L192.4,570.1 L192.4,569.0 L191.7,569.0 L190.9,569.0 L190.9,568.0 L190.2,568.0 L189.5,568.0 L189.5,566.9 L188.8,566.9 L188.1,566.9 L188.1,565.8 L187.4,565.8 L186.7,565.8 L186.7,565.4 L186.1,565.4 L185.4,565.4 L185.4,565.0 L184.8,565.0 L184.1,565.0 L184.1,564.5 L183.4,564.5 L182.8,564.5 L182.8,564.1 L182.1,564.1 L181.5,564.1 L181.5,563.2 L180.9,563.2 L180.3,563.2 L180.3,562.3 L179.7,562.3 L179.1,562.3 L179.1,561.4 L178.5,561.4 L177.8,561.4 L177.8,559.3 L177.0,559.3 L176.3,559.3 L176.3,557.3 L175.6,557.3 L174.8,557.3 L174.8,555.2 L174.1,555.2 L173.4,555.2 L173.4,554.3 L172.8,554.3 L172.1,554.3 L172.1,553.5 L171.4,553.5 L170.8,553.5 L170.8,552.6 L170.1,552.6 L169.5,552.6 L169.5,551.7 L168.8,551.7 L168.2,551.7 L168.2,548.1 L167.6,548.1 L167.0,548.1 L167.0,544.6 L166.4,544.6 L165.8,544.6 L165.8,541.0 L165.2,541.0 L164.5,541.0 L164.5,536.6 L163.9,536.6 L163.2,536.6 L163.2,532.2 L162.6,532.2 L161.7,532.2 L161.7,518.0 L160.8,518.0 L160.2,518.0 L160.2,508.2 L159.5,508.2 L158.8,508.2 L158.8,498.5 L158.2,498.5 L157.5,498.5 L157.5,490.5 L156.8,490.5 L156.2,490.5 L156.2,482.5 L155.5,482.5 L154.6,482.5 L154.6,466.6 L153.7,466.6 L153.0,466.6 L153.0,462.1 L152.4,462.1 L151.8,462.1 L151.8,457.7 L151.1,457.7 L150.2,457.7 L150.2,450.3 L149.3,450.3 Z" fill="#FF0000"/>
<line x1="142.85" y1="450.30" x2="149.30" y2="450.30" stroke="#cf86b8" stroke-width="0.9" />
<rect x="138.85" y="427.50" width="86.70" height="15.80" fill="#d9d9d9" stroke="#5e5e5e" stroke-width="0.9" />
<text x="182.20" y="439.00" font-family="'Liberation Sans', sans-serif" font-size="9.8" text-anchor="middle" fill="#1a1a1a" font-weight="normal" font-style="normal" >MLL</text>
<rect x="138.85" y="443.30" width="86.70" height="147.70" fill="none" stroke="#5e5e5e" stroke-width="0.9" />
<line x1="246.68" y1="443.30" x2="246.68" y2="591.00" stroke="#f2f2f2" stroke-width="0.6" />
<line x1="272.04" y1="443.30" x2="272.04" y2="591.00" stroke="#f2f2f2" stroke-width="0.6" />
<line x1="297.40" y1="443.30" x2="297.40" y2="591.00" stroke="#f2f2f2" stroke-width="0.6" />
<line x1="230.00" y1="574.29" x2="316.70" y2="574.29" stroke="#f2f2f2" stroke-width="0.6" />
<line x1="230.00" y1="538.86" x2="316.70" y2="538.86" stroke="#f2f2f2" stroke-width="0.6" />
<line x1="230.00" y1="503.44" x2="316.70" y2="503.44" stroke="#f2f2f2" stroke-width="0.6" />
<line x1="230.00" y1="468.01" x2="316.70" y2="468.01" stroke="#f2f2f2" stroke-width="0.6" />
<line x1="234.00" y1="443.30" x2="234.00" y2="591.00" stroke="#ebebeb" stroke-width="0.9" />
<line x1="259.36" y1="443.30" x2="259.36" y2="591.00" stroke="#ebebeb" stroke-width="0.9" />
<line x1="284.72" y1="443.30" x2="284.72" y2="591.00" stroke="#ebebeb" stroke-width="0.9" />
<line x1="310.08" y1="443.30" x2="310.08" y2="591.00" stroke="#ebebeb" stroke-width="0.9" />
<line x1="230.00" y1="556.58" x2="316.70" y2="556.58" stroke="#ebebeb" stroke-width="0.9" />
<line x1="230.00" y1="521.15" x2="316.70" y2="521.15" stroke="#ebebeb" stroke-width="0.9" />
<line x1="230.00" y1="485.73" x2="316.70" y2="485.73" stroke="#ebebeb" stroke-width="0.9" />
<line x1="230.00" y1="450.30" x2="316.70" y2="450.30" stroke="#ebebeb" stroke-width="0.9" />
<path d="M240.8,450.3 L241.4,450.3 L241.4,451.2 L242.1,451.2 L242.8,451.2 L242.8,451.6 L243.4,451.6 L244.0,451.6 L244.0,452.0 L244.7,452.0 L245.4,452.0 L245.4,453.5 L246.1,453.5 L246.7,453.5 L246.7,454.3 L247.4,454.3 L248.1,454.3 L248.7,454.3 L249.3,454.3 L249.3,454.6 L250.0,454.6 L250.7,454.6 L250.7,455.9 L251.3,455.9 L252.0,455.9 L252.0,457.3 L252.7,457.3 L253.4,457.3 L253.4,457.8 L254.1,457.8 L254.7,457.8 L254.7,458.5 L255.4,458.5 L256.1,458.5 L256.1,459.0 L256.7,459.0 L257.4,459.0 L257.4,459.5 L258.0,459.5 L258.9,459.5 L258.9,461.0 L259.8,461.0 L260.7,461.0 L261.6,461.0 L262.4,461.0 L262.4,461.3 L263.3,461.3 L263.9,461.3 L263.9,461.8 L264.5,461.8 L265.1,461.8 L265.1,462.3 L265.7,462.3 L266.3,462.3 L266.3,462.9 L266.9,462.9 L267.5,462.9 L267.5,463.5 L268.2,463.5 L268.9,463.5 L268.9,464.1 L269.5,464.1 L270.1,464.1 L270.1,464.4 L270.7,464.4 L271.3,464.4 L271.3,464.7 L271.9,464.7 L272.5,464.7 L272.5,465.0 L273.1,465.0 L280.2,465.8 L281.1,465.8 L281.1,466.1 L281.9,466.1 L282.8,466.1 L282.8,466.4 L283.7,466.4 L284.4,466.4 L284.4,467.0 L285.0,467.0 L285.7,467.0 L285.7,467.7 L286.4,467.7 L287.2,467.7 L287.2,467.9 L287.9,467.9 L288.7,467.9 L288.7,468.0 L289.5,468.0 L290.3,468.0 L290.3,468.2 L291.1,468.2 L291.8,468.2 L291.8,468.4 L292.6,468.4 L305.0,468.6 L305.6,468.6 L305.6,469.0 L306.3,469.0 L307.0,469.0 L307.0,469.4 L307.6,469.4 L313.0,469.5 L313.0,550.2 L307.6,549.9 L307.0,549.9 L307.0,548.8 L306.3,548.8 L305.6,548.8 L305.6,547.6 L305.0,547.6 L292.6,547.2 L291.8,547.2 L291.8,546.6 L291.1,546.6 L290.3,546.6 L290.3,545.9 L289.5,545.9 L288.7,545.9 L288.7,545.2 L287.9,545.2 L287.2,545.2 L287.2,544.6 L286.4,544.6 L285.7,544.6 L285.7,542.4 L285.0,542.4 L284.4,542.4 L284.4,540.1 L283.7,540.1 L282.8,540.1 L282.8,538.8 L281.9,538.8 L281.1,538.8 L281.1,537.5 L280.2,537.5 L273.1,536.6 L272.5,536.6 L272.5,535.1 L271.9,535.1 L271.3,535.1 L271.3,533.7 L270.7,533.7 L270.1,533.7 L270.1,532.2 L269.5,532.2 L268.9,532.2 L268.9,530.4 L268.2,530.4 L267.5,530.4 L267.5,528.6 L266.9,528.6 L266.3,528.6 L266.3,526.8 L265.7,526.8 L265.1,526.8 L265.1,525.1 L264.5,525.1 L263.9,525.1 L263.9,523.3 L263.3,523.3 L262.4,523.3 L262.4,522.4 L261.6,522.4 L260.7,522.4 L260.7,521.5 L259.8,521.5 L258.9,521.5 L258.9,512.7 L258.0,512.7 L257.4,512.7 L257.4,510.1 L256.7,510.1 L256.1,510.1 L256.1,507.4 L255.4,507.4 L254.7,507.4 L254.7,503.9 L254.1,503.9 L253.4,503.9 L253.4,500.3 L252.7,500.3 L252.0,500.3 L252.0,493.2 L251.3,493.2 L250.7,493.2 L250.7,486.1 L250.0,486.1 L249.3,486.1 L249.3,480.8 L248.7,480.8 L248.1,480.8 L248.1,475.4 L247.4,475.4 L246.7,475.4 L246.7,467.4 L246.1,467.4 L245.4,467.4 L245.4,459.5 L244.7,459.5 L244.0,459.5 L244.0,457.3 L243.4,457.3 L242.8,457.3 L242.8,455.1 L242.1,455.1 L241.4,455.1 L241.4,450.3 L240.8,450.3 Z" fill="#0000FF"/>
<path d="M240.8,450.3 L241.4,450.3 L241.4,451.5 L242.1,451.5 L242.8,451.5 L242.8,452.1 L243.4,452.1 L244.0,452.1 L244.0,452.7 L244.7,452.7 L245.4,452.7 L245.4,454.8 L246.1,454.8 L246.7,454.8 L246.7,456.1 L247.4,456.1 L248.1,456.1 L248.1,456.4 L248.7,456.4 L249.3,456.4 L249.3,457.0 L250.0,457.0 L250.7,457.0 L250.7,458.9 L251.3,458.9 L252.0,458.9 L252.0,460.9 L252.7,460.9 L253.4,460.9 L253.4,461.8 L254.1,461.8 L254.7,461.8 L254.7,462.7 L255.4,462.7 L256.1,462.7 L256.1,463.5 L256.7,463.5 L257.4,463.5 L257.4,464.2 L258.0,464.2 L258.9,464.2 L258.9,466.6 L259.8,466.6 L260.7,466.6 L261.6,466.6 L262.4,466.6 L262.4,467.1 L263.3,467.1 L263.9,467.1 L263.9,467.8 L264.5,467.8 L265.1,467.8 L265.1,468.5 L265.7,468.5 L266.3,468.5 L266.3,469.3 L266.9,469.3 L267.5,469.3 L267.5,470.2 L268.2,470.2 L268.9,470.2 L268.9,471.0 L269.5,471.0 L270.1,471.0 L270.1,471.4 L270.7,471.4 L271.3,471.4 L271.3,471.8 L271.9,471.8 L272.5,471.8 L272.5,472.3 L273.1,472.3 L280.2,473.3 L281.1,473.3 L281.1,473.8 L281.9,473.8 L282.8,473.8 L282.8,474.2 L283.7,474.2 L284.4,474.2 L284.4,475.1 L285.0,475.1 L285.7,475.1 L285.7,476.1 L286.4,476.1 L287.2,476.1 L287.2,476.3 L287.9,476.3 L288.7,476.3 L288.7,476.6 L289.5,476.6 L290.3,476.6 L290.3,476.9 L291.1,476.9 L291.8,476.9 L291.8,477.1 L292.6,477.1 L305.0,477.4 L305.6,477.4 L305.6,478.0 L306.3,478.0 L307.0,478.0 L307.0,478.6 L307.6,478.6 L313.0,478.7 L313.0,550.2 L307.6,549.9 L307.0,549.9 L307.0,548.8 L306.3,548.8 L305.6,548.8 L305.6,547.6 L305.0,547.6 L292.6,547.2 L291.8,547.2 L291.8,546.6 L291.1,546.6 L290.3,546.6 L290.3,545.9 L289.5,545.9 L288.7,545.9 L288.7,545.2 L287.9,545.2 L287.2,545.2 L287.2,544.6 L286.4,544.6 L285.7,544.6 L285.7,542.4 L285.0,542.4 L284.4,542.4 L284.4,540.1 L283.7,540.1 L282.8,540.1 L282.8,538.8 L281.9,538.8 L281.1,538.8 L281.1,537.5 L280.2,537.5 L273.1,536.6 L272.5,536.6 L272.5,535.1 L271.9,535.1 L271.3,535.1 L271.3,533.7 L270.7,533.7 L270.1,533.7 L270.1,532.2 L269.5,532.2 L268.9,532.2 L268.9,530.4 L268.2,530.4 L267.5,530.4 L267.5,528.6 L266.9,528.6 L266.3,528.6 L266.3,526.8 L265.7,526.8 L265.1,526.8 L265.1,525.1 L264.5,525.1 L263.9,525.1 L263.9,523.3 L263.3,523.3 L262.4,523.3 L262.4,522.4 L261.6,522.4 L260.7,522.4 L260.7,521.5 L259.8,521.5 L258.9,521.5 L258.9,512.7 L258.0,512.7 L257.4,512.7 L257.4,510.1 L256.7,510.1 L256.1,510.1 L256.1,507.4 L255.4,507.4 L254.7,507.4 L254.7,503.9 L254.1,503.9 L253.4,503.9 L253.4,500.3 L252.7,500.3 L252.0,500.3 L252.0,493.2 L251.3,493.2 L250.7,493.2 L250.7,486.1 L250.0,486.1 L249.3,486.1 L249.3,480.8 L248.7,480.8 L248.1,480.8 L248.1,475.4 L247.4,475.4 L246.7,475.4 L246.7,467.4 L246.1,467.4 L245.4,467.4 L245.4,459.5 L244.7,459.5 L244.0,459.5 L244.0,457.3 L243.4,457.3 L242.8,457.3 L242.8,455.1 L242.1,455.1 L241.4,455.1 L241.4,450.3 L240.8,450.3 Z" fill="#3F00BF"/>
<path d="M240.8,450.3 L241.4,450.3 L241.4,452.1 L242.1,452.1 L242.8,452.1 L242.8,452.9 L243.4,452.9 L244.0,452.9 L244.0,453.7 L244.7,453.7 L245.4,453.7 L245.4,456.7 L246.1,456.7 L246.7,456.7 L246.7,458.8 L247.4,458.8 L248.1,458.8 L248.1,459.6 L248.7,459.6 L249.3,459.6 L249.3,460.7 L250.0,460.7 L250.7,460.7 L250.7,463.5 L251.3,463.5 L252.0,463.5 L252.0,466.4 L252.7,466.4 L253.4,466.4 L253.4,467.7 L254.1,467.7 L254.7,467.7 L254.7,469.1 L255.4,469.1 L256.1,469.1 L256.1,470.2 L256.7,470.2 L257.4,470.2 L257.4,471.3 L258.0,471.3 L258.9,471.3 L258.9,474.8 L259.8,474.8 L260.7,474.8 L260.7,475.0 L261.6,475.0 L262.4,475.0 L262.4,475.6 L263.3,475.6 L263.9,475.6 L263.9,476.5 L264.5,476.5 L265.1,476.5 L265.1,477.5 L265.7,477.5 L266.3,477.5 L266.3,478.6 L266.9,478.6 L267.5,478.6 L267.5,479.8 L268.2,479.8 L268.9,479.8 L268.9,480.9 L269.5,480.9 L270.1,480.9 L270.1,481.5 L270.7,481.5 L271.3,481.5 L271.3,482.2 L271.9,482.2 L272.5,482.2 L272.5,482.8 L273.1,482.8 L280.2,484.1 L281.1,484.1 L281.1,484.7 L281.9,484.7 L282.8,484.7 L282.8,485.4 L283.7,485.4 L284.4,485.4 L284.4,486.7 L285.0,486.7 L285.7,486.7 L285.7,488.0 L286.4,488.0 L287.2,488.0 L287.2,488.4 L287.9,488.4 L288.7,488.4 L288.7,488.7 L289.5,488.7 L290.3,488.7 L290.3,489.1 L291.1,489.1 L291.8,489.1 L291.8,489.5 L292.6,489.5 L305.0,489.8 L305.6,489.8 L305.6,490.6 L306.3,490.6 L307.0,490.6 L307.0,491.4 L307.6,491.4 L313.0,491.6 L313.0,550.2 L307.6,549.9 L307.0,549.9 L307.0,548.8 L306.3,548.8 L305.6,548.8 L305.6,547.6 L305.0,547.6 L292.6,547.2 L291.8,547.2 L291.8,546.6 L291.1,546.6 L290.3,546.6 L290.3,545.9 L289.5,545.9 L288.7,545.9 L288.7,545.2 L287.9,545.2 L287.2,545.2 L287.2,544.6 L286.4,544.6 L285.7,544.6 L285.7,542.4 L285.0,542.4 L284.4,542.4 L284.4,540.1 L283.7,540.1 L282.8,540.1 L282.8,538.8 L281.9,538.8 L281.1,538.8 L281.1,537.5 L280.2,537.5 L273.1,536.6 L272.5,536.6 L272.5,535.1 L271.9,535.1 L271.3,535.1 L271.3,533.7 L270.7,533.7 L270.1,533.7 L270.1,532.2 L269.5,532.2 L268.9,532.2 L268.9,530.4 L268.2,530.4 L267.5,530.4 L267.5,528.6 L266.9,528.6 L266.3,528.6 L266.3,526.8 L265.7,526.8 L265.1,526.8 L265.1,525.1 L264.5,525.1 L263.9,525.1 L263.9,523.3 L263.3,523.3 L262.4,523.3 L262.4,522.4 L261.6,522.4 L260.7,522.4 L260.7,521.5 L259.8,521.5 L258.9,521.5 L258.9,512.7 L258.0,512.7 L257.4,512.7 L257.4,510.1 L256.7,510.1 L256.1,510.1 L256.1,507.4 L255.4,507.4 L254.7,507.4 L254.7,503.9 L254.1,503.9 L253.4,503.9 L253.4,500.3 L252.7,500.3 L252.0,500.3 L252.0,493.2 L251.3,493.2 L250.7,493.2 L250.7,486.1 L250.0,486.1 L249.3,486.1 L249.3,480.8 L248.7,480.8 L248.1,480.8 L248.1,475.4 L247.4,475.4 L246.7,475.4 L246.7,467.4 L246.1,467.4 L245.4,467.4 L245.4,459.5 L244.7,459.5 L244.0,459.5 L244.0,457.3 L243.4,457.3 L242.8,457.3 L242.8,455.1 L242.1,455.1 L241.4,455.1 L241.4,450.3 L240.8,450.3 Z" fill="#7F007F"/>
<path d="M240.8,450.3 L241.4,450.3 L241.4,452.8 L242.1,452.8 L242.8,452.8 L242.8,453.9 L243.4,453.9 L244.0,453.9 L244.0,455.1 L244.7,455.1 L245.4,455.1 L245.4,459.3 L246.1,459.3 L246.7,459.3 L246.7,462.8 L247.4,462.8 L248.1,462.8 L248.1,464.4 L248.7,464.4 L249.3,464.4 L249.3,466.5 L250.0,466.5 L250.7,466.5 L250.7,470.4 L251.3,470.4 L252.0,470.4 L252.0,474.5 L252.7,474.5 L253.4,474.5 L253.4,476.4 L254.1,476.4 L254.7,476.4 L254.7,478.5 L255.4,478.5 L256.1,478.5 L256.1,480.1 L256.7,480.1 L257.4,480.1 L257.4,481.6 L258.0,481.6 L258.9,481.6 L258.9,486.8 L259.8,486.8 L260.7,486.8 L260.7,487.1 L261.6,487.1 L262.4,487.1 L262.4,487.8 L263.3,487.8 L263.9,487.8 L263.9,489.1 L264.5,489.1 L265.1,489.1 L265.1,490.4 L265.7,490.4 L266.3,490.4 L266.3,491.8 L266.9,491.8 L267.5,491.8 L267.5,493.3 L268.2,493.3 L268.9,493.3 L268.9,494.7 L269.5,494.7 L270.1,494.7 L270.1,495.6 L270.7,495.6 L271.3,495.6 L271.3,496.6 L271.9,496.6 L272.5,496.6 L272.5,497.5 L273.1,497.5 L280.2,498.9 L281.1,498.9 L281.1,499.8 L281.9,499.8 L282.8,499.8 L282.8,500.7 L283.7,500.7 L284.4,500.7 L284.4,502.4 L285.0,502.4 L285.7,502.4 L285.7,504.2 L286.4,504.2 L287.2,504.2 L287.2,504.7 L287.9,504.7 L288.7,504.7 L288.7,505.2 L289.5,505.2 L290.3,505.2 L290.3,505.7 L291.1,505.7 L291.8,505.7 L291.8,506.2 L292.6,506.2 L305.0,506.6 L305.6,506.6 L305.6,507.6 L306.3,507.6 L307.0,507.6 L307.0,508.6 L307.6,508.6 L313.0,508.8 L313.0,550.2 L307.6,549.9 L307.0,549.9 L307.0,548.8 L306.3,548.8 L305.6,548.8 L305.6,547.6 L305.0,547.6 L292.6,547.2 L291.8,547.2 L291.8,546.6 L291.1,546.6 L290.3,546.6 L290.3,545.9 L289.5,545.9 L288.7,545.9 L288.7,545.2 L287.9,545.2 L287.2,545.2 L287.2,544.6 L286.4,544.6 L285.7,544.6 L285.7,542.4 L285.0,542.4 L284.4,542.4 L284.4,540.1 L283.7,540.1 L282.8,540.1 L282.8,538.8 L281.9,538.8 L281.1,538.8 L281.1,537.5 L280.2,537.5 L273.1,536.6 L272.5,536.6 L272.5,535.1 L271.9,535.1 L271.3,535.1 L271.3,533.7 L270.7,533.7 L270.1,533.7 L270.1,532.2 L269.5,532.2 L268.9,532.2 L268.9,530.4 L268.2,530.4 L267.5,530.4 L267.5,528.6 L266.9,528.6 L266.3,528.6 L266.3,526.8 L265.7,526.8 L265.1,526.8 L265.1,525.1 L264.5,525.1 L263.9,525.1 L263.9,523.3 L263.3,523.3 L262.4,523.3 L262.4,522.4 L261.6,522.4 L260.7,522.4 L260.7,521.5 L259.8,521.5 L258.9,521.5 L258.9,512.7 L258.0,512.7 L257.4,512.7 L257.4,510.1 L256.7,510.1 L256.1,510.1 L256.1,507.4 L255.4,507.4 L254.7,507.4 L254.7,503.9 L254.1,503.9 L253.4,503.9 L253.4,500.3 L252.7,500.3 L252.0,500.3 L252.0,493.2 L251.3,493.2 L250.7,493.2 L250.7,486.1 L250.0,486.1 L249.3,486.1 L249.3,480.8 L248.7,480.8 L248.1,480.8 L248.1,475.4 L247.4,475.4 L246.7,475.4 L246.7,467.4 L246.1,467.4 L245.4,467.4 L245.4,459.5 L244.7,459.5 L244.0,459.5 L244.0,457.3 L243.4,457.3 L242.8,457.3 L242.8,455.1 L242.1,455.1 L241.4,455.1 L241.4,450.3 L240.8,450.3 Z" fill="#BF003F"/>
<path d="M240.8,450.3 L241.4,450.3 L241.4,453.8 L242.1,453.8 L242.8,453.8 L242.8,455.4 L243.4,455.4 L244.0,455.4 L244.0,457.0 L244.7,457.0 L245.4,457.0 L245.4,462.8 L246.1,462.8 L246.7,462.8 L246.7,468.2 L247.4,468.2 L248.1,468.2 L248.1,471.3 L248.7,471.3 L249.3,471.3 L249.3,474.7 L250.0,474.7 L250.7,474.7 L250.7,480.1 L251.3,480.1 L252.0,480.1 L252.0,485.7 L252.7,485.7 L253.4,485.7 L253.4,488.4 L254.1,488.4 L254.7,488.4 L254.7,491.2 L255.4,491.2 L256.1,491.2 L256.1,493.3 L256.7,493.3 L257.4,493.3 L257.4,495.4 L258.0,495.4 L258.9,495.4 L258.9,502.4 L259.8,502.4 L260.7,502.4 L260.7,503.0 L261.6,503.0 L262.4,503.0 L262.4,503.9 L263.3,503.9 L263.9,503.9 L263.9,505.4 L264.5,505.4 L265.1,505.4 L265.1,507.0 L265.7,507.0 L266.3,507.0 L266.3,508.7 L266.9,508.7 L267.5,508.7 L267.5,510.4 L268.2,510.4 L268.9,510.4 L268.9,512.1 L269.5,512.1 L270.1,512.1 L270.1,513.3 L270.7,513.3 L271.3,513.3 L271.3,514.6 L271.9,514.6 L272.5,514.6 L272.5,515.8 L273.1,515.8 L280.2,517.0 L281.1,517.0 L281.1,518.2 L281.9,518.2 L282.8,518.2 L282.8,519.4 L283.7,519.4 L284.4,519.4 L284.4,521.4 L285.0,521.4 L285.7,521.4 L285.7,523.6 L286.4,523.6 L287.2,523.6 L287.2,524.2 L287.9,524.2 L288.7,524.2 L288.7,524.8 L289.5,524.8 L290.3,524.8 L290.3,525.4 L291.1,525.4 L291.8,525.4 L291.8,526.0 L292.6,526.0 L305.0,526.5 L305.6,526.5 L305.6,527.6 L306.3,527.6 L307.0,527.6 L307.0,528.8 L307.6,528.8 L313.0,529.0 L313.0,550.2 L307.6,549.9 L307.0,549.9 L307.0,548.8 L306.3,548.8 L305.6,548.8 L305.6,547.6 L305.0,547.6 L292.6,547.2 L291.8,547.2 L291.8,546.6 L291.1,546.6 L290.3,546.6 L290.3,545.9 L289.5,545.9 L288.7,545.9 L288.7,545.2 L287.9,545.2 L287.2,545.2 L287.2,544.6 L286.4,544.6 L285.7,544.6 L285.7,542.4 L285.0,542.4 L284.4,542.4 L284.4,540.1 L283.7,540.1 L282.8,540.1 L282.8,538.8 L281.9,538.8 L281.1,538.8 L281.1,537.5 L280.2,537.5 L273.1,536.6 L272.5,536.6 L272.5,535.1 L271.9,535.1 L271.3,535.1 L271.3,533.7 L270.7,533.7 L270.1,533.7 L270.1,532.2 L269.5,532.2 L268.9,532.2 L268.9,530.4 L268.2,530.4 L267.5,530.4 L267.5,528.6 L266.9,528.6 L266.3,528.6 L266.3,526.8 L265.7,526.8 L265.1,526.8 L265.1,525.1 L264.5,525.1 L263.9,525.1 L263.9,523.3 L263.3,523.3 L262.4,523.3 L262.4,522.4 L261.6,522.4 L260.7,522.4 L260.7,521.5 L259.8,521.5 L258.9,521.5 L258.9,512.7 L258.0,512.7 L257.4,512.7 L257.4,510.1 L256.7,510.1 L256.1,510.1 L256.1,507.4 L255.4,507.4 L254.7,507.4 L254.7,503.9 L254.1,503.9 L253.4,503.9 L253.4,500.3 L252.7,500.3 L252.0,500.3 L252.0,493.2 L251.3,493.2 L250.7,493.2 L250.7,486.1 L250.0,486.1 L249.3,486.1 L249.3,480.8 L248.7,480.8 L248.1,480.8 L248.1,475.4 L247.4,475.4 L246.7,475.4 L246.7,467.4 L246.1,467.4 L245.4,467.4 L245.4,459.5 L244.7,459.5 L244.0,459.5 L244.0,457.3 L243.4,457.3 L242.8,457.3 L242.8,455.1 L242.1,455.1 L241.4,455.1 L241.4,450.3 L240.8,450.3 Z" fill="#FF0000"/>
<line x1="234.00" y1="450.30" x2="240.80" y2="450.30" stroke="#cf86b8" stroke-width="0.9" />
<rect x="230.00" y="427.50" width="86.70" height="15.80" fill="#d9d9d9" stroke="#5e5e5e" stroke-width="0.9" />
<text x="273.35" y="439.00" font-family="'Liberation Sans', sans-serif" font-size="9.8" text-anchor="middle" fill="#1a1a1a" font-weight="normal" font-style="normal" >Normal Karyotype</text>
<rect x="230.00" y="443.30" width="86.70" height="147.70" fill="none" stroke="#5e5e5e" stroke-width="0.9" />
<line x1="234.00" y1="591.00" x2="234.00" y2="593.20" stroke="#5e5e5e" stroke-width="0.9" />
<text x="234.00" y="601.80" font-family="'Liberation Sans', sans-serif" font-size="9.2" text-anchor="middle" fill="#4d4d4d" font-weight="normal" font-style="normal" >0</text>
<line x1="259.36" y1="591.00" x2="259.36" y2="593.20" stroke="#5e5e5e" stroke-width="0.9" />
<text x="259.36" y="601.80" font-family="'Liberation Sans', sans-serif" font-size="9.2" text-anchor="middle" fill="#4d4d4d" font-weight="normal" font-style="normal" >20</text>
<line x1="284.72" y1="591.00" x2="284.72" y2="593.20" stroke="#5e5e5e" stroke-width="0.9" />
<text x="284.72" y="601.80" font-family="'Liberation Sans', sans-serif" font-size="9.2" text-anchor="middle" fill="#4d4d4d" font-weight="normal" font-style="normal" >40</text>
<line x1="310.08" y1="591.00" x2="310.08" y2="593.20" stroke="#5e5e5e" stroke-width="0.9" />
<text x="310.08" y="601.80" font-family="'Liberation Sans', sans-serif" font-size="9.2" text-anchor="middle" fill="#4d4d4d" font-weight="normal" font-style="normal" >60</text>
<line x1="64.38" y1="611.20" x2="64.38" y2="759.50" stroke="#f2f2f2" stroke-width="0.6" />
<line x1="89.74" y1="611.20" x2="89.74" y2="759.50" stroke="#f2f2f2" stroke-width="0.6" />
<line x1="115.10" y1="611.20" x2="115.10" y2="759.50" stroke="#f2f2f2" stroke-width="0.6" />
<line x1="47.70" y1="741.69" x2="134.40" y2="741.69" stroke="#f2f2f2" stroke-width="0.6" />
<line x1="47.70" y1="706.26" x2="134.40" y2="706.26" stroke="#f2f2f2" stroke-width="0.6" />
<line x1="47.70" y1="670.84" x2="134.40" y2="670.84" stroke="#f2f2f2" stroke-width="0.6" />
<line x1="47.70" y1="635.41" x2="134.40" y2="635.41" stroke="#f2f2f2" stroke-width="0.6" />
<line x1="51.70" y1="611.20" x2="51.70" y2="759.50" stroke="#ebebeb" stroke-width="0.9" />
<line x1="77.06" y1="611.20" x2="77.06" y2="759.50" stroke="#ebebeb" stroke-width="0.9" />
<line x1="102.42" y1="611.20" x2="102.42" y2="759.50" stroke="#ebebeb" stroke-width="0.9" />
<line x1="127.78" y1="611.20" x2="127.78" y2="759.50" stroke="#ebebeb" stroke-width="0.9" />
<line x1="47.70" y1="723.98" x2="134.40" y2="723.98" stroke="#ebebeb" stroke-width="0.9" />
<line x1="47.70" y1="688.55" x2="134.40" y2="688.55" stroke="#ebebeb" stroke-width="0.9" />
<line x1="47.70" y1="653.12" x2="134.40" y2="653.12" stroke="#ebebeb" stroke-width="0.9" />
<line x1="47.70" y1="617.70" x2="134.40" y2="617.70" stroke="#ebebeb" stroke-width="0.9" />
<path d="M58.3,617.7 L58.8,617.7 L58.8,619.1 L59.2,619.1 L59.9,619.1 L59.9,620.1 L60.5,620.1 L61.1,620.1 L61.1,620.8 L61.8,620.8 L62.7,620.8 L62.7,622.5 L63.6,622.5 L64.5,622.5 L64.5,624.3 L65.4,624.3 L66.3,624.3 L66.3,628.9 L67.2,628.9 L68.1,628.9 L68.1,633.5 L68.9,633.5 L69.8,633.5 L69.8,636.7 L70.7,636.7 L71.4,636.7 L71.4,638.0 L72.1,638.0 L72.7,638.0 L72.7,639.7 L73.4,639.7 L74.1,639.7 L74.1,641.4 L74.7,641.4 L75.3,641.4 L75.3,642.7 L76.0,642.7 L76.9,642.7 L76.9,645.8 L77.8,645.8 L78.5,645.8 L78.5,646.9 L79.1,646.9 L79.8,646.9 L79.8,647.0 L80.4,647.0 L81.1,647.0 L81.1,647.1 L81.8,647.1 L82.4,647.1 L83.1,647.1 L83.8,647.1 L83.8,648.5 L84.6,648.5 L85.3,648.5 L85.3,650.2 L86.0,650.2 L86.8,650.2 L86.8,652.0 L87.5,652.0 L88.1,652.0 L88.1,652.9 L88.7,652.9 L89.3,652.9 L89.3,653.9 L89.9,653.9 L90.5,653.9 L90.5,654.8 L91.1,654.8 L98.2,654.8 L98.9,654.8 L98.9,655.5 L99.5,655.5 L100.2,655.5 L100.2,656.2 L100.8,656.2 L101.5,656.2 L101.5,657.0 L102.2,657.0 L102.8,657.0 L102.8,658.6 L103.5,658.6 L104.2,658.6 L104.2,659.7 L104.9,659.7 L105.6,659.7 L105.6,660.0 L106.3,660.0 L107.0,660.0 L107.0,660.3 L107.8,660.3 L108.5,660.3 L108.5,660.7 L109.2,660.7 L109.9,660.7 L109.9,661.0 L110.6,661.0 L123.0,661.8 L125.6,664.3 L130.6,664.3 L130.6,751.9 L125.6,751.9 L123.0,751.0 L110.6,750.7 L109.9,750.7 L109.9,750.3 L109.2,750.3 L108.5,750.3 L108.5,750.0 L107.8,750.0 L107.0,750.0 L107.0,749.6 L106.3,749.6 L105.6,749.6 L105.6,749.3 L104.9,749.3 L104.2,749.3 L104.2,748.9 L103.5,748.9 L102.8,748.9 L102.8,748.2 L102.2,748.2 L101.5,748.2 L101.5,747.5 L100.8,747.5 L100.2,747.5 L100.2,746.9 L99.5,746.9 L98.9,746.9 L98.9,746.2 L98.2,746.2 L91.1,745.4 L90.5,745.4 L90.5,744.5 L89.9,744.5 L89.3,744.5 L89.3,743.6 L88.7,743.6 L88.1,743.6 L88.1,742.7 L87.5,742.7 L86.8,742.7 L86.8,740.9 L86.0,740.9 L85.3,740.9 L85.3,739.2 L84.6,739.2 L83.8,739.2 L83.8,737.4 L83.1,737.4 L82.4,737.4 L82.4,736.7 L81.8,736.7 L81.1,736.7 L81.1,736.0 L80.4,736.0 L79.8,736.0 L79.8,735.4 L79.1,735.4 L78.5,735.4 L78.5,734.7 L77.8,734.7 L76.9,734.7 L76.9,728.5 L76.0,728.5 L75.3,728.5 L75.3,725.0 L74.7,725.0 L74.1,725.0 L74.1,721.4 L73.4,721.4 L72.7,721.4 L72.7,717.8 L72.1,717.8 L71.4,717.8 L71.4,714.3 L70.7,714.3 L69.8,714.3 L69.8,701.9 L68.9,701.9 L68.1,701.9 L68.1,686.0 L67.2,686.0 L66.3,686.0 L66.3,670.0 L65.4,670.0 L64.5,670.0 L64.5,655.9 L63.6,655.9 L62.7,655.9 L62.7,632.8 L61.8,632.8 L61.1,632.8 L61.1,628.4 L60.5,628.4 L59.9,628.4 L59.9,624.0 L59.2,624.0 L58.8,624.0 L58.8,617.7 L58.3,617.7 Z" fill="#0000FF"/>
<path d="M58.3,617.7 L58.8,617.7 L58.8,619.6 L59.2,619.6 L59.9,619.6 L59.9,621.0 L60.5,621.0 L61.1,621.0 L61.1,622.0 L61.8,622.0 L62.7,622.0 L62.7,625.2 L63.6,625.2 L64.5,625.2 L64.5,628.2 L65.4,628.2 L66.3,628.2 L66.3,634.6 L67.2,634.6 L68.1,634.6 L68.1,641.2 L68.9,641.2 L69.8,641.2 L69.8,645.9 L70.7,645.9 L71.4,645.9 L71.4,647.8 L72.1,647.8 L72.7,647.8 L72.7,650.1 L73.4,650.1 L74.1,650.1 L74.1,652.4 L74.7,652.4 L75.3,652.4 L75.3,654.3 L76.0,654.3 L76.9,654.3 L76.9,658.6 L77.8,658.6 L78.5,658.6 L78.5,659.9 L79.1,659.9 L79.8,659.9 L79.8,660.1 L80.4,660.1 L81.1,660.1 L81.1,660.3 L81.8,660.3 L82.4,660.3 L82.4,660.5 L83.1,660.5 L83.8,660.5 L83.8,662.3 L84.6,662.3 L85.3,662.3 L85.3,664.5 L86.0,664.5 L86.8,664.5 L86.8,666.8 L87.5,666.8 L88.1,666.8 L88.1,668.0 L88.7,668.0 L89.3,668.0 L89.3,669.2 L89.9,669.2 L90.5,669.2 L90.5,670.3 L91.1,670.3 L98.2,670.5 L98.9,670.5 L98.9,671.4 L99.5,671.4 L100.2,671.4 L100.2,672.4 L100.8,672.4 L101.5,672.4 L101.5,673.4 L102.2,673.4 L102.8,673.4 L102.8,675.2 L103.5,675.2 L104.2,675.2 L104.2,676.5 L104.9,676.5 L105.6,676.5 L105.6,677.0 L106.3,677.0 L107.0,677.0 L107.0,677.4 L107.8,677.4 L108.5,677.4 L108.5,677.9 L109.2,677.9 L109.9,677.9 L109.9,678.3 L110.6,678.3 L123.0,679.2 L125.6,682.1 L130.6,682.1 L130.6,751.9 L125.6,751.9 L123.0,751.0 L110.6,750.7 L109.9,750.7 L109.9,750.3 L109.2,750.3 L108.5,750.3 L108.5,750.0 L107.8,750.0 L107.0,750.0 L107.0,749.6 L106.3,749.6 L105.6,749.6 L105.6,749.3 L104.9,749.3 L104.2,749.3 L104.2,748.9 L103.5,748.9 L102.8,748.9 L102.8,748.2 L102.2,748.2 L101.5,748.2 L101.5,747.5 L100.8,747.5 L100.2,747.5 L100.2,746.9 L99.5,746.9 L98.9,746.9 L98.9,746.2 L98.2,746.2 L91.1,745.4 L90.5,745.4 L90.5,744.5 L89.9,744.5 L89.3,744.5 L89.3,743.6 L88.7,743.6 L88.1,743.6 L88.1,742.7 L87.5,742.7 L86.8,742.7 L86.8,740.9 L86.0,740.9 L85.3,740.9 L85.3,739.2 L84.6,739.2 L83.8,739.2 L83.8,737.4 L83.1,737.4 L82.4,737.4 L82.4,736.7 L81.8,736.7 L81.1,736.7 L81.1,736.0 L80.4,736.0 L79.8,736.0 L79.8,735.4 L79.1,735.4 L78.5,735.4 L78.5,734.7 L77.8,734.7 L76.9,734.7 L76.9,728.5 L76.0,728.5 L75.3,728.5 L75.3,725.0 L74.7,725.0 L74.1,725.0 L74.1,721.4 L73.4,721.4 L72.7,721.4 L72.7,717.8 L72.1,717.8 L71.4,717.8 L71.4,714.3 L70.7,714.3 L69.8,714.3 L69.8,701.9 L68.9,701.9 L68.1,701.9 L68.1,686.0 L67.2,686.0 L66.3,686.0 L66.3,670.0 L65.4,670.0 L64.5,670.0 L64.5,655.9 L63.6,655.9 L62.7,655.9 L62.7,632.8 L61.8,632.8 L61.1,632.8 L61.1,628.4 L60.5,628.4 L59.9,628.4 L59.9,624.0 L59.2,624.0 L58.8,624.0 L58.8,617.7 L58.3,617.7 Z" fill="#3F00BF"/>
<path d="M58.3,617.7 L58.8,617.7 L58.8,620.3 L59.2,620.3 L59.9,620.3 L59.9,622.2 L60.5,622.2 L61.1,622.2 L61.1,623.7 L61.8,623.7 L62.7,623.7 L62.7,629.3 L63.6,629.3 L64.5,629.3 L64.5,633.9 L65.4,633.9 L66.3,633.9 L66.3,642.7 L67.2,642.7 L68.1,642.7 L68.1,651.6 L68.9,651.6 L69.8,651.6 L69.8,658.4 L70.7,658.4 L71.4,658.4 L71.4,660.9 L72.1,660.9 L72.7,660.9 L72.7,663.8 L73.4,663.8 L74.1,663.8 L74.1,666.8 L74.7,666.8 L75.3,666.8 L75.3,669.4 L76.0,669.4 L76.9,669.4 L76.9,675.0 L77.8,675.0 L78.5,675.0 L78.5,676.4 L79.1,676.4 L79.8,676.4 L79.8,676.8 L80.4,676.8 L81.1,676.8 L81.1,677.2 L81.8,677.2 L82.4,677.2 L82.4,677.5 L83.1,677.5 L83.8,677.5 L83.8,679.7 L84.6,679.7 L85.3,679.7 L85.3,682.3 L86.0,682.3 L86.8,682.3 L86.8,685.0 L87.5,685.0 L88.1,685.0 L88.1,686.3 L88.7,686.3 L89.3,686.3 L89.3,687.8 L89.9,687.8 L90.5,687.8 L90.5,689.1 L91.1,689.1 L98.2,689.6 L98.9,689.6 L98.9,690.7 L99.5,690.7 L100.2,690.7 L100.2,691.8 L100.8,691.8 L101.5,691.8 L101.5,693.0 L102.2,693.0 L102.8,693.0 L102.8,694.9 L103.5,694.9 L104.2,694.9 L104.2,696.2 L104.9,696.2 L105.6,696.2 L105.6,696.8 L106.3,696.8 L107.0,696.8 L107.0,697.3 L107.8,697.3 L108.5,697.3 L108.5,697.9 L109.2,697.9 L109.9,697.9 L109.9,698.5 L110.6,698.5 L123.0,699.4 L125.6,702.3 L130.6,702.3 L130.6,751.9 L125.6,751.9 L123.0,751.0 L110.6,750.7 L109.9,750.7 L109.9,750.3 L109.2,750.3 L108.5,750.3 L108.5,750.0 L107.8,750.0 L107.0,750.0 L107.0,749.6 L106.3,749.6 L105.6,749.6 L105.6,749.3 L104.9,749.3 L104.2,749.3 L104.2,748.9 L103.5,748.9 L102.8,748.9 L102.8,748.2 L102.2,748.2 L101.5,748.2 L101.5,747.5 L100.8,747.5 L100.2,747.5 L100.2,746.9 L99.5,746.9 L98.9,746.9 L98.9,746.2 L98.2,746.2 L91.1,745.4 L90.5,745.4 L90.5,744.5 L89.9,744.5 L89.3,744.5 L89.3,743.6 L88.7,743.6 L88.1,743.6 L88.1,742.7 L87.5,742.7 L86.8,742.7 L86.8,740.9 L86.0,740.9 L85.3,740.9 L85.3,739.2 L84.6,739.2 L83.8,739.2 L83.8,737.4 L83.1,737.4 L82.4,737.4 L82.4,736.7 L81.8,736.7 L81.1,736.7 L81.1,736.0 L80.4,736.0 L79.8,736.0 L79.8,735.4 L79.1,735.4 L78.5,735.4 L78.5,734.7 L77.8,734.7 L76.9,734.7 L76.9,728.5 L76.0,728.5 L75.3,728.5 L75.3,725.0 L74.7,725.0 L74.1,725.0 L74.1,721.4 L73.4,721.4 L72.7,721.4 L72.7,717.8 L72.1,717.8 L71.4,717.8 L71.4,714.3 L70.7,714.3 L69.8,714.3 L69.8,701.9 L68.9,701.9 L68.1,701.9 L68.1,686.0 L67.2,686.0 L66.3,686.0 L66.3,670.0 L65.4,670.0 L64.5,670.0 L64.5,655.9 L63.6,655.9 L62.7,655.9 L62.7,632.8 L61.8,632.8 L61.1,632.8 L61.1,628.4 L60.5,628.4 L59.9,628.4 L59.9,624.0 L59.2,624.0 L58.8,624.0 L58.8,617.7 L58.3,617.7 Z" fill="#7F007F"/>
<path d="M58.3,617.7 L58.8,617.7 L58.8,621.2 L59.2,621.2 L59.9,621.2 L59.9,623.7 L60.5,623.7 L61.1,623.7 L61.1,625.9 L61.8,625.9 L62.7,625.9 L62.7,635.2 L63.6,635.2 L64.5,635.2 L64.5,642.2 L65.4,642.2 L66.3,642.2 L66.3,653.6 L67.2,653.6 L68.1,653.6 L68.1,665.2 L68.9,665.2 L69.8,665.2 L69.8,674.2 L70.7,674.2 L71.4,674.2 L71.4,677.4 L72.1,677.4 L72.7,677.4 L72.7,680.9 L73.4,680.9 L74.1,680.9 L74.1,684.4 L74.7,684.4 L75.3,684.4 L75.3,687.7 L76.0,687.7 L76.9,687.7 L76.9,694.4 L77.8,694.4 L78.5,694.4 L78.5,695.7 L79.1,695.7 L79.8,695.7 L79.8,696.3 L80.4,696.3 L81.1,696.3 L81.1,696.8 L81.8,696.8 L82.4,696.8 L82.4,697.4 L83.1,697.4 L83.8,697.4 L83.8,699.8 L84.6,699.8 L85.3,699.8 L85.3,702.5 L86.0,702.5 L86.8,702.5 L86.8,705.3 L87.5,705.3 L88.1,705.3 L88.1,706.7 L88.7,706.7 L89.3,706.7 L89.3,708.2 L89.9,708.2 L90.5,708.2 L90.5,709.6 L91.1,709.6 L98.2,710.4 L98.9,710.4 L98.9,711.5 L99.5,711.5 L100.2,711.5 L100.2,712.7 L100.8,712.7 L101.5,712.7 L101.5,714.0 L102.2,714.0 L102.8,714.0 L102.8,715.6 L103.5,715.6 L104.2,715.6 L104.2,716.8 L104.9,716.8 L105.6,716.8 L105.6,717.4 L106.3,717.4 L107.0,717.4 L107.0,718.0 L107.8,718.0 L108.5,718.0 L108.5,718.6 L109.2,718.6 L109.9,718.6 L109.9,719.2 L110.6,719.2 L123.0,720.0 L125.6,722.5 L130.6,722.5 L130.6,751.9 L125.6,751.9 L123.0,751.0 L110.6,750.7 L109.9,750.7 L109.9,750.3 L109.2,750.3 L108.5,750.3 L108.5,750.0 L107.8,750.0 L107.0,750.0 L107.0,749.6 L106.3,749.6 L105.6,749.6 L105.6,749.3 L104.9,749.3 L104.2,749.3 L104.2,748.9 L103.5,748.9 L102.8,748.9 L102.8,748.2 L102.2,748.2 L101.5,748.2 L101.5,747.5 L100.8,747.5 L100.2,747.5 L100.2,746.9 L99.5,746.9 L98.9,746.9 L98.9,746.2 L98.2,746.2 L91.1,745.4 L90.5,745.4 L90.5,744.5 L89.9,744.5 L89.3,744.5 L89.3,743.6 L88.7,743.6 L88.1,743.6 L88.1,742.7 L87.5,742.7 L86.8,742.7 L86.8,740.9 L86.0,740.9 L85.3,740.9 L85.3,739.2 L84.6,739.2 L83.8,739.2 L83.8,737.4 L83.1,737.4 L82.4,737.4 L82.4,736.7 L81.8,736.7 L81.1,736.7 L81.1,736.0 L80.4,736.0 L79.8,736.0 L79.8,735.4 L79.1,735.4 L78.5,735.4 L78.5,734.7 L77.8,734.7 L76.9,734.7 L76.9,728.5 L76.0,728.5 L75.3,728.5 L75.3,725.0 L74.7,725.0 L74.1,725.0 L74.1,721.4 L73.4,721.4 L72.7,721.4 L72.7,717.8 L72.1,717.8 L71.4,717.8 L71.4,714.3 L70.7,714.3 L69.8,714.3 L69.8,701.9 L68.9,701.9 L68.1,701.9 L68.1,686.0 L67.2,686.0 L66.3,686.0 L66.3,670.0 L65.4,670.0 L64.5,670.0 L64.5,655.9 L63.6,655.9 L62.7,655.9 L62.7,632.8 L61.8,632.8 L61.1,632.8 L61.1,628.4 L60.5,628.4 L59.9,628.4 L59.9,624.0 L59.2,624.0 L58.8,624.0 L58.8,617.7 L58.3,617.7 Z" fill="#BF003F"/>
<path d="M58.3,617.7 L58.8,617.7 L58.8,622.4 L59.2,622.4 L59.9,622.4 L59.9,625.7 L60.5,625.7 L61.1,625.7 L61.1,628.9 L61.8,628.9 L62.7,628.9 L62.7,643.9 L63.6,643.9 L64.5,643.9 L64.5,654.0 L65.4,654.0 L66.3,654.0 L66.3,668.1 L67.2,668.1 L68.1,668.1 L68.1,682.2 L68.9,682.2 L69.8,682.2 L69.8,693.4 L70.7,693.4 L71.4,693.4 L71.4,697.0 L72.1,697.0 L72.7,697.0 L72.7,700.8 L73.4,700.8 L74.1,700.8 L74.1,704.6 L74.7,704.6 L75.3,704.6 L75.3,708.3 L76.0,708.3 L76.9,708.3 L76.9,715.4 L77.8,715.4 L78.5,715.4 L78.5,716.4 L79.1,716.4 L79.8,716.4 L79.8,717.1 L80.4,717.1 L81.1,717.1 L81.1,717.8 L81.8,717.8 L82.4,717.8 L82.4,718.5 L83.1,718.5 L83.8,718.5 L83.8,720.8 L84.6,720.8 L85.3,720.8 L85.3,723.3 L86.0,723.3 L86.8,723.3 L86.8,725.7 L87.5,725.7 L88.1,725.7 L88.1,727.0 L88.7,727.0 L89.3,727.0 L89.3,728.3 L89.9,728.3 L90.5,728.3 L90.5,729.6 L91.1,729.6 L98.2,730.5 L98.9,730.5 L98.9,731.5 L99.5,731.5 L100.2,731.5 L100.2,732.5 L100.8,732.5 L101.5,732.5 L101.5,733.6 L102.2,733.6 L102.8,733.6 L102.8,734.8 L103.5,734.8 L104.2,734.8 L104.2,735.6 L104.9,735.6 L105.6,735.6 L105.6,736.1 L106.3,736.1 L107.0,736.1 L107.0,736.6 L107.8,736.6 L108.5,736.6 L108.5,737.2 L109.2,737.2 L109.9,737.2 L109.9,737.8 L110.6,737.8 L123.0,738.3 L125.6,740.1 L130.6,740.1 L130.6,751.9 L125.6,751.9 L123.0,751.0 L110.6,750.7 L109.9,750.7 L109.9,750.3 L109.2,750.3 L108.5,750.3 L108.5,750.0 L107.8,750.0 L107.0,750.0 L107.0,749.6 L106.3,749.6 L105.6,749.6 L105.6,749.3 L104.9,749.3 L104.2,749.3 L104.2,748.9 L103.5,748.9 L102.8,748.9 L102.8,748.2 L102.2,748.2 L101.5,748.2 L101.5,747.5 L100.8,747.5 L100.2,747.5 L100.2,746.9 L99.5,746.9 L98.9,746.9 L98.9,746.2 L98.2,746.2 L91.1,745.4 L90.5,745.4 L90.5,744.5 L89.9,744.5 L89.3,744.5 L89.3,743.6 L88.7,743.6 L88.1,743.6 L88.1,742.7 L87.5,742.7 L86.8,742.7 L86.8,740.9 L86.0,740.9 L85.3,740.9 L85.3,739.2 L84.6,739.2 L83.8,739.2 L83.8,737.4 L83.1,737.4 L82.4,737.4 L82.4,736.7 L81.8,736.7 L81.1,736.7 L81.1,736.0 L80.4,736.0 L79.8,736.0 L79.8,735.4 L79.1,735.4 L78.5,735.4 L78.5,734.7 L77.8,734.7 L76.9,734.7 L76.9,728.5 L76.0,728.5 L75.3,728.5 L75.3,725.0 L74.7,725.0 L74.1,725.0 L74.1,721.4 L73.4,721.4 L72.7,721.4 L72.7,717.8 L72.1,717.8 L71.4,717.8 L71.4,714.3 L70.7,714.3 L69.8,714.3 L69.8,701.9 L68.9,701.9 L68.1,701.9 L68.1,686.0 L67.2,686.0 L66.3,686.0 L66.3,670.0 L65.4,670.0 L64.5,670.0 L64.5,655.9 L63.6,655.9 L62.7,655.9 L62.7,632.8 L61.8,632.8 L61.1,632.8 L61.1,628.4 L60.5,628.4 L59.9,628.4 L59.9,624.0 L59.2,624.0 L58.8,624.0 L58.8,617.7 L58.3,617.7 Z" fill="#FF0000"/>
<line x1="51.70" y1="617.70" x2="58.30" y2="617.70" stroke="#cf86b8" stroke-width="0.9" />
<rect x="47.70" y="595.40" width="86.70" height="15.80" fill="#d9d9d9" stroke="#5e5e5e" stroke-width="0.9" />
<text x="91.05" y="606.90" font-family="'Liberation Sans', sans-serif" font-size="9.8" text-anchor="middle" fill="#1a1a1a" font-weight="normal" font-style="normal" >Other Karyotype</text>
<rect x="47.70" y="611.20" width="86.70" height="148.30" fill="none" stroke="#5e5e5e" stroke-width="0.9" />
<line x1="45.50" y1="723.98" x2="47.70" y2="723.98" stroke="#5e5e5e" stroke-width="0.9" />
<text x="44.30" y="727.52" font-family="'Liberation Sans', sans-serif" font-size="10.0" text-anchor="end" fill="#4d4d4d" font-weight="normal" font-style="normal" >0.25</text>
<line x1="45.50" y1="688.55" x2="47.70" y2="688.55" stroke="#5e5e5e" stroke-width="0.9" />
<text x="44.30" y="692.10" font-family="'Liberation Sans', sans-serif" font-size="10.0" text-anchor="end" fill="#4d4d4d" font-weight="normal" font-style="normal" >0.50</text>
<line x1="45.50" y1="653.12" x2="47.70" y2="653.12" stroke="#5e5e5e" stroke-width="0.9" />
<text x="44.30" y="656.67" font-family="'Liberation Sans', sans-serif" font-size="10.0" text-anchor="end" fill="#4d4d4d" font-weight="normal" font-style="normal" >0.75</text>
<line x1="45.50" y1="617.70" x2="47.70" y2="617.70" stroke="#5e5e5e" stroke-width="0.9" />
<text x="44.30" y="621.25" font-family="'Liberation Sans', sans-serif" font-size="10.0" text-anchor="end" fill="#4d4d4d" font-weight="normal" font-style="normal" >1.00</text>
<line x1="51.70" y1="759.50" x2="51.70" y2="761.70" stroke="#5e5e5e" stroke-width="0.9" />
<text x="51.70" y="770.30" font-family="'Liberation Sans', sans-serif" font-size="9.2" text-anchor="middle" fill="#4d4d4d" font-weight="normal" font-style="normal" >0</text>
<line x1="77.06" y1="759.50" x2="77.06" y2="761.70" stroke="#5e5e5e" stroke-width="0.9" />
<text x="77.06" y="770.30" font-family="'Liberation Sans', sans-serif" font-size="9.2" text-anchor="middle" fill="#4d4d4d" font-weight="normal" font-style="normal" >20</text>
<line x1="102.42" y1="759.50" x2="102.42" y2="761.70" stroke="#5e5e5e" stroke-width="0.9" />
<text x="102.42" y="770.30" font-family="'Liberation Sans', sans-serif" font-size="9.2" text-anchor="middle" fill="#4d4d4d" font-weight="normal" font-style="normal" >40</text>
<line x1="127.78" y1="759.50" x2="127.78" y2="761.70" stroke="#5e5e5e" stroke-width="0.9" />
<text x="127.78" y="770.30" font-family="'Liberation Sans', sans-serif" font-size="9.2" text-anchor="middle" fill="#4d4d4d" font-weight="normal" font-style="normal" >60</text>
<line x1="155.53" y1="611.20" x2="155.53" y2="759.50" stroke="#f2f2f2" stroke-width="0.6" />
<line x1="180.89" y1="611.20" x2="180.89" y2="759.50" stroke="#f2f2f2" stroke-width="0.6" />
<line x1="206.25" y1="611.20" x2="206.25" y2="759.50" stroke="#f2f2f2" stroke-width="0.6" />
<line x1="138.85" y1="741.69" x2="225.55" y2="741.69" stroke="#f2f2f2" stroke-width="0.6" />
<line x1="138.85" y1="706.26" x2="225.55" y2="706.26" stroke="#f2f2f2" stroke-width="0.6" />
<line x1="138.85" y1="670.84" x2="225.55" y2="670.84" stroke="#f2f2f2" stroke-width="0.6" />
<line x1="138.85" y1="635.41" x2="225.55" y2="635.41" stroke="#f2f2f2" stroke-width="0.6" />
<line x1="142.85" y1="611.20" x2="142.85" y2="759.50" stroke="#ebebeb" stroke-width="0.9" />
<line x1="168.21" y1="611.20" x2="168.21" y2="759.50" stroke="#ebebeb" stroke-width="0.9" />
<line x1="193.57" y1="611.20" x2="193.57" y2="759.50" stroke="#ebebeb" stroke-width="0.9" />
<line x1="218.93" y1="611.20" x2="218.93" y2="759.50" stroke="#ebebeb" stroke-width="0.9" />
<line x1="138.85" y1="723.98" x2="225.55" y2="723.98" stroke="#ebebeb" stroke-width="0.9" />
<line x1="138.85" y1="688.55" x2="225.55" y2="688.55" stroke="#ebebeb" stroke-width="0.9" />
<line x1="138.85" y1="653.12" x2="225.55" y2="653.12" stroke="#ebebeb" stroke-width="0.9" />
<line x1="138.85" y1="617.70" x2="225.55" y2="617.70" stroke="#ebebeb" stroke-width="0.9" />
<path d="M149.3,617.7 L150.2,617.7 L150.2,618.2 L151.1,618.2 L151.9,618.2 L151.9,618.9 L152.8,618.9 L153.5,618.9 L153.5,619.9 L154.2,619.9 L154.8,619.9 L154.8,620.9 L155.5,620.9 L156.2,620.9 L156.2,621.7 L156.8,621.7 L157.5,621.7 L157.5,622.5 L158.2,622.5 L158.8,622.5 L158.8,624.1 L159.5,624.1 L160.2,624.1 L160.2,626.0 L160.8,626.0 L161.7,626.0 L161.7,628.0 L162.6,628.0 L163.2,628.0 L163.2,628.2 L163.9,628.2 L164.5,628.2 L164.5,628.5 L165.2,628.5 L165.9,628.5 L165.9,628.8 L166.6,628.8 L167.2,628.8 L167.2,629.0 L167.9,629.0 L168.4,629.0 L168.4,630.1 L168.8,630.1 L169.5,630.1 L169.5,630.8 L170.3,630.8 L171.0,630.8 L171.0,631.5 L171.7,631.5 L172.5,631.5 L172.5,631.6 L173.2,631.6 L173.9,631.6 L173.9,632.0 L174.6,632.0 L175.2,632.0 L175.2,632.4 L175.9,632.4 L176.6,632.4 L176.6,633.1 L177.2,633.1 L177.8,633.1 L177.8,633.9 L178.5,633.9 L179.1,633.9 L179.1,634.6 L179.7,634.6 L180.3,634.6 L180.3,635.0 L180.9,635.0 L181.5,635.0 L181.5,635.4 L182.1,635.4 L189.2,636.0 L189.9,636.0 L189.9,636.4 L190.7,636.4 L191.4,636.4 L191.4,636.7 L192.1,636.7 L192.9,636.7 L192.9,637.1 L193.6,637.1 L194.3,637.1 L194.3,637.7 L194.9,637.7 L195.6,637.7 L195.6,638.3 L196.3,638.3 L197.1,638.3 L197.1,638.5 L197.9,638.5 L198.6,638.5 L198.6,638.8 L199.4,638.8 L200.2,638.8 L200.2,639.1 L200.9,639.1 L201.7,639.1 L201.7,639.4 L202.5,639.4 L214.0,639.8 L214.7,639.8 L214.7,640.2 L215.3,640.2 L215.9,640.2 L215.9,640.6 L216.6,640.6 L222.0,640.6 L222.0,725.3 L216.6,725.3 L215.9,725.3 L215.9,724.2 L215.3,724.2 L214.7,724.2 L214.7,723.2 L214.0,723.2 L202.5,722.9 L201.7,722.9 L201.7,722.3 L200.9,722.3 L200.2,722.3 L200.2,721.7 L199.4,721.7 L198.6,721.7 L198.6,721.1 L197.9,721.1 L197.1,721.1 L197.1,720.5 L196.3,720.5 L195.6,720.5 L195.6,718.8 L194.9,718.8 L194.3,718.8 L194.3,717.0 L193.6,717.0 L192.9,717.0 L192.9,715.8 L192.1,715.8 L191.4,715.8 L191.4,714.7 L190.7,714.7 L189.9,714.7 L189.9,713.5 L189.2,713.5 L182.1,712.6 L181.5,712.6 L181.5,711.1 L180.9,711.1 L180.3,711.1 L180.3,709.6 L179.7,709.6 L179.1,709.6 L179.1,708.1 L178.5,708.1 L177.8,708.1 L177.8,706.4 L177.2,706.4 L176.6,706.4 L176.6,704.6 L175.9,704.6 L175.2,704.6 L175.2,702.4 L174.6,702.4 L173.9,702.4 L173.9,700.2 L173.2,700.2 L172.5,700.2 L172.5,699.3 L171.7,699.3 L171.0,699.3 L171.0,698.4 L170.3,698.4 L169.5,698.4 L169.5,697.5 L168.8,697.5 L168.4,697.5 L168.4,691.3 L167.9,691.3 L167.2,691.3 L167.2,688.6 L166.6,688.6 L165.9,688.6 L165.9,686.0 L165.2,686.0 L164.5,686.0 L164.5,682.5 L163.9,682.5 L163.2,682.5 L163.2,678.9 L162.6,678.9 L161.7,678.9 L161.7,671.8 L160.8,671.8 L160.2,671.8 L160.2,663.8 L159.5,663.8 L158.8,663.8 L158.8,655.9 L158.2,655.9 L157.5,655.9 L157.5,649.6 L156.8,649.6 L156.2,649.6 L156.2,643.4 L155.5,643.4 L154.8,643.4 L154.8,635.5 L154.2,635.5 L153.5,635.5 L153.5,627.5 L152.8,627.5 L151.9,627.5 L151.9,622.2 L151.1,622.2 L150.2,622.2 L150.2,617.7 L149.3,617.7 Z" fill="#0000FF"/>
<path d="M149.3,617.7 L150.2,617.7 L150.2,618.5 L151.1,618.5 L151.9,618.5 L151.9,619.5 L152.8,619.5 L153.5,619.5 L153.5,621.1 L154.2,621.1 L154.8,621.1 L154.8,622.7 L155.5,622.7 L156.2,622.7 L156.2,623.9 L156.8,623.9 L157.5,623.9 L157.5,625.2 L158.2,625.2 L158.8,625.2 L158.8,627.5 L159.5,627.5 L160.2,627.5 L160.2,630.2 L160.8,630.2 L161.7,630.2 L161.7,632.9 L162.6,632.9 L163.2,632.9 L163.2,633.4 L163.9,633.4 L164.5,633.4 L164.5,634.0 L165.2,634.0 L165.9,634.0 L165.9,634.4 L166.6,634.4 L167.2,634.4 L167.2,634.9 L167.9,634.9 L168.4,634.9 L168.4,636.6 L168.8,636.6 L169.5,636.6 L169.5,637.5 L170.3,637.5 L171.0,637.5 L171.0,638.4 L171.7,638.4 L172.5,638.4 L172.5,638.5 L173.2,638.5 L173.9,638.5 L173.9,639.2 L174.6,639.2 L175.2,639.2 L175.2,639.9 L175.9,639.9 L176.6,639.9 L176.6,640.8 L177.2,640.8 L177.8,640.8 L177.8,641.9 L178.5,641.9 L179.1,641.9 L179.1,642.8 L179.7,642.8 L180.3,642.8 L180.3,643.4 L180.9,643.4 L181.5,643.4 L181.5,644.0 L182.1,644.0 L189.2,644.8 L189.9,644.8 L189.9,645.3 L190.7,645.3 L191.4,645.3 L191.4,645.8 L192.1,645.8 L192.9,645.8 L192.9,646.3 L193.6,646.3 L194.3,646.3 L194.3,647.2 L194.9,647.2 L195.6,647.2 L195.6,648.1 L196.3,648.1 L197.1,648.1 L197.1,648.4 L197.9,648.4 L198.6,648.4 L198.6,648.8 L199.4,648.8 L200.2,648.8 L200.2,649.2 L200.9,649.2 L201.7,649.2 L201.7,649.5 L202.5,649.5 L214.0,650.0 L214.7,650.0 L214.7,650.6 L215.3,650.6 L215.9,650.6 L215.9,651.2 L216.6,651.2 L222.0,651.2 L222.0,725.3 L216.6,725.3 L215.9,725.3 L215.9,724.2 L215.3,724.2 L214.7,724.2 L214.7,723.2 L214.0,723.2 L202.5,722.9 L201.7,722.9 L201.7,722.3 L200.9,722.3 L200.2,722.3 L200.2,721.7 L199.4,721.7 L198.6,721.7 L198.6,721.1 L197.9,721.1 L197.1,721.1 L197.1,720.5 L196.3,720.5 L195.6,720.5 L195.6,718.8 L194.9,718.8 L194.3,718.8 L194.3,717.0 L193.6,717.0 L192.9,717.0 L192.9,715.8 L192.1,715.8 L191.4,715.8 L191.4,714.7 L190.7,714.7 L189.9,714.7 L189.9,713.5 L189.2,713.5 L182.1,712.6 L181.5,712.6 L181.5,711.1 L180.9,711.1 L180.3,711.1 L180.3,709.6 L179.7,709.6 L179.1,709.6 L179.1,708.1 L178.5,708.1 L177.8,708.1 L177.8,706.4 L177.2,706.4 L176.6,706.4 L176.6,704.6 L175.9,704.6 L175.2,704.6 L175.2,702.4 L174.6,702.4 L173.9,702.4 L173.9,700.2 L173.2,700.2 L172.5,700.2 L172.5,699.3 L171.7,699.3 L171.0,699.3 L171.0,698.4 L170.3,698.4 L169.5,698.4 L169.5,697.5 L168.8,697.5 L168.4,697.5 L168.4,691.3 L167.9,691.3 L167.2,691.3 L167.2,688.6 L166.6,688.6 L165.9,688.6 L165.9,686.0 L165.2,686.0 L164.5,686.0 L164.5,682.5 L163.9,682.5 L163.2,682.5 L163.2,678.9 L162.6,678.9 L161.7,678.9 L161.7,671.8 L160.8,671.8 L160.2,671.8 L160.2,663.8 L159.5,663.8 L158.8,663.8 L158.8,655.9 L158.2,655.9 L157.5,655.9 L157.5,649.6 L156.8,649.6 L156.2,649.6 L156.2,643.4 L155.5,643.4 L154.8,643.4 L154.8,635.5 L154.2,635.5 L153.5,635.5 L153.5,627.5 L152.8,627.5 L151.9,627.5 L151.9,622.2 L151.1,622.2 L150.2,622.2 L150.2,617.7 L149.3,617.7 Z" fill="#3F00BF"/>
<path d="M149.3,617.7 L150.2,617.7 L150.2,619.0 L151.1,619.0 L151.9,619.0 L151.9,620.5 L152.8,620.5 L153.5,620.5 L153.5,622.9 L154.2,622.9 L154.8,622.9 L154.8,625.3 L155.5,625.3 L156.2,625.3 L156.2,627.2 L156.8,627.2 L157.5,627.2 L157.5,629.2 L158.2,629.2 L158.8,629.2 L158.8,632.4 L159.5,632.4 L160.2,632.4 L160.2,636.2 L160.8,636.2 L161.7,636.2 L161.7,639.9 L162.6,639.9 L163.2,639.9 L163.2,640.8 L163.9,640.8 L164.5,640.8 L164.5,641.8 L165.2,641.8 L165.9,641.8 L165.9,642.6 L166.6,642.6 L167.2,642.6 L167.2,643.4 L167.9,643.4 L168.4,643.4 L168.4,646.0 L168.8,646.0 L169.5,646.0 L169.5,647.1 L170.3,647.1 L171.0,647.1 L171.0,648.1 L171.7,648.1 L172.5,648.1 L172.5,648.4 L173.2,648.4 L173.9,648.4 L173.9,649.4 L174.6,649.4 L175.2,649.4 L175.2,650.4 L175.9,650.4 L176.6,650.4 L176.6,651.7 L177.2,651.7 L177.8,651.7 L177.8,653.0 L178.5,653.0 L179.1,653.0 L179.1,654.2 L179.7,654.2 L180.3,654.2 L180.3,655.1 L180.9,655.1 L181.5,655.1 L181.5,655.9 L182.1,655.9 L189.2,656.8 L189.9,656.8 L189.9,657.5 L190.7,657.5 L191.4,657.5 L191.4,658.3 L192.1,658.3 L192.9,658.3 L192.9,659.0 L193.6,659.0 L194.3,659.0 L194.3,660.2 L194.9,660.2 L195.6,660.2 L195.6,661.4 L196.3,661.4 L197.1,661.4 L197.1,661.8 L197.9,661.8 L198.6,661.8 L198.6,662.3 L199.4,662.3 L200.2,662.3 L200.2,662.8 L200.9,662.8 L201.7,662.8 L201.7,663.3 L202.5,663.3 L214.0,663.8 L214.7,663.8 L214.7,664.6 L215.3,664.6 L215.9,664.6 L215.9,665.4 L216.6,665.4 L222.0,665.4 L222.0,725.3 L216.6,725.3 L215.9,725.3 L215.9,724.2 L215.3,724.2 L214.7,724.2 L214.7,723.2 L214.0,723.2 L202.5,722.9 L201.7,722.9 L201.7,722.3 L200.9,722.3 L200.2,722.3 L200.2,721.7 L199.4,721.7 L198.6,721.7 L198.6,721.1 L197.9,721.1 L197.1,721.1 L197.1,720.5 L196.3,720.5 L195.6,720.5 L195.6,718.8 L194.9,718.8 L194.3,718.8 L194.3,717.0 L193.6,717.0 L192.9,717.0 L192.9,715.8 L192.1,715.8 L191.4,715.8 L191.4,714.7 L190.7,714.7 L189.9,714.7 L189.9,713.5 L189.2,713.5 L182.1,712.6 L181.5,712.6 L181.5,711.1 L180.9,711.1 L180.3,711.1 L180.3,709.6 L179.7,709.6 L179.1,709.6 L179.1,708.1 L178.5,708.1 L177.8,708.1 L177.8,706.4 L177.2,706.4 L176.6,706.4 L176.6,704.6 L175.9,704.6 L175.2,704.6 L175.2,702.4 L174.6,702.4 L173.9,702.4 L173.9,700.2 L173.2,700.2 L172.5,700.2 L172.5,699.3 L171.7,699.3 L171.0,699.3 L171.0,698.4 L170.3,698.4 L169.5,698.4 L169.5,697.5 L168.8,697.5 L168.4,697.5 L168.4,691.3 L167.9,691.3 L167.2,691.3 L167.2,688.6 L166.6,688.6 L165.9,688.6 L165.9,686.0 L165.2,686.0 L164.5,686.0 L164.5,682.5 L163.9,682.5 L163.2,682.5 L163.2,678.9 L162.6,678.9 L161.7,678.9 L161.7,671.8 L160.8,671.8 L160.2,671.8 L160.2,663.8 L159.5,663.8 L158.8,663.8 L158.8,655.9 L158.2,655.9 L157.5,655.9 L157.5,649.6 L156.8,649.6 L156.2,649.6 L156.2,643.4 L155.5,643.4 L154.8,643.4 L154.8,635.5 L154.2,635.5 L153.5,635.5 L153.5,627.5 L152.8,627.5 L151.9,627.5 L151.9,622.2 L151.1,622.2 L150.2,622.2 L150.2,617.7 L149.3,617.7 Z" fill="#7F007F"/>
<path d="M149.3,617.7 L150.2,617.7 L150.2,619.7 L151.1,619.7 L151.9,619.7 L151.9,622.0 L152.8,622.0 L153.5,622.0 L153.5,625.6 L154.2,625.6 L154.8,625.6 L154.8,629.3 L155.5,629.3 L156.2,629.3 L156.2,632.3 L156.8,632.3 L157.5,632.3 L157.5,635.2 L158.2,635.2 L158.8,635.2 L158.8,639.8 L159.5,639.8 L160.2,639.8 L160.2,644.9 L160.8,644.9 L161.7,644.9 L161.7,649.8 L162.6,649.8 L163.2,649.8 L163.2,651.4 L163.9,651.4 L164.5,651.4 L164.5,653.0 L165.2,653.0 L165.9,653.0 L165.9,654.3 L166.6,654.3 L167.2,654.3 L167.2,655.6 L167.9,655.6 L168.4,655.6 L168.4,659.4 L168.8,659.4 L169.5,659.4 L169.5,660.6 L170.3,660.6 L171.0,660.6 L171.0,661.7 L171.7,661.7 L172.5,661.7 L172.5,662.2 L173.2,662.2 L173.9,662.2 L173.9,663.6 L174.6,663.6 L175.2,663.6 L175.2,665.0 L175.9,665.0 L176.6,665.0 L176.6,666.6 L177.2,666.6 L177.8,666.6 L177.8,668.3 L178.5,668.3 L179.1,668.3 L179.1,669.7 L179.7,669.7 L180.3,669.7 L180.3,670.8 L180.9,670.8 L181.5,670.8 L181.5,672.0 L182.1,672.0 L189.2,673.0 L189.9,673.0 L189.9,673.9 L190.7,673.9 L191.4,673.9 L191.4,674.9 L192.1,674.9 L192.9,674.9 L192.9,675.8 L193.6,675.8 L194.3,675.8 L194.3,677.3 L194.9,677.3 L195.6,677.3 L195.6,678.9 L196.3,678.9 L197.1,678.9 L197.1,679.4 L197.9,679.4 L198.6,679.4 L198.6,680.0 L199.4,680.0 L200.2,680.0 L200.2,680.6 L200.9,680.6 L201.7,680.6 L201.7,681.2 L202.5,681.2 L214.0,681.7 L214.7,681.7 L214.7,682.7 L215.3,682.7 L215.9,682.7 L215.9,683.7 L216.6,683.7 L222.0,683.7 L222.0,725.3 L216.6,725.3 L215.9,725.3 L215.9,724.2 L215.3,724.2 L214.7,724.2 L214.7,723.2 L214.0,723.2 L202.5,722.9 L201.7,722.9 L201.7,722.3 L200.9,722.3 L200.2,722.3 L200.2,721.7 L199.4,721.7 L198.6,721.7 L198.6,721.1 L197.9,721.1 L197.1,721.1 L197.1,720.5 L196.3,720.5 L195.6,720.5 L195.6,718.8 L194.9,718.8 L194.3,718.8 L194.3,717.0 L193.6,717.0 L192.9,717.0 L192.9,715.8 L192.1,715.8 L191.4,715.8 L191.4,714.7 L190.7,714.7 L189.9,714.7 L189.9,713.5 L189.2,713.5 L182.1,712.6 L181.5,712.6 L181.5,711.1 L180.9,711.1 L180.3,711.1 L180.3,709.6 L179.7,709.6 L179.1,709.6 L179.1,708.1 L178.5,708.1 L177.8,708.1 L177.8,706.4 L177.2,706.4 L176.6,706.4 L176.6,704.6 L175.9,704.6 L175.2,704.6 L175.2,702.4 L174.6,702.4 L173.9,702.4 L173.9,700.2 L173.2,700.2 L172.5,700.2 L172.5,699.3 L171.7,699.3 L171.0,699.3 L171.0,698.4 L170.3,698.4 L169.5,698.4 L169.5,697.5 L168.8,697.5 L168.4,697.5 L168.4,691.3 L167.9,691.3 L167.2,691.3 L167.2,688.6 L166.6,688.6 L165.9,688.6 L165.9,686.0 L165.2,686.0 L164.5,686.0 L164.5,682.5 L163.9,682.5 L163.2,682.5 L163.2,678.9 L162.6,678.9 L161.7,678.9 L161.7,671.8 L160.8,671.8 L160.2,671.8 L160.2,663.8 L159.5,663.8 L158.8,663.8 L158.8,655.9 L158.2,655.9 L157.5,655.9 L157.5,649.6 L156.8,649.6 L156.2,649.6 L156.2,643.4 L155.5,643.4 L154.8,643.4 L154.8,635.5 L154.2,635.5 L153.5,635.5 L153.5,627.5 L152.8,627.5 L151.9,627.5 L151.9,622.2 L151.1,622.2 L150.2,622.2 L150.2,617.7 L149.3,617.7 Z" fill="#BF003F"/>
<path d="M149.3,617.7 L150.2,617.7 L150.2,620.7 L151.1,620.7 L151.9,620.7 L151.9,624.2 L152.8,624.2 L153.5,624.2 L153.5,629.6 L154.2,629.6 L154.8,629.6 L154.8,635.2 L155.5,635.2 L156.2,635.2 L156.2,639.5 L156.8,639.5 L157.5,639.5 L157.5,643.9 L158.2,643.9 L158.8,643.9 L158.8,650.1 L159.5,650.1 L160.2,650.1 L160.2,656.6 L160.8,656.6 L161.7,656.6 L161.7,662.7 L162.6,662.7 L163.2,662.7 L163.2,665.2 L163.9,665.2 L164.5,665.2 L164.5,667.8 L165.2,667.8 L165.9,667.8 L165.9,669.7 L166.6,669.7 L167.2,669.7 L167.2,671.7 L167.9,671.7 L168.4,671.7 L168.4,676.7 L168.8,676.7 L169.5,676.7 L169.5,677.9 L170.3,677.9 L171.0,677.9 L171.0,679.0 L171.7,679.0 L172.5,679.0 L172.5,679.7 L173.2,679.7 L173.9,679.7 L173.9,681.6 L174.6,681.6 L175.2,681.6 L175.2,683.4 L175.9,683.4 L176.6,683.4 L176.6,685.2 L177.2,685.2 L177.8,685.2 L177.8,687.0 L178.5,687.0 L179.1,687.0 L179.1,688.6 L179.7,688.6 L180.3,688.6 L180.3,690.0 L180.9,690.0 L181.5,690.0 L181.5,691.4 L182.1,691.4 L189.2,692.4 L189.9,692.4 L189.9,693.5 L190.7,693.5 L191.4,693.5 L191.4,694.6 L192.1,694.6 L192.9,694.6 L192.9,695.8 L193.6,695.8 L194.3,695.8 L194.3,697.5 L194.9,697.5 L195.6,697.5 L195.6,699.3 L196.3,699.3 L197.1,699.3 L197.1,699.9 L197.9,699.9 L198.6,699.9 L198.6,700.5 L199.4,700.5 L200.2,700.5 L200.2,701.2 L200.9,701.2 L201.7,701.2 L201.7,701.8 L202.5,701.8 L214.0,702.3 L214.7,702.3 L214.7,703.4 L215.3,703.4 L215.9,703.4 L215.9,704.5 L216.6,704.5 L222.0,704.5 L222.0,725.3 L216.6,725.3 L215.9,725.3 L215.9,724.2 L215.3,724.2 L214.7,724.2 L214.7,723.2 L214.0,723.2 L202.5,722.9 L201.7,722.9 L201.7,722.3 L200.9,722.3 L200.2,722.3 L200.2,721.7 L199.4,721.7 L198.6,721.7 L198.6,721.1 L197.9,721.1 L197.1,721.1 L197.1,720.5 L196.3,720.5 L195.6,720.5 L195.6,718.8 L194.9,718.8 L194.3,718.8 L194.3,717.0 L193.6,717.0 L192.9,717.0 L192.9,715.8 L192.1,715.8 L191.4,715.8 L191.4,714.7 L190.7,714.7 L189.9,714.7 L189.9,713.5 L189.2,713.5 L182.1,712.6 L181.5,712.6 L181.5,711.1 L180.9,711.1 L180.3,711.1 L180.3,709.6 L179.7,709.6 L179.1,709.6 L179.1,708.1 L178.5,708.1 L177.8,708.1 L177.8,706.4 L177.2,706.4 L176.6,706.4 L176.6,704.6 L175.9,704.6 L175.2,704.6 L175.2,702.4 L174.6,702.4 L173.9,702.4 L173.9,700.2 L173.2,700.2 L172.5,700.2 L172.5,699.3 L171.7,699.3 L171.0,699.3 L171.0,698.4 L170.3,698.4 L169.5,698.4 L169.5,697.5 L168.8,697.5 L168.4,697.5 L168.4,691.3 L167.9,691.3 L167.2,691.3 L167.2,688.6 L166.6,688.6 L165.9,688.6 L165.9,686.0 L165.2,686.0 L164.5,686.0 L164.5,682.5 L163.9,682.5 L163.2,682.5 L163.2,678.9 L162.6,678.9 L161.7,678.9 L161.7,671.8 L160.8,671.8 L160.2,671.8 L160.2,663.8 L159.5,663.8 L158.8,663.8 L158.8,655.9 L158.2,655.9 L157.5,655.9 L157.5,649.6 L156.8,649.6 L156.2,649.6 L156.2,643.4 L155.5,643.4 L154.8,643.4 L154.8,635.5 L154.2,635.5 L153.5,635.5 L153.5,627.5 L152.8,627.5 L151.9,627.5 L151.9,622.2 L151.1,622.2 L150.2,622.2 L150.2,617.7 L149.3,617.7 Z" fill="#FF0000"/>
<line x1="142.85" y1="617.70" x2="149.30" y2="617.70" stroke="#cf86b8" stroke-width="0.9" />
<rect x="138.85" y="595.40" width="86.70" height="15.80" fill="#d9d9d9" stroke="#5e5e5e" stroke-width="0.9" />
<text x="182.20" y="606.90" font-family="'Liberation Sans', sans-serif" font-size="9.8" text-anchor="middle" fill="#1a1a1a" font-weight="normal" font-style="normal" >t(8;21)</text>
<rect x="138.85" y="611.20" width="86.70" height="148.30" fill="none" stroke="#5e5e5e" stroke-width="0.9" />
<line x1="142.85" y1="759.50" x2="142.85" y2="761.70" stroke="#5e5e5e" stroke-width="0.9" />
<text x="142.85" y="770.30" font-family="'Liberation Sans', sans-serif" font-size="9.2" text-anchor="middle" fill="#4d4d4d" font-weight="normal" font-style="normal" >0</text>
<line x1="168.21" y1="759.50" x2="168.21" y2="761.70" stroke="#5e5e5e" stroke-width="0.9" />
<text x="168.21" y="770.30" font-family="'Liberation Sans', sans-serif" font-size="9.2" text-anchor="middle" fill="#4d4d4d" font-weight="normal" font-style="normal" >20</text>
<line x1="193.57" y1="759.50" x2="193.57" y2="761.70" stroke="#5e5e5e" stroke-width="0.9" />
<text x="193.57" y="770.30" font-family="'Liberation Sans', sans-serif" font-size="9.2" text-anchor="middle" fill="#4d4d4d" font-weight="normal" font-style="normal" >40</text>
<line x1="218.93" y1="759.50" x2="218.93" y2="761.70" stroke="#5e5e5e" stroke-width="0.9" />
<text x="218.93" y="770.30" font-family="'Liberation Sans', sans-serif" font-size="9.2" text-anchor="middle" fill="#4d4d4d" font-weight="normal" font-style="normal" >60</text>
<text x="182.50" y="781.70" font-family="'Liberation Sans', sans-serif" font-size="10.5" text-anchor="middle" fill="#000" font-weight="normal" font-style="normal" >Time</text>
<text transform="translate(20.6,601.3) rotate(-90)" font-family="'Liberation Sans', sans-serif" font-size="10.66" text-anchor="middle">Survival Probability</text>
<text x="251.40" y="629.40" font-family="'Liberation Sans', sans-serif" font-size="8.95" text-anchor="start" fill="#000" font-weight="normal" font-style="normal" >log2(FPKM+1)</text>
<rect x="251.10" y="635.10" width="13.00" height="12.99" fill="#0000FF" stroke="none" stroke-width="0" />
<text x="268.00" y="644.52" font-family="'Liberation Sans', sans-serif" font-size="8.2" text-anchor="start" fill="#1a1a1a" font-weight="normal" font-style="normal" >2.2 − 3.3</text>
<rect x="251.10" y="648.04" width="13.00" height="12.99" fill="#3F00BF" stroke="none" stroke-width="0" />
<text x="268.00" y="657.46" font-family="'Liberation Sans', sans-serif" font-size="8.2" text-anchor="start" fill="#1a1a1a" font-weight="normal" font-style="normal" >3.3 − 4.4</text>
<rect x="251.10" y="660.98" width="13.00" height="12.99" fill="#7F007F" stroke="none" stroke-width="0" />
<text x="268.00" y="670.40" font-family="'Liberation Sans', sans-serif" font-size="8.2" text-anchor="start" fill="#1a1a1a" font-weight="normal" font-style="normal" >4.4 − 5.5</text>
<rect x="251.10" y="673.92" width="13.00" height="12.99" fill="#BF003F" stroke="none" stroke-width="0" />
<text x="268.00" y="683.34" font-family="'Liberation Sans', sans-serif" font-size="8.2" text-anchor="start" fill="#1a1a1a" font-weight="normal" font-style="normal" >5.5 − 6.6</text>
<rect x="251.10" y="686.86" width="13.00" height="12.99" fill="#FF0000" stroke="none" stroke-width="0" />
<text x="268.00" y="696.28" font-family="'Liberation Sans', sans-serif" font-size="8.2" text-anchor="start" fill="#1a1a1a" font-weight="normal" font-style="normal" >6.6 − 7.7</text>
<text x="252.80" y="715.80" font-family="'Liberation Sans', sans-serif" font-size="9.26" text-anchor="start" fill="#000" font-weight="normal" font-style="normal" >HR=1.50</text>
<text x="252.80" y="727.50" font-family="'Liberation Sans', sans-serif" font-size="9.26" text-anchor="start" fill="#000" font-weight="normal" font-style="normal" >p-value=0.007</text>
<text x="332.50" y="582.30" font-family="'Liberation Serif', serif" font-size="35" text-anchor="start" fill="#000" font-weight="normal" font-style="normal" >e</text>
<line x1="384.00" y1="606.00" x2="405.00" y2="634.00" stroke="#0a0a0a" stroke-width="1.55" />
<line x1="464.50" y1="610.00" x2="474.00" y2="637.00" stroke="#0a0a0a" stroke-width="1.55" />
<line x1="402.00" y1="661.00" x2="427.00" y2="694.00" stroke="#0a0a0a" stroke-width="1.55" />
<line x1="474.00" y1="657.00" x2="450.00" y2="694.00" stroke="#0a0a0a" stroke-width="1.55" />
<line x1="449.00" y1="719.00" x2="470.00" y2="730.00" stroke="#0a0a0a" stroke-width="1.55" />
<line x1="528.00" y1="728.00" x2="560.00" y2="719.00" stroke="#0a0a0a" stroke-width="1.55" />
<line x1="602.00" y1="606.00" x2="586.00" y2="632.00" stroke="#0a0a0a" stroke-width="1.55" />
<line x1="624.00" y1="606.00" x2="633.00" y2="632.00" stroke="#0a0a0a" stroke-width="1.55" />
<line x1="636.80" y1="720.00" x2="633.50" y2="740.00" stroke="#0a0a0a" stroke-width="1.55" />
<line x1="400.00" y1="779.00" x2="417.00" y2="784.00" stroke="#0a0a0a" stroke-width="1.55" />
<line x1="532.00" y1="802.00" x2="547.00" y2="792.00" stroke="#0a0a0a" stroke-width="1.55" />
<path d="M456.6,702.3 C468,695.5 489,684.5 506,678.8 C522,673.5 538,672.2 552,673.4 C566,674.6 578,677.6 590,676.6 C600,675.4 609,669.5 616.5,665.2" fill="none" stroke="#0a0a0a" stroke-width="1.5" stroke-dasharray="3.2,2.6"/>
<path d="M619.8,663.0 L613.8,663.7 L616.0,665.0 L617.0,668.3 Z" fill="#111" stroke="#111" stroke-width="0.8" stroke-linejoin="round"/>
<line x1="585.30" y1="692.60" x2="630.00" y2="669.50" stroke="#8faadc" stroke-width="1.05" stroke-dasharray="2.6,2.8"/>
<ellipse cx="375.90" cy="599.30" rx="18.30" ry="18.90" fill="#6f6f6f" opacity="0.6" filter="url(#blur)"/>
<ellipse cx="374.90" cy="598.10" rx="18.30" ry="18.90" fill="#dae3f3" stroke="#1a1a1a" stroke-width="1.0"/>
<text x="375.20" y="601.70" font-family="'Liberation Serif', serif" font-size="7.5" font-weight="bold" font-style="italic" text-anchor="middle" textLength="21.80" lengthAdjust="spacingAndGlyphs" fill="#1a1a1a">GNA15</text>
<ellipse cx="453.80" cy="604.00" rx="18.30" ry="18.90" fill="#6f6f6f" opacity="0.6" filter="url(#blur)"/>
<ellipse cx="452.80" cy="602.80" rx="18.30" ry="18.90" fill="#dae3f3" stroke="#1a1a1a" stroke-width="1.0"/>
<text x="452.50" y="606.40" font-family="'Liberation Serif', serif" font-size="7.5" font-weight="bold" font-style="italic" text-anchor="middle" textLength="31.80" lengthAdjust="spacingAndGlyphs" fill="#1a1a1a">CCNB1IP1</text>
<ellipse cx="575.80" cy="644.00" rx="18.30" ry="18.90" fill="#6f6f6f" opacity="0.6" filter="url(#blur)"/>
<ellipse cx="574.80" cy="642.80" rx="18.30" ry="18.90" fill="#dae3f3" stroke="#1a1a1a" stroke-width="1.0"/>
<text x="574.85" y="646.60" font-family="'Liberation Serif', serif" font-size="7.5" font-weight="bold" font-style="italic" text-anchor="middle" textLength="30.00" lengthAdjust="spacingAndGlyphs" fill="#1a1a1a">CCDC88A</text>
<ellipse cx="632.70" cy="649.60" rx="18.30" ry="18.90" fill="#6f6f6f" opacity="0.6" filter="url(#blur)"/>
<ellipse cx="631.70" cy="648.40" rx="18.30" ry="18.90" fill="#dae3f3" stroke="#1a1a1a" stroke-width="1.0"/>
<text x="631.80" y="652.70" font-family="'Liberation Serif', serif" font-size="7.5" font-weight="bold" font-style="italic" text-anchor="middle" textLength="22.70" lengthAdjust="spacingAndGlyphs" fill="#1a1a1a">MYL6B</text>
<ellipse cx="439.60" cy="709.40" rx="18.30" ry="18.90" fill="#6f6f6f" opacity="0.6" filter="url(#blur)"/>
<ellipse cx="438.60" cy="708.20" rx="18.30" ry="18.90" fill="#dae3f3" stroke="#1a1a1a" stroke-width="1.0"/>
<text x="438.40" y="710.80" font-family="'Liberation Serif', serif" font-size="7.5" font-weight="bold" font-style="italic" text-anchor="middle" textLength="15.20" lengthAdjust="spacingAndGlyphs" fill="#1a1a1a">MYB</text>
<ellipse cx="572.10" cy="707.80" rx="18.30" ry="18.90" fill="#6f6f6f" opacity="0.6" filter="url(#blur)"/>
<ellipse cx="571.10" cy="706.60" rx="18.30" ry="18.90" fill="#dae3f3" stroke="#1a1a1a" stroke-width="1.0"/>
<text x="571.40" y="710.00" font-family="'Liberation Serif', serif" font-size="7.5" font-weight="bold" font-style="italic" text-anchor="middle" textLength="29.30" lengthAdjust="spacingAndGlyphs" fill="#1a1a1a">SYNCRIP</text>
<ellipse cx="631.80" cy="756.20" rx="18.30" ry="18.90" fill="#6f6f6f" opacity="0.6" filter="url(#blur)"/>
<ellipse cx="630.80" cy="755.00" rx="18.30" ry="18.90" fill="#dae3f3" stroke="#1a1a1a" stroke-width="1.0"/>
<text x="630.80" y="758.90" font-family="'Liberation Serif', serif" font-size="7.5" font-weight="bold" font-style="italic" text-anchor="middle" textLength="17.50" lengthAdjust="spacingAndGlyphs" fill="#1a1a1a">PAN3</text>
<ellipse cx="386.00" cy="778.40" rx="18.30" ry="18.90" fill="#6f6f6f" opacity="0.6" filter="url(#blur)"/>
<ellipse cx="385.00" cy="777.20" rx="18.30" ry="18.90" fill="#dae3f3" stroke="#1a1a1a" stroke-width="1.0"/>
<text x="385.50" y="780.40" font-family="'Liberation Serif', serif" font-size="7.5" font-weight="bold" font-style="italic" text-anchor="middle" textLength="23.10" lengthAdjust="spacingAndGlyphs" fill="#1a1a1a">HACD1</text>
<ellipse cx="518.00" cy="809.70" rx="18.30" ry="18.90" fill="#6f6f6f" opacity="0.6" filter="url(#blur)"/>
<ellipse cx="517.00" cy="808.50" rx="18.30" ry="18.90" fill="#dae3f3" stroke="#1a1a1a" stroke-width="1.0"/>
<text x="517.30" y="812.10" font-family="'Liberation Serif', serif" font-size="7.5" font-weight="bold" font-style="italic" text-anchor="middle" textLength="22.40" lengthAdjust="spacingAndGlyphs" fill="#1a1a1a">TAF1D</text>
<ellipse cx="404.80" cy="648.70" rx="39.70" ry="16.70" fill="#6f6f6f" opacity="0.6" filter="url(#blur)"/>
<ellipse cx="403.80" cy="647.50" rx="39.70" ry="16.70" fill="#d0cece" stroke="#1a1a1a" stroke-width="1.0"/>
<text x="403.90" y="650.60" font-family="'Liberation Serif', serif" font-size="8.0" font-weight="bold" font-style="normal" text-anchor="middle" textLength="43.90" lengthAdjust="spacingAndGlyphs" fill="#111">Hematopoiesis</text>
<ellipse cx="503.70" cy="647.60" rx="43.00" ry="16.80" fill="#6f6f6f" opacity="0.6" filter="url(#blur)"/>
<ellipse cx="502.70" cy="646.40" rx="43.00" ry="16.80" fill="#d0cece" stroke="#1a1a1a" stroke-width="1.0"/>
<text x="502.85" y="640.80" font-family="'Liberation Serif', serif" font-size="6.1" font-weight="bold" font-style="normal" text-anchor="middle" textLength="46.80" lengthAdjust="spacingAndGlyphs" fill="#111">Cell Cycle (G2/M)</text>
<text x="502.90" y="648.90" font-family="'Liberation Serif', serif" font-size="6.1" font-weight="bold" font-style="normal" text-anchor="middle" textLength="42.70" lengthAdjust="spacingAndGlyphs" fill="#111">via regulation of</text>
<text x="503.00" y="656.90" font-family="'Liberation Serif', serif" font-size="6.1" font-weight="bold" font-style="normal" text-anchor="middle" textLength="22.60" lengthAdjust="spacingAndGlyphs" fill="#111">Cyclin B</text>
<ellipse cx="611.90" cy="594.70" rx="39.60" ry="16.60" fill="#6f6f6f" opacity="0.6" filter="url(#blur)"/>
<ellipse cx="610.90" cy="593.50" rx="39.60" ry="16.60" fill="#d0cece" stroke="#1a1a1a" stroke-width="1.0"/>
<text x="610.80" y="592.00" font-family="'Liberation Serif', serif" font-size="7.8" font-weight="bold" font-style="normal" text-anchor="middle" textLength="38.90" lengthAdjust="spacingAndGlyphs" fill="#111">Cytoskeleton</text>
<text x="611.20" y="601.70" font-family="'Liberation Serif', serif" font-size="7.8" font-weight="bold" font-style="normal" text-anchor="middle" textLength="36.10" lengthAdjust="spacingAndGlyphs" fill="#111">Remodeling</text>
<ellipse cx="499.30" cy="741.10" rx="43.40" ry="16.80" fill="#6f6f6f" opacity="0.6" filter="url(#blur)"/>
<ellipse cx="498.30" cy="739.90" rx="43.40" ry="16.80" fill="#d0cece" stroke="#1a1a1a" stroke-width="1.0"/>
<text x="498.35" y="743.10" font-family="'Liberation Serif', serif" font-size="8.1" font-weight="bold" font-style="normal" text-anchor="middle" textLength="49.80" lengthAdjust="spacingAndGlyphs" fill="#111">Leukemogenesis</text>
<ellipse cx="638.00" cy="707.20" rx="40.00" ry="17.10" fill="#6f6f6f" opacity="0.6" filter="url(#blur)"/>
<ellipse cx="637.00" cy="706.00" rx="40.00" ry="17.10" fill="#d0cece" stroke="#1a1a1a" stroke-width="1.0"/>
<text x="636.80" y="704.00" font-family="'Liberation Serif', serif" font-size="7.7" font-weight="bold" font-style="normal" text-anchor="middle" textLength="15.10" lengthAdjust="spacingAndGlyphs" fill="#111">RNA</text>
<text x="636.85" y="713.50" font-family="'Liberation Serif', serif" font-size="7.7" font-weight="bold" font-style="normal" text-anchor="middle" textLength="37.00" lengthAdjust="spacingAndGlyphs" fill="#111">Degradation</text>
<ellipse cx="454.30" cy="784.50" rx="39.20" ry="17.00" fill="#6f6f6f" opacity="0.6" filter="url(#blur)"/>
<ellipse cx="453.30" cy="783.30" rx="39.20" ry="17.00" fill="#d0cece" stroke="#1a1a1a" stroke-width="1.0"/>
<text x="452.90" y="781.20" font-family="'Liberation Serif', serif" font-size="7.8" font-weight="bold" font-style="normal" text-anchor="middle" textLength="32.30" lengthAdjust="spacingAndGlyphs" fill="#111">Fatty Acid</text>
<text x="453.10" y="790.50" font-family="'Liberation Serif', serif" font-size="7.8" font-weight="bold" font-style="normal" text-anchor="middle" textLength="35.90" lengthAdjust="spacingAndGlyphs" fill="#111">Metabolism</text>
<ellipse cx="587.80" cy="789.90" rx="44.70" ry="16.80" fill="#6f6f6f" opacity="0.6" filter="url(#blur)"/>
<ellipse cx="586.80" cy="788.70" rx="44.70" ry="16.80" fill="#d0cece" stroke="#1a1a1a" stroke-width="1.0"/>
<text x="587.05" y="786.90" font-family="'Liberation Serif', serif" font-size="7.9" font-weight="bold" font-style="normal" text-anchor="middle" textLength="52.20" lengthAdjust="spacingAndGlyphs" fill="#111">RNA Polymerase</text>
<text x="587.00" y="796.30" font-family="'Liberation Serif', serif" font-size="7.9" font-weight="bold" font-style="normal" text-anchor="middle" textLength="46.50" lengthAdjust="spacingAndGlyphs" fill="#111">I Transcription</text>
<ellipse cx="653.20" cy="857.70" rx="28.00" ry="10.80" fill="#6f6f6f" opacity="0.6" filter="url(#blur)"/>
<ellipse cx="652.20" cy="856.50" rx="28.00" ry="10.80" fill="#d0cece" stroke="#1a1a1a" stroke-width="1.0"/>
<text x="651.85" y="854.80" font-family="'Liberation Serif', serif" font-size="5.7" font-weight="bold" font-style="normal" text-anchor="middle" textLength="24.30" lengthAdjust="spacingAndGlyphs" fill="#111">Associated</text>
<text x="651.65" y="862.40" font-family="'Liberation Serif', serif" font-size="5.7" font-weight="bold" font-style="normal" text-anchor="middle" textLength="20.50" lengthAdjust="spacingAndGlyphs" fill="#111">Function</text>
<text x="638.75" y="830.20" font-family="'Liberation Serif', serif" font-size="7.3" font-weight="normal" font-style="normal" text-anchor="middle" textLength="18.90" lengthAdjust="spacingAndGlyphs" fill="#111">targets</text>
<line x1="653.70" y1="828.00" x2="671.00" y2="828.00" stroke="#000" stroke-width="1.7" stroke-dasharray="6.1,4.8"/>
<path d="M672.3,824.6 L678.4,828.0 L672.3,831.4" fill="none" stroke="#000" stroke-width="1.7"/>
<text x="638.50" y="841.10" font-family="'Liberation Serif', serif" font-size="7.5" font-weight="normal" font-style="normal" text-anchor="middle" textLength="9.80" lengthAdjust="spacingAndGlyphs" fill="#111">PPI</text>
<line x1="650.40" y1="838.10" x2="678.00" y2="838.10" stroke="#8fa9dc" stroke-width="1.5" stroke-dasharray="6.1,4.6"/>
</g>
</svg>
</body></html>
